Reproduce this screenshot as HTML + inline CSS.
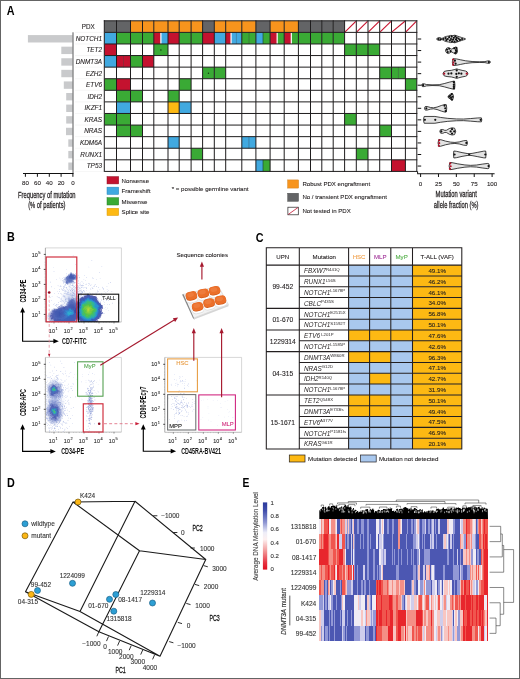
<!DOCTYPE html>
<html lang="en">
<head>
<meta charset="utf-8">
<title>Figure: PDX engraftment, mutation hierarchy and DNA methylation in T-ALL</title>
<style>
html,body{margin:0;padding:0;background:#fff}
body{width:520px;height:679px;overflow:hidden;font-family:"Liberation Sans",sans-serif}
#fig{position:relative;width:520px;height:679px;overflow:hidden;background:#fff}
#fig svg{position:absolute;left:0;top:0;display:block;will-change:transform}
#fig text{font-family:"Liberation Sans",sans-serif}
</style>
</head>
<body>
<div id="fig">
<svg width="520" height="679" viewBox="0 0 520 679">
<!-- frame -->
<rect x="0.5" y="0.5" width="519" height="678" fill="#fff" stroke="#646464" stroke-width="1"/>
<g id="panelA">
<text x="0.00" y="4.30" font-size="12" font-weight="bold" fill="#000" transform="translate(6.70 10.40) scale(0.9 1)">A</text>
<rect x="104.30" y="20.80" width="12.20" height="11.59" fill="#636466"/>
<rect x="116.50" y="20.80" width="14.00" height="11.59" fill="#636466"/>
<rect x="130.50" y="20.80" width="12.00" height="11.59" fill="#f7941d"/>
<rect x="142.50" y="20.80" width="11.30" height="11.59" fill="#f7941d"/>
<rect x="153.80" y="20.80" width="14.20" height="11.59" fill="#f7941d"/>
<rect x="168.00" y="20.80" width="11.20" height="11.59" fill="#f7941d"/>
<rect x="179.20" y="20.80" width="11.90" height="11.59" fill="#f7941d"/>
<rect x="191.10" y="20.80" width="11.50" height="11.59" fill="#f7941d"/>
<rect x="202.60" y="20.80" width="11.70" height="11.59" fill="#636466"/>
<rect x="214.30" y="20.80" width="11.40" height="11.59" fill="#f7941d"/>
<rect x="225.70" y="20.80" width="16.10" height="11.59" fill="#f7941d"/>
<rect x="241.80" y="20.80" width="14.10" height="11.59" fill="#f7941d"/>
<rect x="255.90" y="20.80" width="14.20" height="11.59" fill="#636466"/>
<rect x="270.10" y="20.80" width="14.10" height="11.59" fill="#f7941d"/>
<rect x="284.20" y="20.80" width="14.20" height="11.59" fill="#f7941d"/>
<rect x="298.40" y="20.80" width="12.10" height="11.59" fill="#636466"/>
<rect x="310.50" y="20.80" width="11.30" height="11.59" fill="#636466"/>
<rect x="321.80" y="20.80" width="11.40" height="11.59" fill="#636466"/>
<rect x="333.20" y="20.80" width="11.40" height="11.59" fill="#636466"/>
<line x1="345.10" y1="31.89" x2="355.80" y2="21.30" stroke="#c8142f" stroke-width="1.15"/>
<line x1="356.80" y1="31.89" x2="367.50" y2="21.30" stroke="#c8142f" stroke-width="1.15"/>
<line x1="368.50" y1="31.89" x2="379.20" y2="21.30" stroke="#c8142f" stroke-width="1.15"/>
<line x1="380.20" y1="31.89" x2="391.00" y2="21.30" stroke="#c8142f" stroke-width="1.15"/>
<line x1="392.00" y1="31.89" x2="404.90" y2="21.30" stroke="#c8142f" stroke-width="1.15"/>
<line x1="405.90" y1="31.89" x2="416.30" y2="21.30" stroke="#c8142f" stroke-width="1.15"/>
<rect x="104.30" y="32.39" width="12.20" height="11.58" fill="#41a9e0"/>
<rect x="116.50" y="32.39" width="14.00" height="11.58" fill="#3aaa35"/>
<rect x="130.50" y="32.39" width="12.00" height="11.58" fill="#3aaa35"/>
<rect x="142.50" y="32.39" width="11.30" height="11.58" fill="#3aaa35"/>
<rect x="153.80" y="32.39" width="7.10" height="11.58" fill="#c4122f"/>
<rect x="160.90" y="32.39" width="7.10" height="11.58" fill="#41a9e0"/>
<rect x="160.30" y="32.39" width="1.20" height="11.58" fill="#fff"/>
<rect x="168.00" y="32.39" width="11.20" height="11.58" fill="#c4122f"/>
<rect x="179.20" y="32.39" width="11.90" height="11.58" fill="#3aaa35"/>
<rect x="191.10" y="32.39" width="11.50" height="11.58" fill="#3aaa35"/>
<rect x="202.60" y="32.39" width="11.70" height="11.58" fill="#c4122f"/>
<rect x="214.30" y="32.39" width="11.40" height="11.58" fill="#41a9e0"/>
<rect x="225.70" y="32.39" width="5.37" height="11.58" fill="#c4122f"/>
<rect x="231.07" y="32.39" width="5.37" height="11.58" fill="#41a9e0"/>
<rect x="236.43" y="32.39" width="5.37" height="11.58" fill="#41a9e0"/>
<rect x="230.47" y="32.39" width="1.20" height="11.58" fill="#fff"/>
<line x1="236.43" y1="32.39" x2="236.43" y2="43.97" stroke="#1c5f86" stroke-width="0.6"/>
<rect x="241.80" y="32.39" width="7.05" height="11.58" fill="#3aaa35"/>
<rect x="248.85" y="32.39" width="7.05" height="11.58" fill="#3aaa35"/>
<line x1="248.85" y1="32.39" x2="248.85" y2="43.97" stroke="#1d5a1c" stroke-width="0.6"/>
<rect x="255.90" y="32.39" width="7.10" height="11.58" fill="#41a9e0"/>
<rect x="263.00" y="32.39" width="7.10" height="11.58" fill="#3aaa35"/>
<line x1="263.00" y1="32.39" x2="263.00" y2="43.97" stroke="#1d4a3a" stroke-width="0.7"/>
<rect x="270.10" y="32.39" width="7.05" height="11.58" fill="#c4122f"/>
<rect x="277.15" y="32.39" width="7.05" height="11.58" fill="#3aaa35"/>
<rect x="276.55" y="32.39" width="1.20" height="11.58" fill="#fff"/>
<rect x="284.20" y="32.39" width="7.10" height="11.58" fill="#c4122f"/>
<rect x="291.30" y="32.39" width="7.10" height="11.58" fill="#3aaa35"/>
<rect x="290.70" y="32.39" width="1.20" height="11.58" fill="#fff"/>
<rect x="298.40" y="32.39" width="12.10" height="11.58" fill="#3aaa35"/>
<rect x="310.50" y="32.39" width="11.30" height="11.58" fill="#3aaa35"/>
<rect x="321.80" y="32.39" width="11.40" height="11.58" fill="#3aaa35"/>
<rect x="333.20" y="32.39" width="11.40" height="11.58" fill="#3aaa35"/>
<rect x="104.30" y="43.97" width="12.20" height="11.59" fill="#c4122f"/>
<rect x="153.80" y="43.97" width="14.20" height="11.59" fill="#3aaa35"/>
<rect x="344.60" y="43.97" width="11.70" height="11.59" fill="#3aaa35"/>
<rect x="356.30" y="43.97" width="11.70" height="11.59" fill="#3aaa35"/>
<rect x="368.00" y="43.97" width="11.70" height="11.59" fill="#3aaa35"/>
<rect x="104.30" y="55.56" width="12.20" height="11.58" fill="#41a9e0"/>
<rect x="116.50" y="55.56" width="7.00" height="11.58" fill="#c4122f"/>
<rect x="123.50" y="55.56" width="7.00" height="11.58" fill="#c4122f"/>
<line x1="123.50" y1="55.56" x2="123.50" y2="67.14" stroke="#6a0a18" stroke-width="0.6"/>
<rect x="130.50" y="55.56" width="12.00" height="11.58" fill="#3aaa35"/>
<rect x="142.50" y="55.56" width="11.30" height="11.58" fill="#c4122f"/>
<rect x="202.60" y="67.14" width="11.70" height="11.59" fill="#3aaa35"/>
<rect x="214.30" y="67.14" width="11.40" height="11.59" fill="#3aaa35"/>
<rect x="379.70" y="67.14" width="11.80" height="11.59" fill="#3aaa35"/>
<rect x="391.50" y="67.14" width="6.95" height="11.59" fill="#3aaa35"/>
<rect x="398.45" y="67.14" width="6.95" height="11.59" fill="#3aaa35"/>
<line x1="398.45" y1="67.14" x2="398.45" y2="78.73" stroke="#1d5a1c" stroke-width="0.6"/>
<rect x="104.30" y="78.73" width="12.20" height="11.58" fill="#3aaa35"/>
<rect x="116.50" y="78.73" width="14.00" height="11.58" fill="#c4122f"/>
<rect x="179.20" y="78.73" width="11.90" height="11.58" fill="#3aaa35"/>
<rect x="405.40" y="78.73" width="11.40" height="11.58" fill="#3aaa35"/>
<rect x="116.50" y="90.31" width="14.00" height="11.58" fill="#3aaa35"/>
<rect x="130.50" y="90.31" width="12.00" height="11.58" fill="#3aaa35"/>
<rect x="168.00" y="90.31" width="11.20" height="11.58" fill="#3aaa35"/>
<rect x="116.50" y="101.89" width="14.00" height="11.59" fill="#41a9e0"/>
<rect x="168.00" y="101.89" width="11.20" height="11.59" fill="#fdb913"/>
<rect x="179.20" y="101.89" width="11.90" height="11.59" fill="#41a9e0"/>
<rect x="104.30" y="113.48" width="12.20" height="11.59" fill="#3aaa35"/>
<rect x="116.50" y="113.48" width="14.00" height="11.59" fill="#3aaa35"/>
<rect x="344.60" y="113.48" width="11.70" height="11.59" fill="#3aaa35"/>
<rect x="116.50" y="125.07" width="14.00" height="11.58" fill="#3aaa35"/>
<rect x="130.50" y="125.07" width="12.00" height="11.58" fill="#3aaa35"/>
<rect x="379.70" y="125.07" width="11.80" height="11.58" fill="#3aaa35"/>
<rect x="168.00" y="136.65" width="11.20" height="11.59" fill="#41a9e0"/>
<rect x="241.80" y="136.65" width="7.05" height="11.59" fill="#41a9e0"/>
<rect x="248.85" y="136.65" width="7.05" height="11.59" fill="#41a9e0"/>
<line x1="248.85" y1="136.65" x2="248.85" y2="148.24" stroke="#1c5f86" stroke-width="0.6"/>
<rect x="191.10" y="148.24" width="11.50" height="11.59" fill="#3aaa35"/>
<rect x="356.30" y="148.24" width="11.70" height="11.59" fill="#3aaa35"/>
<rect x="255.90" y="159.82" width="7.10" height="11.59" fill="#41a9e0"/>
<rect x="263.00" y="159.82" width="7.10" height="11.59" fill="#3aaa35"/>
<line x1="263.00" y1="159.82" x2="263.00" y2="171.41" stroke="#1d4a3a" stroke-width="0.7"/>
<rect x="391.50" y="159.82" width="13.90" height="11.59" fill="#c4122f"/>
<circle cx="160.90" cy="50.06" r="0.70" fill="#12350f"/>
<circle cx="208.45" cy="73.23" r="0.70" fill="#12350f"/>
<path d="M104.30 20.80V171.41M116.50 20.80V171.41M130.50 20.80V171.41M142.50 20.80V171.41M153.80 20.80V171.41M168.00 20.80V171.41M179.20 20.80V171.41M191.10 20.80V171.41M202.60 20.80V171.41M214.30 20.80V171.41M225.70 20.80V171.41M241.80 20.80V171.41M255.90 20.80V171.41M270.10 20.80V171.41M284.20 20.80V171.41M298.40 20.80V171.41M310.50 20.80V171.41M321.80 20.80V171.41M333.20 20.80V171.41M344.60 20.80V171.41M356.30 20.80V171.41M368.00 20.80V171.41M379.70 20.80V171.41M391.50 20.80V171.41M405.40 20.80V171.41M416.80 20.80V171.41M104.30 20.80H416.80M104.30 32.39H416.80M104.30 43.97H416.80M104.30 55.56H416.80M104.30 67.14H416.80M104.30 78.73H416.80M104.30 90.31H416.80M104.30 101.89H416.80M104.30 113.48H416.80M104.30 125.07H416.80M104.30 136.65H416.80M104.30 148.24H416.80M104.30 159.82H416.80M104.30 171.41H416.80" fill="none" stroke="#1f1d1e" stroke-width="1" stroke-linecap="square"/>
<text x="88.30" y="29.05" font-size="6.3" text-anchor="middle" fill="#231f20" stroke="#231f20" stroke-width="0.1">PDX</text>
<text x="102.00" y="40.77" font-size="6.4" text-anchor="end" font-style="italic" fill="#231f20" stroke="#231f20" stroke-width="0.1">NOTCH1</text>
<text x="102.00" y="52.35" font-size="6.4" text-anchor="end" font-style="italic" fill="#231f20" stroke="#231f20" stroke-width="0.1">TET2</text>
<text x="102.00" y="63.94" font-size="6.4" text-anchor="end" font-style="italic" fill="#231f20" stroke="#231f20" stroke-width="0.1">DNMT3A</text>
<text x="102.00" y="75.52" font-size="6.4" text-anchor="end" font-style="italic" fill="#231f20" stroke="#231f20" stroke-width="0.1">EZH2</text>
<text x="102.00" y="87.11" font-size="6.4" text-anchor="end" font-style="italic" fill="#231f20" stroke="#231f20" stroke-width="0.1">ETV6</text>
<text x="102.00" y="98.69" font-size="6.4" text-anchor="end" font-style="italic" fill="#231f20" stroke="#231f20" stroke-width="0.1">IDH2</text>
<text x="102.00" y="110.28" font-size="6.4" text-anchor="end" font-style="italic" fill="#231f20" stroke="#231f20" stroke-width="0.1">IKZF1</text>
<text x="102.00" y="121.86" font-size="6.4" text-anchor="end" font-style="italic" fill="#231f20" stroke="#231f20" stroke-width="0.1">KRAS</text>
<text x="102.00" y="133.45" font-size="6.4" text-anchor="end" font-style="italic" fill="#231f20" stroke="#231f20" stroke-width="0.1">NRAS</text>
<text x="102.00" y="145.03" font-size="6.4" text-anchor="end" font-style="italic" fill="#231f20" stroke="#231f20" stroke-width="0.1">KDM6A</text>
<text x="102.00" y="156.62" font-size="6.4" text-anchor="end" font-style="italic" fill="#231f20" stroke="#231f20" stroke-width="0.1">RUNX1</text>
<text x="102.00" y="168.20" font-size="6.4" text-anchor="end" font-style="italic" fill="#231f20" stroke="#231f20" stroke-width="0.1">TP53</text>
<line x1="75.00" y1="32.39" x2="104.30" y2="32.39" stroke="#ececec" stroke-width="0.5"/>
<line x1="75.00" y1="43.97" x2="104.30" y2="43.97" stroke="#ececec" stroke-width="0.5"/>
<line x1="75.00" y1="55.56" x2="104.30" y2="55.56" stroke="#ececec" stroke-width="0.5"/>
<line x1="75.00" y1="67.14" x2="104.30" y2="67.14" stroke="#ececec" stroke-width="0.5"/>
<line x1="75.00" y1="78.73" x2="104.30" y2="78.73" stroke="#ececec" stroke-width="0.5"/>
<line x1="75.00" y1="90.31" x2="104.30" y2="90.31" stroke="#ececec" stroke-width="0.5"/>
<line x1="75.00" y1="101.89" x2="104.30" y2="101.89" stroke="#ececec" stroke-width="0.5"/>
<line x1="75.00" y1="113.48" x2="104.30" y2="113.48" stroke="#ececec" stroke-width="0.5"/>
<line x1="75.00" y1="125.07" x2="104.30" y2="125.07" stroke="#ececec" stroke-width="0.5"/>
<line x1="75.00" y1="136.65" x2="104.30" y2="136.65" stroke="#ececec" stroke-width="0.5"/>
<line x1="75.00" y1="148.24" x2="104.30" y2="148.24" stroke="#ececec" stroke-width="0.5"/>
<line x1="75.00" y1="159.82" x2="104.30" y2="159.82" stroke="#ececec" stroke-width="0.5"/>
<line x1="75.00" y1="171.41" x2="104.30" y2="171.41" stroke="#ececec" stroke-width="0.5"/>
<rect x="27.90" y="35.08" width="44.70" height="7.40" fill="#c9cacc"/>
<rect x="61.30" y="46.66" width="11.30" height="7.40" fill="#c9cacc"/>
<rect x="61.30" y="58.25" width="11.30" height="7.40" fill="#c9cacc"/>
<rect x="61.30" y="69.83" width="11.30" height="7.40" fill="#c9cacc"/>
<rect x="63.80" y="81.42" width="8.80" height="7.40" fill="#c9cacc"/>
<rect x="66.20" y="93.00" width="6.40" height="7.40" fill="#c9cacc"/>
<rect x="66.20" y="104.59" width="6.40" height="7.40" fill="#c9cacc"/>
<rect x="66.20" y="116.17" width="6.40" height="7.40" fill="#c9cacc"/>
<rect x="66.00" y="127.76" width="6.60" height="7.40" fill="#c9cacc"/>
<rect x="68.30" y="139.34" width="4.30" height="7.40" fill="#c9cacc"/>
<rect x="68.30" y="150.93" width="4.30" height="7.40" fill="#c9cacc"/>
<rect x="68.30" y="162.51" width="4.30" height="7.40" fill="#c9cacc"/>
<line x1="73.00" y1="32.30" x2="73.00" y2="173.50" stroke="#58595b" stroke-width="1"/>
<line x1="23.00" y1="173.50" x2="73.50" y2="173.50" stroke="#111" stroke-width="1.1"/>
<line x1="25.40" y1="173.50" x2="25.40" y2="176.80" stroke="#111" stroke-width="1"/>
<text x="25.40" y="185.42" font-size="6.2" text-anchor="middle" fill="#231f20" stroke="#231f20" stroke-width="0.1">80</text>
<line x1="37.40" y1="173.50" x2="37.40" y2="176.80" stroke="#111" stroke-width="1"/>
<text x="37.40" y="185.42" font-size="6.2" text-anchor="middle" fill="#231f20" stroke="#231f20" stroke-width="0.1">60</text>
<line x1="49.30" y1="173.50" x2="49.30" y2="176.80" stroke="#111" stroke-width="1"/>
<text x="49.30" y="185.42" font-size="6.2" text-anchor="middle" fill="#231f20" stroke="#231f20" stroke-width="0.1">40</text>
<line x1="61.10" y1="173.50" x2="61.10" y2="176.80" stroke="#111" stroke-width="1"/>
<text x="61.10" y="185.42" font-size="6.2" text-anchor="middle" fill="#231f20" stroke="#231f20" stroke-width="0.1">20</text>
<line x1="72.90" y1="173.50" x2="72.90" y2="176.80" stroke="#111" stroke-width="1"/>
<text x="72.90" y="185.42" font-size="6.2" text-anchor="middle" fill="#231f20" stroke="#231f20" stroke-width="0.1">0</text>
<text x="0.00" y="3.01" font-size="8.4" text-anchor="middle" fill="#231f20" transform="translate(46.80 194.60) scale(0.69 1)" stroke="#231f20" stroke-width="0.25">Frequency of mutation</text>
<text x="0.00" y="3.01" font-size="8.4" text-anchor="middle" fill="#231f20" transform="translate(46.80 204.80) scale(0.69 1)" stroke="#231f20" stroke-width="0.25">(% of patients)</text>
<rect x="107.00" y="176.60" width="11.70" height="7.30" fill="#c4122f" stroke="#8e0d22" stroke-width="0.5"/>
<text x="121.60" y="182.58" font-size="6.1" fill="#231f20" stroke="#231f20" stroke-width="0.1">Nonsense</text>
<rect x="107.00" y="187.15" width="11.70" height="7.30" fill="#41a9e0" stroke="#2b86b8" stroke-width="0.5"/>
<text x="121.60" y="193.13" font-size="6.1" fill="#231f20" stroke="#231f20" stroke-width="0.1">Frameshift</text>
<rect x="107.00" y="197.70" width="11.70" height="7.30" fill="#3aaa35" stroke="#2b7f28" stroke-width="0.5"/>
<text x="121.60" y="203.68" font-size="6.1" fill="#231f20" stroke="#231f20" stroke-width="0.1">Missense</text>
<rect x="107.00" y="208.25" width="11.70" height="7.30" fill="#fdb913" stroke="#d99a0c" stroke-width="0.5"/>
<text x="121.60" y="214.23" font-size="6.1" fill="#231f20" stroke="#231f20" stroke-width="0.1">Splice site</text>
<text x="171.80" y="191.38" font-size="6.1" fill="#231f20" stroke="#231f20" stroke-width="0.1">* = possible germline variant</text>
<rect x="287.60" y="179.90" width="11.00" height="8.20" fill="#f7941d" stroke="#c9760f" stroke-width="0.4"/>
<text x="302.40" y="186.18" font-size="6.1" fill="#231f20" stroke="#231f20" stroke-width="0.1">Robust PDX engraftment</text>
<rect x="287.60" y="193.20" width="11.00" height="8.20" fill="#636466" stroke="#4a4a4a" stroke-width="0.4"/>
<text x="302.40" y="199.48" font-size="6.1" fill="#231f20" stroke="#231f20" stroke-width="0.1">No / transient PDX engraftment</text>
<rect x="287.90" y="207.20" width="10.40" height="7.60" fill="#fff" stroke="#231f20" stroke-width="0.7"/>
<line x1="288.30" y1="214.40" x2="297.90" y2="207.60" stroke="#c4122f" stroke-width="0.8"/>
<text x="302.40" y="213.18" font-size="6.1" fill="#231f20" stroke="#231f20" stroke-width="0.1">Not tested in PDX</text>
<line x1="417.60" y1="171.41" x2="417.60" y2="173.70" stroke="#111" stroke-width="1"/>
<line x1="417.20" y1="173.70" x2="494.60" y2="173.70" stroke="#111" stroke-width="1.1"/>
<line x1="417.60" y1="39.00" x2="421.20" y2="39.00" stroke="#111" stroke-width="1"/>
<line x1="417.60" y1="50.55" x2="421.20" y2="50.55" stroke="#111" stroke-width="1"/>
<line x1="417.60" y1="62.10" x2="421.20" y2="62.10" stroke="#111" stroke-width="1"/>
<line x1="417.60" y1="73.65" x2="421.20" y2="73.65" stroke="#111" stroke-width="1"/>
<line x1="417.60" y1="85.20" x2="421.20" y2="85.20" stroke="#111" stroke-width="1"/>
<line x1="417.60" y1="96.75" x2="421.20" y2="96.75" stroke="#111" stroke-width="1"/>
<line x1="417.60" y1="108.30" x2="421.20" y2="108.30" stroke="#111" stroke-width="1"/>
<line x1="417.60" y1="119.85" x2="421.20" y2="119.85" stroke="#111" stroke-width="1"/>
<line x1="417.60" y1="131.40" x2="421.20" y2="131.40" stroke="#111" stroke-width="1"/>
<line x1="417.60" y1="142.95" x2="421.20" y2="142.95" stroke="#111" stroke-width="1"/>
<line x1="417.60" y1="154.50" x2="421.20" y2="154.50" stroke="#111" stroke-width="1"/>
<line x1="417.60" y1="166.05" x2="421.20" y2="166.05" stroke="#111" stroke-width="1"/>
<line x1="420.60" y1="173.70" x2="420.60" y2="177.00" stroke="#111" stroke-width="1"/>
<text x="420.60" y="185.52" font-size="6.2" text-anchor="middle" fill="#231f20" stroke="#231f20" stroke-width="0.1">0</text>
<line x1="438.48" y1="173.70" x2="438.48" y2="177.00" stroke="#111" stroke-width="1"/>
<text x="438.48" y="185.52" font-size="6.2" text-anchor="middle" fill="#231f20" stroke="#231f20" stroke-width="0.1">25</text>
<line x1="456.35" y1="173.70" x2="456.35" y2="177.00" stroke="#111" stroke-width="1"/>
<text x="456.35" y="185.52" font-size="6.2" text-anchor="middle" fill="#231f20" stroke="#231f20" stroke-width="0.1">50</text>
<line x1="474.23" y1="173.70" x2="474.23" y2="177.00" stroke="#111" stroke-width="1"/>
<text x="474.23" y="185.52" font-size="6.2" text-anchor="middle" fill="#231f20" stroke="#231f20" stroke-width="0.1">75</text>
<line x1="492.10" y1="173.70" x2="492.10" y2="177.00" stroke="#111" stroke-width="1"/>
<text x="492.10" y="185.52" font-size="6.2" text-anchor="middle" fill="#231f20" stroke="#231f20" stroke-width="0.1">100</text>
<text x="0.00" y="3.01" font-size="8.4" text-anchor="middle" fill="#231f20" transform="translate(456.20 194.40) scale(0.69 1)" stroke="#231f20" stroke-width="0.25">Mutation variant</text>
<text x="0.00" y="3.01" font-size="8.4" text-anchor="middle" fill="#231f20" transform="translate(456.20 204.90) scale(0.69 1)" stroke="#231f20" stroke-width="0.25">allele fraction (%)</text>
<path d="M436.69 38.70L438.12 37.70L439.91 37.60L441.69 38.40L443.12 38.00L444.55 37.00L446.34 36.40L448.49 36.00L450.63 35.40L452.78 35.60L454.92 35.20L457.07 36.00L459.21 36.70L461.36 37.40L463.50 38.10L465.29 38.60L465.29 39.40L463.50 39.90L461.36 40.60L459.21 41.30L457.07 42.00L454.92 42.80L452.78 42.40L450.63 42.60L448.49 42.00L446.34 41.60L444.55 41.00L443.12 40.00L441.69 39.60L439.91 40.40L438.12 40.30L436.69 39.30Z" fill="#e3e3e3" stroke="#141414" stroke-width="0.8" stroke-linejoin="round"/>
<circle cx="438.48" cy="39.00" r="1.10" fill="#111"/>
<circle cx="440.62" cy="39.30" r="1.10" fill="#111"/>
<circle cx="443.48" cy="39.00" r="1.10" fill="#111"/>
<circle cx="445.62" cy="38.10" r="1.10" fill="#111"/>
<circle cx="446.34" cy="40.20" r="1.10" fill="#111"/>
<circle cx="447.77" cy="39.00" r="1.10" fill="#111"/>
<circle cx="449.20" cy="37.20" r="1.10" fill="#111"/>
<circle cx="449.92" cy="40.60" r="1.10" fill="#111"/>
<circle cx="450.99" cy="39.00" r="1.10" fill="#111"/>
<circle cx="451.70" cy="36.60" r="1.10" fill="#111"/>
<circle cx="452.06" cy="41.30" r="1.10" fill="#111"/>
<circle cx="453.13" cy="39.60" r="1.10" fill="#111"/>
<circle cx="453.85" cy="37.80" r="1.10" fill="#111"/>
<circle cx="454.56" cy="41.60" r="1.10" fill="#111"/>
<circle cx="455.28" cy="36.40" r="1.10" fill="#111"/>
<circle cx="455.99" cy="39.40" r="1.10" fill="#111"/>
<circle cx="456.71" cy="37.80" r="1.10" fill="#111"/>
<circle cx="457.07" cy="40.80" r="1.10" fill="#111"/>
<circle cx="458.50" cy="38.60" r="1.10" fill="#111"/>
<circle cx="459.93" cy="39.90" r="1.10" fill="#111"/>
<circle cx="462.07" cy="39.00" r="1.10" fill="#111"/>
<path d="M445.62 49.95L446.70 48.15L448.49 47.55L450.27 48.55L451.70 49.15L453.49 48.15L455.28 47.05L456.71 47.55L457.42 49.95L457.42 51.15L456.71 53.55L455.28 54.05L453.49 52.95L451.70 51.95L450.27 52.55L448.49 53.55L446.70 52.95L445.62 51.15Z" fill="#e3e3e3" stroke="#141414" stroke-width="0.8" stroke-linejoin="round"/>
<circle cx="447.06" cy="49.75" r="1.10" fill="#111"/>
<circle cx="447.77" cy="52.05" r="1.10" fill="#111"/>
<circle cx="449.20" cy="48.75" r="1.10" fill="#111"/>
<circle cx="450.63" cy="51.15" r="1.10" fill="#111"/>
<circle cx="454.21" cy="48.35" r="1.10" fill="#111"/>
<circle cx="455.28" cy="52.95" r="1.10" fill="#111"/>
<circle cx="455.99" cy="50.15" r="1.10" fill="#111"/>
<circle cx="456.35" cy="51.75" r="1.10" fill="#111"/>
<circle cx="456.35" cy="47.95" r="1.10" fill="#111"/>
<path d="M452.42 61.60L453.13 58.70L456.35 58.90L460.64 59.80L465.65 60.80L472.08 61.50L479.23 61.75L484.95 61.60L487.81 60.90L489.60 60.90L490.31 61.80L490.31 62.40L489.60 63.30L487.81 63.30L484.95 62.60L479.23 62.45L472.08 62.70L465.65 63.40L460.64 64.40L456.35 65.30L453.13 65.50L452.42 62.60Z" fill="#e3e3e3" stroke="#141414" stroke-width="0.8" stroke-linejoin="round"/>
<circle cx="453.13" cy="59.50" r="1.10" fill="#b3122a"/>
<circle cx="453.13" cy="64.70" r="1.10" fill="#b3122a"/>
<circle cx="453.49" cy="62.30" r="1.10" fill="#b3122a"/>
<circle cx="454.92" cy="60.70" r="1.10" fill="#111"/>
<circle cx="455.63" cy="63.70" r="1.10" fill="#111"/>
<circle cx="488.88" cy="62.10" r="1.10" fill="#111"/>
<path d="M443.12 73.15L444.20 71.45L447.06 70.75L451.35 70.35L454.92 69.45L456.71 68.85L458.50 69.45L462.07 70.35L465.65 71.05L467.08 71.85L467.79 73.15L467.79 74.15L467.08 75.45L465.65 76.25L462.07 76.95L458.50 77.85L456.71 78.45L454.92 77.85L451.35 76.95L447.06 76.55L444.20 75.85L443.12 74.15Z" fill="#e3e3e3" stroke="#141414" stroke-width="0.8" stroke-linejoin="round"/>
<circle cx="444.20" cy="73.65" r="1.10" fill="#b3122a"/>
<circle cx="466.72" cy="73.65" r="1.10" fill="#b3122a"/>
<circle cx="448.49" cy="73.65" r="1.10" fill="#111"/>
<circle cx="451.35" cy="73.45" r="1.10" fill="#111"/>
<circle cx="456.35" cy="73.95" r="1.10" fill="#111"/>
<circle cx="458.85" cy="73.35" r="1.10" fill="#111"/>
<circle cx="461.36" cy="73.65" r="1.10" fill="#111"/>
<circle cx="456.71" cy="70.45" r="1.10" fill="#111"/>
<circle cx="456.71" cy="76.85" r="1.10" fill="#111"/>
<path d="M421.67 84.70L422.39 83.80L424.18 83.80L426.32 84.50L432.04 84.85L439.19 84.70L444.20 83.60L449.20 82.20L453.49 81.20L454.56 81.20L454.92 84.80L454.92 85.60L454.56 89.20L453.49 89.20L449.20 88.20L444.20 86.80L439.19 85.70L432.04 85.55L426.32 85.90L424.18 86.60L422.39 86.60L421.67 85.70Z" fill="#e3e3e3" stroke="#141414" stroke-width="0.8" stroke-linejoin="round"/>
<circle cx="423.10" cy="85.20" r="1.10" fill="#111"/>
<circle cx="453.85" cy="82.20" r="1.10" fill="#111"/>
<circle cx="453.85" cy="84.60" r="1.10" fill="#111"/>
<circle cx="453.85" cy="86.40" r="1.10" fill="#111"/>
<circle cx="453.85" cy="88.20" r="1.10" fill="#111"/>
<path d="M448.13 96.35L448.84 95.25L449.92 94.85L450.99 93.55L452.42 93.45L453.13 94.95L453.49 96.35L453.49 97.15L453.13 98.55L452.42 100.05L450.99 99.95L449.92 98.65L448.84 98.25L448.13 97.15Z" fill="#e3e3e3" stroke="#141414" stroke-width="0.8" stroke-linejoin="round"/>
<circle cx="449.20" cy="96.75" r="1.10" fill="#111"/>
<circle cx="450.27" cy="95.75" r="1.10" fill="#111"/>
<circle cx="450.99" cy="97.95" r="1.10" fill="#111"/>
<circle cx="451.70" cy="94.15" r="1.10" fill="#111"/>
<circle cx="452.06" cy="99.55" r="1.10" fill="#111"/>
<circle cx="452.42" cy="96.75" r="1.10" fill="#111"/>
<path d="M424.53 107.90L425.25 106.50L427.04 106.50L430.61 107.50L433.47 107.80L437.05 107.10L441.34 105.50L444.91 104.50L446.34 104.70L446.70 107.90L446.70 108.70L446.34 111.90L444.91 112.10L441.34 111.10L437.05 109.50L433.47 108.80L430.61 109.10L427.04 110.10L425.25 110.10L424.53 108.70Z" fill="#e3e3e3" stroke="#141414" stroke-width="0.8" stroke-linejoin="round"/>
<circle cx="426.32" cy="108.30" r="1.10" fill="#111"/>
<circle cx="444.55" cy="105.70" r="1.10" fill="#111"/>
<circle cx="445.27" cy="108.30" r="1.10" fill="#111"/>
<circle cx="445.62" cy="111.10" r="1.10" fill="#111"/>
<path d="M423.46 119.45L424.18 116.45L434.90 116.45L440.62 117.45L447.77 118.35L456.35 118.95L463.50 119.05L470.65 118.55L477.80 117.95L481.38 117.85L481.73 119.45L481.73 120.25L481.38 121.85L477.80 121.75L470.65 121.15L463.50 120.65L456.35 120.75L447.77 121.35L440.62 122.25L434.90 123.25L424.18 123.25L423.46 120.25Z" fill="#e3e3e3" stroke="#141414" stroke-width="0.8" stroke-linejoin="round"/>
<circle cx="424.89" cy="119.85" r="1.10" fill="#111"/>
<circle cx="435.26" cy="119.85" r="1.10" fill="#111"/>
<circle cx="480.66" cy="119.85" r="1.10" fill="#111"/>
<path d="M439.91 131.00L440.62 129.60L442.77 129.50L444.91 130.40L446.70 130.20L449.20 128.60L452.06 127.80L454.56 128.20L455.63 131.00L455.63 131.80L454.56 134.60L452.06 135.00L449.20 134.20L446.70 132.60L444.91 132.40L442.77 133.30L440.62 133.20L439.91 131.80Z" fill="#e3e3e3" stroke="#141414" stroke-width="0.8" stroke-linejoin="round"/>
<circle cx="441.34" cy="131.40" r="1.10" fill="#111"/>
<circle cx="450.63" cy="131.40" r="1.10" fill="#111"/>
<circle cx="452.06" cy="129.20" r="1.10" fill="#111"/>
<circle cx="452.06" cy="133.60" r="1.10" fill="#111"/>
<circle cx="454.21" cy="131.40" r="1.10" fill="#111"/>
<path d="M438.12 142.55L438.83 139.45L440.62 139.65L445.62 141.15L450.63 142.15L454.92 142.45L459.21 141.95L463.50 140.75L466.72 140.45L467.43 142.55L467.43 143.35L466.72 145.45L463.50 145.15L459.21 143.95L454.92 143.45L450.63 143.75L445.62 144.75L440.62 146.25L438.83 146.45L438.12 143.35Z" fill="#e3e3e3" stroke="#141414" stroke-width="0.8" stroke-linejoin="round"/>
<circle cx="439.19" cy="140.35" r="1.10" fill="#b3122a"/>
<circle cx="438.83" cy="145.75" r="1.10" fill="#b3122a"/>
<circle cx="439.19" cy="143.15" r="1.10" fill="#b3122a"/>
<circle cx="466.36" cy="142.95" r="1.10" fill="#111"/>
<path d="M453.49 154.10L453.85 151.00L456.35 151.30L462.07 152.60L467.08 153.50L469.22 153.70L472.08 153.40L477.80 152.30L483.52 151.20L485.67 151.00L486.02 154.10L486.02 154.90L485.67 158.00L483.52 157.80L477.80 156.70L472.08 155.60L469.22 155.30L467.08 155.50L462.07 156.40L456.35 157.70L453.85 158.00L453.49 154.90Z" fill="#e3e3e3" stroke="#141414" stroke-width="0.8" stroke-linejoin="round"/>
<circle cx="454.56" cy="154.50" r="1.10" fill="#111"/>
<circle cx="469.22" cy="154.50" r="1.10" fill="#111"/>
<circle cx="485.31" cy="154.50" r="1.10" fill="#111"/>
<path d="M449.20 165.65L449.92 162.45L452.06 162.65L457.78 163.85L464.93 164.95L470.65 165.35L476.37 165.05L482.81 164.05L487.81 163.45L488.88 163.85L489.24 165.65L489.24 166.45L488.88 168.25L487.81 168.65L482.81 168.05L476.37 167.05L470.65 166.75L464.93 167.15L457.78 168.25L452.06 169.45L449.92 169.65L449.20 166.45Z" fill="#e3e3e3" stroke="#141414" stroke-width="0.8" stroke-linejoin="round"/>
<circle cx="450.27" cy="163.45" r="1.10" fill="#b3122a"/>
<circle cx="449.92" cy="168.85" r="1.10" fill="#b3122a"/>
<circle cx="450.63" cy="166.25" r="1.10" fill="#b3122a"/>
<circle cx="488.53" cy="166.05" r="1.10" fill="#111"/>
</g>
<g id="panelB">
<text x="0.00" y="4.30" font-size="12" font-weight="bold" fill="#000" transform="translate(7.00 237.00) scale(0.9 1)">B</text>
<defs>
<radialGradient id="gMain" cx="0.5" cy="0.5" r="0.5">
<stop offset="0" stop-color="#bcd832"/><stop offset="0.14" stop-color="#93d03a"/>
<stop offset="0.34" stop-color="#52c24a"/><stop offset="0.5" stop-color="#2fb59a"/>
<stop offset="0.62" stop-color="#2a93d2"/><stop offset="0.76" stop-color="#3560bd"/>
<stop offset="0.9" stop-color="#39429f" stop-opacity="0.85"/><stop offset="1" stop-color="#39429f" stop-opacity="0"/>
</radialGradient>
<radialGradient id="gBlue" cx="0.5" cy="0.5" r="0.5">
<stop offset="0" stop-color="#2c8fd0"/><stop offset="0.3" stop-color="#3366bf"/>
<stop offset="0.7" stop-color="#3a49a5" stop-opacity="0.9"/><stop offset="1" stop-color="#4a58b0" stop-opacity="0"/>
</radialGradient>
<radialGradient id="gBlue2" cx="0.5" cy="0.5" r="0.5">
<stop offset="0" stop-color="#3d55ad" stop-opacity="0.95"/><stop offset="0.6" stop-color="#4a60b4" stop-opacity="0.8"/>
<stop offset="1" stop-color="#6f83c8" stop-opacity="0"/>
</radialGradient>
<radialGradient id="gCyanCore" cx="0.5" cy="0.5" r="0.5">
<stop offset="0" stop-color="#30b8c8"/><stop offset="0.5" stop-color="#2c96d4" stop-opacity="0.9"/>
<stop offset="1" stop-color="#3366bf" stop-opacity="0"/>
</radialGradient>
<radialGradient id="gGreenCore" cx="0.5" cy="0.5" r="0.5">
<stop offset="0" stop-color="#58c060"/><stop offset="0.45" stop-color="#30aab4" stop-opacity="0.95"/>
<stop offset="1" stop-color="#3a6cc4" stop-opacity="0"/>
</radialGradient>
<radialGradient id="gHaze" cx="0.5" cy="0.5" r="0.5">
<stop offset="0" stop-color="#7f93d2" stop-opacity="0.55"/><stop offset="1" stop-color="#9fb0e0" stop-opacity="0"/>
</radialGradient>
<filter id="rough" x="-10%" y="-10%" width="120%" height="120%"><feTurbulence type="fractalNoise" baseFrequency="0.22" numOctaves="2" seed="4" result="n"/><feDisplacementMap in="SourceGraphic" in2="n" scale="4.5" xChannelSelector="R" yChannelSelector="G"/></filter>
<clipPath id="cp1"><rect x="45.6" y="248" width="75.8" height="73.9"/></clipPath>
<clipPath id="cp2"><rect x="45.6" y="357.6" width="75.8" height="74.4"/></clipPath>
<clipPath id="cp3"><rect x="165" y="357.6" width="76.4" height="74.6"/></clipPath>
</defs>
<g clip-path="url(#cp1)">
<circle cx="74.67" cy="306.65" r="0.32" fill="#7587cf"/>
<circle cx="101.02" cy="307.21" r="0.32" fill="#8ea0dc"/>
<circle cx="75.01" cy="303.36" r="0.32" fill="#7587cf"/>
<circle cx="79.21" cy="305.38" r="0.32" fill="#a9b6e6"/>
<circle cx="83.13" cy="302.41" r="0.32" fill="#a9b6e6"/>
<circle cx="93.64" cy="306.09" r="0.32" fill="#8ea0dc"/>
<circle cx="66.28" cy="287.42" r="0.32" fill="#8ea0dc"/>
<circle cx="66.44" cy="293.91" r="0.32" fill="#8ea0dc"/>
<circle cx="102.61" cy="307.42" r="0.32" fill="#a9b6e6"/>
<circle cx="63.83" cy="307.89" r="0.32" fill="#7587cf"/>
<circle cx="85.24" cy="315.56" r="0.32" fill="#7587cf"/>
<circle cx="80.24" cy="305.44" r="0.32" fill="#7587cf"/>
<circle cx="82.21" cy="301.75" r="0.32" fill="#8ea0dc"/>
<circle cx="61.99" cy="300.36" r="0.32" fill="#a9b6e6"/>
<circle cx="49.21" cy="306.32" r="0.32" fill="#a9b6e6"/>
<circle cx="74.94" cy="290.77" r="0.32" fill="#7587cf"/>
<circle cx="73.28" cy="314.45" r="0.32" fill="#a9b6e6"/>
<circle cx="76.62" cy="289.38" r="0.32" fill="#8ea0dc"/>
<circle cx="87.97" cy="309.14" r="0.32" fill="#a9b6e6"/>
<circle cx="86.70" cy="312.30" r="0.32" fill="#8ea0dc"/>
<circle cx="83.08" cy="298.76" r="0.32" fill="#7587cf"/>
<circle cx="54.21" cy="288.25" r="0.32" fill="#a9b6e6"/>
<circle cx="71.52" cy="310.19" r="0.32" fill="#a9b6e6"/>
<circle cx="65.42" cy="293.10" r="0.32" fill="#8ea0dc"/>
<circle cx="91.86" cy="294.98" r="0.32" fill="#7587cf"/>
<circle cx="97.34" cy="308.37" r="0.32" fill="#a9b6e6"/>
<circle cx="53.30" cy="267.26" r="0.32" fill="#a9b6e6"/>
<circle cx="75.23" cy="312.53" r="0.32" fill="#7587cf"/>
<circle cx="67.01" cy="314.08" r="0.32" fill="#a9b6e6"/>
<circle cx="98.72" cy="308.05" r="0.32" fill="#8ea0dc"/>
<circle cx="77.04" cy="286.94" r="0.32" fill="#a9b6e6"/>
<circle cx="90.42" cy="306.89" r="0.32" fill="#7587cf"/>
<circle cx="76.77" cy="306.95" r="0.32" fill="#a9b6e6"/>
<circle cx="84.89" cy="292.08" r="0.32" fill="#a9b6e6"/>
<circle cx="97.63" cy="298.33" r="0.32" fill="#a9b6e6"/>
<circle cx="85.18" cy="298.05" r="0.32" fill="#8ea0dc"/>
<circle cx="89.08" cy="315.51" r="0.32" fill="#8ea0dc"/>
<circle cx="60.74" cy="301.64" r="0.32" fill="#a9b6e6"/>
<circle cx="76.55" cy="307.15" r="0.32" fill="#7587cf"/>
<circle cx="66.55" cy="312.30" r="0.32" fill="#8ea0dc"/>
<circle cx="72.28" cy="285.43" r="0.32" fill="#7587cf"/>
<circle cx="66.01" cy="282.36" r="0.32" fill="#a9b6e6"/>
<circle cx="96.26" cy="286.65" r="0.32" fill="#7587cf"/>
<circle cx="81.84" cy="287.61" r="0.32" fill="#a9b6e6"/>
<circle cx="66.28" cy="309.20" r="0.32" fill="#a9b6e6"/>
<circle cx="82.49" cy="301.85" r="0.32" fill="#8ea0dc"/>
<circle cx="72.16" cy="302.29" r="0.32" fill="#7587cf"/>
<circle cx="78.27" cy="300.09" r="0.32" fill="#8ea0dc"/>
<circle cx="47.13" cy="292.77" r="0.32" fill="#7587cf"/>
<circle cx="104.14" cy="304.22" r="0.32" fill="#7587cf"/>
<circle cx="64.86" cy="312.94" r="0.32" fill="#a9b6e6"/>
<circle cx="66.20" cy="291.17" r="0.32" fill="#8ea0dc"/>
<circle cx="101.88" cy="266.66" r="0.32" fill="#a9b6e6"/>
<circle cx="66.85" cy="301.38" r="0.32" fill="#8ea0dc"/>
<circle cx="87.54" cy="307.13" r="0.32" fill="#a9b6e6"/>
<circle cx="58.23" cy="302.67" r="0.32" fill="#7587cf"/>
<circle cx="109.59" cy="304.62" r="0.32" fill="#7587cf"/>
<circle cx="65.15" cy="315.19" r="0.32" fill="#8ea0dc"/>
<circle cx="78.56" cy="289.08" r="0.32" fill="#7587cf"/>
<circle cx="91.11" cy="284.81" r="0.32" fill="#a9b6e6"/>
<circle cx="49.77" cy="296.72" r="0.32" fill="#a9b6e6"/>
<circle cx="80.20" cy="284.12" r="0.32" fill="#7587cf"/>
<circle cx="73.57" cy="308.10" r="0.32" fill="#8ea0dc"/>
<circle cx="86.29" cy="277.46" r="0.32" fill="#7587cf"/>
<circle cx="80.86" cy="291.80" r="0.32" fill="#a9b6e6"/>
<circle cx="76.06" cy="302.48" r="0.32" fill="#8ea0dc"/>
<circle cx="81.67" cy="285.77" r="0.32" fill="#8ea0dc"/>
<circle cx="66.50" cy="269.55" r="0.32" fill="#a9b6e6"/>
<circle cx="85.49" cy="280.56" r="0.32" fill="#a9b6e6"/>
<circle cx="89.89" cy="296.55" r="0.32" fill="#8ea0dc"/>
<circle cx="89.73" cy="308.77" r="0.32" fill="#a9b6e6"/>
<circle cx="83.14" cy="317.44" r="0.32" fill="#7587cf"/>
<circle cx="85.99" cy="287.48" r="0.32" fill="#7587cf"/>
<circle cx="67.61" cy="315.50" r="0.32" fill="#7587cf"/>
<circle cx="87.40" cy="308.82" r="0.32" fill="#7587cf"/>
<circle cx="78.01" cy="285.18" r="0.32" fill="#8ea0dc"/>
<circle cx="61.09" cy="307.45" r="0.32" fill="#8ea0dc"/>
<circle cx="88.90" cy="267.05" r="0.32" fill="#a9b6e6"/>
<circle cx="57.13" cy="304.92" r="0.32" fill="#8ea0dc"/>
<circle cx="76.75" cy="292.16" r="0.32" fill="#8ea0dc"/>
<circle cx="95.12" cy="302.99" r="0.32" fill="#a9b6e6"/>
<circle cx="80.54" cy="293.15" r="0.32" fill="#7587cf"/>
<circle cx="96.88" cy="297.65" r="0.32" fill="#a9b6e6"/>
<circle cx="87.13" cy="313.61" r="0.32" fill="#8ea0dc"/>
<circle cx="112.44" cy="303.09" r="0.32" fill="#7587cf"/>
<circle cx="95.28" cy="313.02" r="0.32" fill="#8ea0dc"/>
<circle cx="53.90" cy="310.64" r="0.32" fill="#8ea0dc"/>
<circle cx="86.85" cy="301.57" r="0.32" fill="#7587cf"/>
<circle cx="79.03" cy="317.24" r="0.32" fill="#a9b6e6"/>
<circle cx="54.31" cy="293.22" r="0.32" fill="#8ea0dc"/>
<circle cx="88.26" cy="293.49" r="0.32" fill="#a9b6e6"/>
<circle cx="65.52" cy="279.64" r="0.32" fill="#7587cf"/>
<circle cx="52.48" cy="313.90" r="0.32" fill="#7587cf"/>
<circle cx="83.08" cy="305.46" r="0.32" fill="#7587cf"/>
<circle cx="91.91" cy="301.64" r="0.32" fill="#8ea0dc"/>
<circle cx="60.54" cy="285.82" r="0.32" fill="#8ea0dc"/>
<circle cx="84.90" cy="313.01" r="0.32" fill="#7587cf"/>
<circle cx="81.38" cy="303.18" r="0.32" fill="#7587cf"/>
<circle cx="61.56" cy="298.10" r="0.32" fill="#8ea0dc"/>
<circle cx="81.30" cy="297.02" r="0.32" fill="#8ea0dc"/>
<circle cx="61.32" cy="299.19" r="0.32" fill="#8ea0dc"/>
<circle cx="61.22" cy="306.25" r="0.32" fill="#7587cf"/>
<circle cx="71.19" cy="294.64" r="0.32" fill="#a9b6e6"/>
<circle cx="62.67" cy="304.73" r="0.32" fill="#a9b6e6"/>
<circle cx="68.20" cy="299.52" r="0.32" fill="#7587cf"/>
<circle cx="100.16" cy="278.26" r="0.32" fill="#a9b6e6"/>
<circle cx="102.30" cy="287.19" r="0.32" fill="#8ea0dc"/>
<circle cx="81.78" cy="294.04" r="0.32" fill="#8ea0dc"/>
<circle cx="69.16" cy="307.09" r="0.32" fill="#7587cf"/>
<circle cx="78.30" cy="305.06" r="0.32" fill="#7587cf"/>
<circle cx="75.84" cy="306.28" r="0.32" fill="#8ea0dc"/>
<circle cx="95.34" cy="293.07" r="0.32" fill="#a9b6e6"/>
<circle cx="94.77" cy="321.06" r="0.32" fill="#a9b6e6"/>
<circle cx="65.94" cy="308.96" r="0.32" fill="#7587cf"/>
<circle cx="81.82" cy="293.30" r="0.32" fill="#a9b6e6"/>
<circle cx="91.21" cy="299.51" r="0.32" fill="#a9b6e6"/>
<circle cx="81.81" cy="310.73" r="0.32" fill="#7587cf"/>
<circle cx="70.14" cy="308.81" r="0.32" fill="#a9b6e6"/>
<circle cx="75.69" cy="300.91" r="0.32" fill="#a9b6e6"/>
<circle cx="67.19" cy="298.81" r="0.32" fill="#8ea0dc"/>
<circle cx="100.10" cy="318.96" r="0.32" fill="#8ea0dc"/>
<circle cx="84.02" cy="298.92" r="0.32" fill="#a9b6e6"/>
<circle cx="87.10" cy="319.84" r="0.32" fill="#a9b6e6"/>
<circle cx="89.43" cy="284.18" r="0.32" fill="#a9b6e6"/>
<circle cx="64.61" cy="308.98" r="0.32" fill="#7587cf"/>
<circle cx="59.77" cy="291.34" r="0.32" fill="#8ea0dc"/>
<circle cx="77.72" cy="302.38" r="0.32" fill="#8ea0dc"/>
<circle cx="79.73" cy="294.85" r="0.32" fill="#8ea0dc"/>
<circle cx="101.67" cy="310.53" r="0.32" fill="#a9b6e6"/>
<circle cx="119.69" cy="303.03" r="0.32" fill="#a9b6e6"/>
<circle cx="87.20" cy="295.44" r="0.32" fill="#8ea0dc"/>
<circle cx="97.69" cy="305.48" r="0.32" fill="#8ea0dc"/>
<circle cx="87.94" cy="298.05" r="0.32" fill="#8ea0dc"/>
<circle cx="81.36" cy="310.73" r="0.32" fill="#a9b6e6"/>
<circle cx="69.34" cy="298.29" r="0.32" fill="#a9b6e6"/>
<circle cx="69.86" cy="300.00" r="0.32" fill="#a9b6e6"/>
<circle cx="91.88" cy="260.43" r="0.32" fill="#8ea0dc"/>
<circle cx="99.03" cy="302.03" r="0.32" fill="#7587cf"/>
<circle cx="93.47" cy="297.85" r="0.32" fill="#8ea0dc"/>
<circle cx="83.65" cy="297.54" r="0.32" fill="#7587cf"/>
<circle cx="64.16" cy="306.28" r="0.32" fill="#a9b6e6"/>
<circle cx="88.96" cy="297.93" r="0.32" fill="#8ea0dc"/>
<circle cx="89.84" cy="298.69" r="0.32" fill="#7587cf"/>
<circle cx="77.05" cy="292.93" r="0.32" fill="#a9b6e6"/>
<circle cx="102.60" cy="297.19" r="0.32" fill="#8ea0dc"/>
<circle cx="97.29" cy="309.18" r="0.32" fill="#a9b6e6"/>
<circle cx="74.02" cy="301.85" r="0.32" fill="#7587cf"/>
<circle cx="92.26" cy="277.92" r="0.32" fill="#7587cf"/>
<circle cx="95.28" cy="296.81" r="0.32" fill="#7587cf"/>
<circle cx="74.15" cy="313.90" r="0.32" fill="#8ea0dc"/>
<circle cx="77.87" cy="301.10" r="0.32" fill="#a9b6e6"/>
<circle cx="111.87" cy="291.71" r="0.32" fill="#7587cf"/>
<circle cx="76.47" cy="303.08" r="0.32" fill="#a9b6e6"/>
<circle cx="79.66" cy="308.10" r="0.32" fill="#a9b6e6"/>
<circle cx="67.15" cy="309.99" r="0.32" fill="#7587cf"/>
<circle cx="72.53" cy="291.84" r="0.32" fill="#8ea0dc"/>
<circle cx="98.16" cy="312.95" r="0.32" fill="#8ea0dc"/>
<circle cx="74.94" cy="302.24" r="0.32" fill="#8ea0dc"/>
<circle cx="72.38" cy="317.44" r="0.32" fill="#8ea0dc"/>
<circle cx="64.30" cy="291.83" r="0.32" fill="#8ea0dc"/>
<circle cx="66.68" cy="282.76" r="0.32" fill="#7587cf"/>
<circle cx="69.12" cy="307.39" r="0.32" fill="#a9b6e6"/>
<circle cx="90.32" cy="316.84" r="0.32" fill="#7587cf"/>
<circle cx="92.90" cy="319.15" r="0.32" fill="#7587cf"/>
<circle cx="92.21" cy="288.53" r="0.32" fill="#7587cf"/>
<circle cx="73.33" cy="285.30" r="0.32" fill="#7587cf"/>
<circle cx="78.30" cy="283.15" r="0.32" fill="#8ea0dc"/>
<circle cx="85.95" cy="284.73" r="0.32" fill="#7587cf"/>
<circle cx="69.82" cy="281.76" r="0.32" fill="#8ea0dc"/>
<circle cx="81.27" cy="301.94" r="0.32" fill="#7587cf"/>
<circle cx="74.08" cy="304.70" r="0.32" fill="#a9b6e6"/>
<circle cx="60.95" cy="293.43" r="0.32" fill="#7587cf"/>
<circle cx="68.45" cy="298.09" r="0.32" fill="#a9b6e6"/>
<circle cx="101.24" cy="300.48" r="0.32" fill="#7587cf"/>
<circle cx="103.31" cy="288.57" r="0.32" fill="#8ea0dc"/>
<circle cx="75.41" cy="295.95" r="0.32" fill="#7587cf"/>
<circle cx="54.66" cy="303.87" r="0.32" fill="#a9b6e6"/>
<circle cx="80.09" cy="321.75" r="0.32" fill="#8ea0dc"/>
<circle cx="75.74" cy="264.62" r="0.32" fill="#a9b6e6"/>
<circle cx="80.93" cy="295.71" r="0.32" fill="#7587cf"/>
<circle cx="77.07" cy="303.91" r="0.32" fill="#7587cf"/>
<circle cx="74.74" cy="295.92" r="0.32" fill="#8ea0dc"/>
<circle cx="68.72" cy="316.44" r="0.32" fill="#7587cf"/>
<circle cx="72.35" cy="315.86" r="0.32" fill="#8ea0dc"/>
<circle cx="63.10" cy="301.65" r="0.32" fill="#7587cf"/>
<circle cx="85.39" cy="305.33" r="0.32" fill="#a9b6e6"/>
<circle cx="74.02" cy="315.16" r="0.32" fill="#a9b6e6"/>
<circle cx="56.31" cy="304.72" r="0.32" fill="#7587cf"/>
<circle cx="80.25" cy="299.05" r="0.32" fill="#a9b6e6"/>
<circle cx="91.70" cy="307.14" r="0.32" fill="#a9b6e6"/>
<circle cx="90.85" cy="299.51" r="0.32" fill="#8ea0dc"/>
<circle cx="83.05" cy="302.56" r="0.32" fill="#7587cf"/>
<circle cx="46.25" cy="295.16" r="0.32" fill="#8ea0dc"/>
<circle cx="63.37" cy="288.89" r="0.32" fill="#a9b6e6"/>
<circle cx="93.36" cy="286.78" r="0.32" fill="#8ea0dc"/>
<circle cx="51.43" cy="300.35" r="0.32" fill="#a9b6e6"/>
<circle cx="79.09" cy="300.17" r="0.32" fill="#a9b6e6"/>
<circle cx="72.48" cy="287.95" r="0.32" fill="#7587cf"/>
<circle cx="85.57" cy="309.23" r="0.32" fill="#a9b6e6"/>
<circle cx="86.46" cy="308.03" r="0.32" fill="#a9b6e6"/>
<circle cx="78.11" cy="275.15" r="0.32" fill="#8ea0dc"/>
<circle cx="85.98" cy="296.84" r="0.32" fill="#8ea0dc"/>
<circle cx="86.76" cy="293.76" r="0.32" fill="#a9b6e6"/>
<circle cx="89.87" cy="305.13" r="0.32" fill="#7587cf"/>
<circle cx="104.27" cy="313.68" r="0.32" fill="#a9b6e6"/>
<circle cx="84.43" cy="291.63" r="0.32" fill="#8ea0dc"/>
<circle cx="83.41" cy="290.81" r="0.32" fill="#8ea0dc"/>
<circle cx="78.04" cy="310.22" r="0.32" fill="#7587cf"/>
<circle cx="69.03" cy="320.52" r="0.32" fill="#a9b6e6"/>
<circle cx="95.75" cy="284.20" r="0.32" fill="#7587cf"/>
<circle cx="56.52" cy="315.60" r="0.32" fill="#7587cf"/>
<circle cx="58.25" cy="293.69" r="0.32" fill="#8ea0dc"/>
<circle cx="90.22" cy="294.57" r="0.32" fill="#7587cf"/>
<circle cx="78.31" cy="281.31" r="0.32" fill="#a9b6e6"/>
<circle cx="49.46" cy="302.59" r="0.32" fill="#7587cf"/>
<circle cx="88.24" cy="310.54" r="0.32" fill="#a9b6e6"/>
<circle cx="76.02" cy="309.79" r="0.32" fill="#7587cf"/>
<circle cx="87.98" cy="298.50" r="0.32" fill="#7587cf"/>
<circle cx="79.06" cy="314.90" r="0.32" fill="#7587cf"/>
<circle cx="71.80" cy="304.85" r="0.32" fill="#8ea0dc"/>
<circle cx="91.64" cy="306.97" r="0.32" fill="#a9b6e6"/>
<circle cx="64.43" cy="295.55" r="0.32" fill="#a9b6e6"/>
<circle cx="92.21" cy="299.69" r="0.32" fill="#8ea0dc"/>
<circle cx="68.71" cy="297.12" r="0.32" fill="#8ea0dc"/>
<circle cx="74.90" cy="304.76" r="0.32" fill="#8ea0dc"/>
<circle cx="61.98" cy="317.42" r="0.32" fill="#8ea0dc"/>
<circle cx="94.43" cy="285.92" r="0.32" fill="#a9b6e6"/>
<circle cx="62.05" cy="314.45" r="0.32" fill="#8ea0dc"/>
<circle cx="69.55" cy="308.25" r="0.32" fill="#8ea0dc"/>
<circle cx="61.01" cy="300.20" r="0.32" fill="#a9b6e6"/>
<circle cx="88.82" cy="310.94" r="0.32" fill="#7587cf"/>
<circle cx="84.33" cy="275.54" r="0.32" fill="#8ea0dc"/>
<circle cx="76.71" cy="309.74" r="0.32" fill="#a9b6e6"/>
<circle cx="69.58" cy="289.04" r="0.32" fill="#a9b6e6"/>
<circle cx="93.34" cy="278.51" r="0.32" fill="#8ea0dc"/>
<circle cx="87.54" cy="309.81" r="0.32" fill="#a9b6e6"/>
<circle cx="92.78" cy="297.01" r="0.32" fill="#8ea0dc"/>
<circle cx="54.91" cy="318.73" r="0.32" fill="#7587cf"/>
<circle cx="99.41" cy="272.56" r="0.32" fill="#8ea0dc"/>
<circle cx="79.91" cy="290.95" r="0.32" fill="#8ea0dc"/>
<circle cx="58.51" cy="297.24" r="0.32" fill="#7587cf"/>
<circle cx="70.37" cy="276.01" r="0.32" fill="#a9b6e6"/>
<circle cx="97.38" cy="311.46" r="0.32" fill="#8ea0dc"/>
<circle cx="79.91" cy="290.74" r="0.32" fill="#8ea0dc"/>
<circle cx="71.25" cy="291.24" r="0.32" fill="#8ea0dc"/>
<circle cx="66.84" cy="288.63" r="0.32" fill="#a9b6e6"/>
<circle cx="75.99" cy="293.99" r="0.32" fill="#8ea0dc"/>
<circle cx="81.62" cy="309.44" r="0.32" fill="#7587cf"/>
<circle cx="94.14" cy="300.12" r="0.32" fill="#a9b6e6"/>
<circle cx="75.97" cy="311.16" r="0.32" fill="#8ea0dc"/>
<circle cx="68.60" cy="301.47" r="0.32" fill="#8ea0dc"/>
<circle cx="91.17" cy="302.45" r="0.32" fill="#7587cf"/>
<circle cx="77.04" cy="302.55" r="0.32" fill="#a9b6e6"/>
<circle cx="92.06" cy="287.58" r="0.32" fill="#8ea0dc"/>
<circle cx="77.12" cy="319.27" r="0.32" fill="#a9b6e6"/>
<circle cx="78.50" cy="303.39" r="0.32" fill="#a9b6e6"/>
<circle cx="75.56" cy="287.91" r="0.32" fill="#a9b6e6"/>
<circle cx="85.44" cy="321.99" r="0.32" fill="#7587cf"/>
<circle cx="80.73" cy="295.98" r="0.32" fill="#a9b6e6"/>
<circle cx="89.04" cy="297.88" r="0.32" fill="#8ea0dc"/>
<circle cx="79.11" cy="309.13" r="0.32" fill="#a9b6e6"/>
<circle cx="92.07" cy="311.50" r="0.32" fill="#7587cf"/>
<circle cx="81.55" cy="308.53" r="0.32" fill="#a9b6e6"/>
<circle cx="81.75" cy="297.64" r="0.32" fill="#7587cf"/>
<circle cx="85.88" cy="310.34" r="0.32" fill="#8ea0dc"/>
<circle cx="95.31" cy="302.59" r="0.32" fill="#a9b6e6"/>
<circle cx="82.34" cy="301.47" r="0.32" fill="#a9b6e6"/>
<circle cx="58.51" cy="306.38" r="0.32" fill="#a9b6e6"/>
<circle cx="73.12" cy="255.22" r="0.32" fill="#8ea0dc"/>
<circle cx="74.02" cy="307.32" r="0.32" fill="#7587cf"/>
<circle cx="77.92" cy="296.69" r="0.32" fill="#7587cf"/>
<circle cx="74.17" cy="275.45" r="0.32" fill="#a9b6e6"/>
<circle cx="72.16" cy="302.21" r="0.32" fill="#8ea0dc"/>
<circle cx="75.75" cy="311.89" r="0.32" fill="#8ea0dc"/>
<circle cx="57.67" cy="291.78" r="0.32" fill="#a9b6e6"/>
<circle cx="63.01" cy="318.92" r="0.32" fill="#a9b6e6"/>
<circle cx="95.31" cy="310.65" r="0.32" fill="#8ea0dc"/>
<circle cx="57.66" cy="320.93" r="0.32" fill="#8ea0dc"/>
<circle cx="68.55" cy="319.04" r="0.32" fill="#a9b6e6"/>
<circle cx="91.13" cy="302.53" r="0.32" fill="#7587cf"/>
<circle cx="78.39" cy="296.28" r="0.32" fill="#8ea0dc"/>
<circle cx="55.15" cy="305.25" r="0.32" fill="#8ea0dc"/>
<circle cx="77.05" cy="321.54" r="0.32" fill="#7587cf"/>
<circle cx="72.50" cy="308.78" r="0.32" fill="#7587cf"/>
<circle cx="98.73" cy="305.82" r="0.32" fill="#7587cf"/>
<circle cx="73.76" cy="309.54" r="0.32" fill="#8ea0dc"/>
<circle cx="74.89" cy="282.79" r="0.32" fill="#7587cf"/>
<circle cx="82.51" cy="298.42" r="0.32" fill="#8ea0dc"/>
<circle cx="94.11" cy="312.86" r="0.32" fill="#a9b6e6"/>
<circle cx="90.32" cy="296.33" r="0.32" fill="#a9b6e6"/>
<circle cx="98.44" cy="287.66" r="0.32" fill="#8ea0dc"/>
<circle cx="85.43" cy="296.39" r="0.32" fill="#7587cf"/>
<circle cx="71.44" cy="318.84" r="0.32" fill="#8ea0dc"/>
<circle cx="68.95" cy="292.77" r="0.32" fill="#a9b6e6"/>
<circle cx="55.93" cy="305.55" r="0.32" fill="#7587cf"/>
<circle cx="85.58" cy="304.11" r="0.32" fill="#8ea0dc"/>
<circle cx="78.08" cy="304.76" r="0.32" fill="#8ea0dc"/>
<circle cx="61.80" cy="301.87" r="0.32" fill="#8ea0dc"/>
<circle cx="104.75" cy="296.66" r="0.32" fill="#8ea0dc"/>
<circle cx="77.49" cy="305.42" r="0.32" fill="#8ea0dc"/>
<circle cx="85.89" cy="298.60" r="0.32" fill="#8ea0dc"/>
<circle cx="62.32" cy="309.03" r="0.32" fill="#7587cf"/>
<circle cx="79.53" cy="316.10" r="0.32" fill="#7587cf"/>
<circle cx="79.36" cy="277.43" r="0.32" fill="#a9b6e6"/>
<circle cx="73.43" cy="316.18" r="0.32" fill="#a9b6e6"/>
<circle cx="77.74" cy="310.09" r="0.32" fill="#a9b6e6"/>
<circle cx="78.16" cy="309.75" r="0.32" fill="#8ea0dc"/>
<circle cx="79.80" cy="304.41" r="0.32" fill="#a9b6e6"/>
<circle cx="93.45" cy="299.27" r="0.32" fill="#8ea0dc"/>
<circle cx="74.47" cy="295.17" r="0.32" fill="#a9b6e6"/>
<circle cx="84.03" cy="299.66" r="0.32" fill="#a9b6e6"/>
<circle cx="84.98" cy="293.67" r="0.32" fill="#a9b6e6"/>
<circle cx="81.20" cy="298.09" r="0.32" fill="#a9b6e6"/>
<circle cx="78.45" cy="304.16" r="0.32" fill="#7587cf"/>
<circle cx="94.95" cy="297.09" r="0.32" fill="#8ea0dc"/>
<circle cx="59.89" cy="318.75" r="0.32" fill="#a9b6e6"/>
<circle cx="60.09" cy="286.46" r="0.32" fill="#7587cf"/>
<circle cx="83.79" cy="297.94" r="0.32" fill="#7587cf"/>
<circle cx="74.98" cy="288.32" r="0.32" fill="#8ea0dc"/>
<circle cx="73.13" cy="305.27" r="0.32" fill="#8ea0dc"/>
<circle cx="81.63" cy="300.00" r="0.32" fill="#7587cf"/>
<circle cx="72.92" cy="292.85" r="0.32" fill="#8ea0dc"/>
<circle cx="83.59" cy="287.89" r="0.32" fill="#a9b6e6"/>
<circle cx="82.46" cy="310.33" r="0.32" fill="#8ea0dc"/>
<circle cx="92.91" cy="302.99" r="0.32" fill="#a9b6e6"/>
<circle cx="83.54" cy="302.33" r="0.32" fill="#a9b6e6"/>
<circle cx="74.13" cy="293.54" r="0.32" fill="#7587cf"/>
<circle cx="84.53" cy="304.21" r="0.32" fill="#7587cf"/>
<circle cx="71.32" cy="288.24" r="0.32" fill="#8ea0dc"/>
<circle cx="71.58" cy="315.53" r="0.32" fill="#a9b6e6"/>
<circle cx="75.86" cy="301.28" r="0.32" fill="#a9b6e6"/>
<circle cx="70.03" cy="289.80" r="0.32" fill="#a9b6e6"/>
<circle cx="78.41" cy="301.35" r="0.32" fill="#8ea0dc"/>
<circle cx="56.62" cy="311.10" r="0.32" fill="#a9b6e6"/>
<circle cx="67.07" cy="294.19" r="0.32" fill="#8ea0dc"/>
<circle cx="80.90" cy="303.09" r="0.32" fill="#8ea0dc"/>
<circle cx="59.92" cy="277.95" r="0.32" fill="#8ea0dc"/>
<circle cx="51.30" cy="286.85" r="0.32" fill="#7587cf"/>
<circle cx="70.70" cy="299.80" r="0.32" fill="#a9b6e6"/>
<circle cx="82.20" cy="306.79" r="0.32" fill="#8ea0dc"/>
<circle cx="89.71" cy="309.53" r="0.32" fill="#8ea0dc"/>
<circle cx="105.65" cy="307.75" r="0.32" fill="#a9b6e6"/>
<circle cx="106.03" cy="309.77" r="0.32" fill="#a9b6e6"/>
<circle cx="95.58" cy="310.59" r="0.32" fill="#7587cf"/>
<circle cx="81.47" cy="293.14" r="0.32" fill="#8ea0dc"/>
<circle cx="64.99" cy="287.62" r="0.32" fill="#8ea0dc"/>
<circle cx="81.94" cy="292.74" r="0.32" fill="#8ea0dc"/>
<circle cx="107.66" cy="307.96" r="0.32" fill="#8ea0dc"/>
<circle cx="73.04" cy="304.45" r="0.32" fill="#8ea0dc"/>
<circle cx="101.50" cy="295.62" r="0.32" fill="#8ea0dc"/>
<circle cx="94.16" cy="304.27" r="0.32" fill="#7587cf"/>
<circle cx="102.10" cy="305.89" r="0.32" fill="#8ea0dc"/>
<circle cx="66.96" cy="309.15" r="0.32" fill="#7587cf"/>
<circle cx="81.30" cy="281.48" r="0.32" fill="#a9b6e6"/>
<circle cx="66.11" cy="293.21" r="0.32" fill="#7587cf"/>
<circle cx="67.65" cy="311.38" r="0.32" fill="#8ea0dc"/>
<circle cx="95.86" cy="302.64" r="0.32" fill="#a9b6e6"/>
<circle cx="64.19" cy="303.06" r="0.32" fill="#7587cf"/>
<circle cx="80.70" cy="285.86" r="0.32" fill="#8ea0dc"/>
<circle cx="82.88" cy="287.79" r="0.32" fill="#8ea0dc"/>
<circle cx="87.54" cy="309.97" r="0.32" fill="#8ea0dc"/>
<circle cx="82.97" cy="285.42" r="0.32" fill="#7587cf"/>
<circle cx="95.89" cy="304.69" r="0.32" fill="#8ea0dc"/>
<circle cx="87.96" cy="294.70" r="0.32" fill="#7587cf"/>
<circle cx="73.67" cy="299.69" r="0.32" fill="#7587cf"/>
<circle cx="92.93" cy="288.40" r="0.32" fill="#8ea0dc"/>
<circle cx="82.75" cy="300.78" r="0.32" fill="#7587cf"/>
<circle cx="75.32" cy="276.27" r="0.32" fill="#8ea0dc"/>
<circle cx="96.33" cy="319.92" r="0.32" fill="#a9b6e6"/>
<circle cx="105.87" cy="292.21" r="0.32" fill="#8ea0dc"/>
<circle cx="69.89" cy="280.88" r="0.32" fill="#8ea0dc"/>
<circle cx="89.08" cy="304.84" r="0.32" fill="#a9b6e6"/>
<circle cx="87.52" cy="312.05" r="0.32" fill="#a9b6e6"/>
<circle cx="80.63" cy="309.81" r="0.32" fill="#7587cf"/>
<circle cx="78.99" cy="312.51" r="0.32" fill="#8ea0dc"/>
<circle cx="81.19" cy="307.02" r="0.32" fill="#a9b6e6"/>
<circle cx="66.19" cy="275.03" r="0.32" fill="#8ea0dc"/>
<circle cx="80.66" cy="290.17" r="0.32" fill="#7587cf"/>
<circle cx="102.51" cy="307.72" r="0.32" fill="#a9b6e6"/>
<circle cx="61.89" cy="294.18" r="0.32" fill="#8ea0dc"/>
<circle cx="77.79" cy="316.10" r="0.32" fill="#a9b6e6"/>
<circle cx="77.05" cy="287.51" r="0.32" fill="#a9b6e6"/>
<circle cx="95.03" cy="298.98" r="0.32" fill="#a9b6e6"/>
<circle cx="75.40" cy="304.68" r="0.32" fill="#8ea0dc"/>
<circle cx="87.53" cy="319.22" r="0.32" fill="#8ea0dc"/>
<circle cx="73.50" cy="315.00" r="0.32" fill="#a9b6e6"/>
<circle cx="54.02" cy="271.30" r="0.32" fill="#7587cf"/>
<circle cx="102.90" cy="287.99" r="0.32" fill="#7587cf"/>
<circle cx="81.41" cy="300.04" r="0.32" fill="#8ea0dc"/>
<circle cx="73.36" cy="317.62" r="0.32" fill="#a9b6e6"/>
<circle cx="50.46" cy="297.80" r="0.32" fill="#8ea0dc"/>
<circle cx="60.15" cy="301.30" r="0.32" fill="#8ea0dc"/>
<circle cx="78.93" cy="300.13" r="0.32" fill="#a9b6e6"/>
<circle cx="72.76" cy="314.93" r="0.32" fill="#7587cf"/>
<circle cx="80.77" cy="316.98" r="0.32" fill="#7587cf"/>
<circle cx="86.29" cy="309.25" r="0.32" fill="#a9b6e6"/>
<circle cx="79.19" cy="301.84" r="0.32" fill="#8ea0dc"/>
<circle cx="74.24" cy="286.27" r="0.32" fill="#8ea0dc"/>
<circle cx="60.99" cy="279.91" r="0.32" fill="#a9b6e6"/>
<circle cx="69.69" cy="305.88" r="0.32" fill="#8ea0dc"/>
<circle cx="100.63" cy="308.33" r="0.32" fill="#a9b6e6"/>
<circle cx="63.85" cy="290.42" r="0.32" fill="#7587cf"/>
<circle cx="97.52" cy="291.87" r="0.32" fill="#8ea0dc"/>
<circle cx="78.19" cy="300.32" r="0.32" fill="#8ea0dc"/>
<circle cx="64.99" cy="297.39" r="0.32" fill="#8ea0dc"/>
<circle cx="92.15" cy="310.97" r="0.32" fill="#7587cf"/>
<circle cx="84.71" cy="297.39" r="0.32" fill="#8ea0dc"/>
<circle cx="59.47" cy="297.87" r="0.32" fill="#7587cf"/>
<circle cx="63.00" cy="281.50" r="0.32" fill="#8ea0dc"/>
<circle cx="73.29" cy="299.75" r="0.32" fill="#7587cf"/>
<circle cx="104.02" cy="308.18" r="0.32" fill="#a9b6e6"/>
<circle cx="77.68" cy="298.57" r="0.32" fill="#a9b6e6"/>
<circle cx="77.56" cy="285.46" r="0.32" fill="#7587cf"/>
<circle cx="73.48" cy="293.31" r="0.32" fill="#8ea0dc"/>
<circle cx="76.66" cy="318.64" r="0.32" fill="#8ea0dc"/>
<circle cx="66.93" cy="318.59" r="0.32" fill="#7587cf"/>
<circle cx="87.51" cy="296.43" r="0.32" fill="#8ea0dc"/>
<circle cx="76.34" cy="316.43" r="0.32" fill="#a9b6e6"/>
<circle cx="66.60" cy="273.31" r="0.32" fill="#a9b6e6"/>
<circle cx="82.32" cy="296.61" r="0.32" fill="#7587cf"/>
<circle cx="88.05" cy="300.96" r="0.32" fill="#8ea0dc"/>
<circle cx="82.77" cy="292.66" r="0.32" fill="#8ea0dc"/>
<circle cx="77.72" cy="288.44" r="0.32" fill="#a9b6e6"/>
<circle cx="73.45" cy="308.46" r="0.32" fill="#7587cf"/>
<circle cx="110.40" cy="282.63" r="0.32" fill="#7587cf"/>
<circle cx="53.58" cy="304.74" r="0.32" fill="#7587cf"/>
<circle cx="81.01" cy="300.12" r="0.32" fill="#7587cf"/>
<circle cx="81.16" cy="287.43" r="0.32" fill="#7587cf"/>
<circle cx="103.23" cy="313.42" r="0.32" fill="#8ea0dc"/>
<circle cx="84.20" cy="301.30" r="0.32" fill="#7587cf"/>
<circle cx="88.78" cy="294.84" r="0.32" fill="#8ea0dc"/>
<circle cx="77.01" cy="296.90" r="0.32" fill="#8ea0dc"/>
<circle cx="71.50" cy="282.76" r="0.32" fill="#7587cf"/>
<circle cx="81.66" cy="301.66" r="0.32" fill="#7587cf"/>
<circle cx="78.64" cy="291.36" r="0.32" fill="#7587cf"/>
<circle cx="81.72" cy="296.97" r="0.32" fill="#7587cf"/>
<circle cx="83.81" cy="297.88" r="0.32" fill="#8ea0dc"/>
<circle cx="78.99" cy="303.27" r="0.32" fill="#7587cf"/>
<circle cx="96.50" cy="311.33" r="0.32" fill="#7587cf"/>
<circle cx="76.61" cy="305.80" r="0.32" fill="#8ea0dc"/>
<circle cx="82.89" cy="281.90" r="0.32" fill="#a9b6e6"/>
<circle cx="72.26" cy="312.38" r="0.32" fill="#8ea0dc"/>
<circle cx="98.95" cy="306.58" r="0.32" fill="#a9b6e6"/>
<circle cx="80.13" cy="282.48" r="0.32" fill="#a9b6e6"/>
<circle cx="88.73" cy="285.50" r="0.32" fill="#8ea0dc"/>
<circle cx="78.80" cy="296.82" r="0.32" fill="#7587cf"/>
<circle cx="79.73" cy="288.13" r="0.32" fill="#7587cf"/>
<circle cx="94.04" cy="305.00" r="0.32" fill="#7587cf"/>
<circle cx="81.68" cy="295.68" r="0.32" fill="#a9b6e6"/>
<circle cx="78.32" cy="300.58" r="0.32" fill="#8ea0dc"/>
<circle cx="72.83" cy="321.04" r="0.32" fill="#8ea0dc"/>
<circle cx="93.10" cy="300.41" r="0.32" fill="#a9b6e6"/>
<circle cx="69.80" cy="277.14" r="0.32" fill="#a9b6e6"/>
<circle cx="50.73" cy="282.07" r="0.32" fill="#7587cf"/>
<circle cx="76.10" cy="308.84" r="0.32" fill="#7587cf"/>
<circle cx="78.91" cy="307.77" r="0.32" fill="#7587cf"/>
<circle cx="79.59" cy="284.99" r="0.32" fill="#7587cf"/>
<circle cx="72.34" cy="297.71" r="0.32" fill="#a9b6e6"/>
<circle cx="69.89" cy="310.37" r="0.32" fill="#a9b6e6"/>
<circle cx="94.72" cy="286.49" r="0.32" fill="#a9b6e6"/>
<circle cx="80.24" cy="298.11" r="0.32" fill="#8ea0dc"/>
<circle cx="73.50" cy="312.98" r="0.32" fill="#7587cf"/>
<circle cx="65.30" cy="299.91" r="0.32" fill="#7587cf"/>
<circle cx="79.49" cy="314.37" r="0.32" fill="#7587cf"/>
<circle cx="61.50" cy="288.92" r="0.32" fill="#7587cf"/>
<circle cx="70.70" cy="290.43" r="0.32" fill="#a9b6e6"/>
<circle cx="52.08" cy="296.44" r="0.32" fill="#a9b6e6"/>
<circle cx="66.77" cy="281.78" r="0.32" fill="#8ea0dc"/>
<circle cx="58.66" cy="304.56" r="0.32" fill="#a9b6e6"/>
<circle cx="72.07" cy="296.78" r="0.32" fill="#a9b6e6"/>
<circle cx="65.47" cy="284.32" r="0.32" fill="#7587cf"/>
<circle cx="81.95" cy="310.28" r="0.32" fill="#7587cf"/>
<circle cx="86.33" cy="284.02" r="0.32" fill="#7587cf"/>
<circle cx="83.46" cy="308.14" r="0.32" fill="#a9b6e6"/>
<circle cx="68.39" cy="292.75" r="0.32" fill="#8ea0dc"/>
<circle cx="74.03" cy="307.43" r="0.32" fill="#7587cf"/>
<circle cx="85.79" cy="299.75" r="0.32" fill="#7587cf"/>
<circle cx="88.28" cy="307.63" r="0.32" fill="#8ea0dc"/>
<circle cx="83.88" cy="279.70" r="0.32" fill="#a9b6e6"/>
<circle cx="77.07" cy="306.18" r="0.32" fill="#8ea0dc"/>
<circle cx="75.98" cy="300.47" r="0.32" fill="#a9b6e6"/>
<circle cx="72.67" cy="285.64" r="0.32" fill="#7587cf"/>
<circle cx="77.21" cy="302.63" r="0.32" fill="#a9b6e6"/>
<circle cx="67.47" cy="291.97" r="0.32" fill="#7587cf"/>
<circle cx="72.77" cy="283.51" r="0.32" fill="#7587cf"/>
<circle cx="69.76" cy="304.45" r="0.32" fill="#7587cf"/>
<circle cx="62.68" cy="278.20" r="0.32" fill="#7587cf"/>
<circle cx="70.15" cy="275.81" r="0.32" fill="#7587cf"/>
<circle cx="80.79" cy="306.09" r="0.32" fill="#a9b6e6"/>
<circle cx="70.95" cy="316.87" r="0.32" fill="#8ea0dc"/>
<circle cx="85.64" cy="294.05" r="0.32" fill="#a9b6e6"/>
<circle cx="73.80" cy="282.17" r="0.32" fill="#a9b6e6"/>
<circle cx="86.73" cy="287.89" r="0.32" fill="#8ea0dc"/>
<circle cx="68.37" cy="290.77" r="0.32" fill="#7587cf"/>
<circle cx="64.00" cy="277.60" r="0.32" fill="#7587cf"/>
<circle cx="77.10" cy="301.68" r="0.32" fill="#a9b6e6"/>
<circle cx="83.17" cy="296.64" r="0.32" fill="#a9b6e6"/>
<circle cx="68.01" cy="293.57" r="0.32" fill="#8093d6"/>
<circle cx="75.30" cy="274.04" r="0.32" fill="#8093d6"/>
<circle cx="68.79" cy="294.50" r="0.32" fill="#8093d6"/>
<circle cx="64.21" cy="289.93" r="0.32" fill="#8093d6"/>
<circle cx="70.29" cy="284.44" r="0.32" fill="#8093d6"/>
<circle cx="63.57" cy="282.02" r="0.32" fill="#8093d6"/>
<circle cx="64.87" cy="293.74" r="0.32" fill="#8093d6"/>
<circle cx="76.55" cy="293.02" r="0.32" fill="#8093d6"/>
<circle cx="69.20" cy="286.77" r="0.32" fill="#8093d6"/>
<circle cx="72.29" cy="290.42" r="0.32" fill="#8093d6"/>
<circle cx="78.53" cy="294.18" r="0.32" fill="#8093d6"/>
<circle cx="77.26" cy="297.51" r="0.32" fill="#8093d6"/>
<circle cx="71.07" cy="295.87" r="0.32" fill="#8093d6"/>
<circle cx="65.62" cy="299.60" r="0.32" fill="#8093d6"/>
<circle cx="69.92" cy="287.05" r="0.32" fill="#8093d6"/>
<circle cx="71.53" cy="301.39" r="0.32" fill="#8093d6"/>
<circle cx="71.11" cy="273.69" r="0.32" fill="#8093d6"/>
<circle cx="67.15" cy="293.93" r="0.32" fill="#8093d6"/>
<circle cx="74.22" cy="286.49" r="0.32" fill="#8093d6"/>
<circle cx="72.87" cy="299.60" r="0.32" fill="#8093d6"/>
<circle cx="74.12" cy="278.84" r="0.32" fill="#8093d6"/>
<circle cx="66.76" cy="287.43" r="0.32" fill="#8093d6"/>
<circle cx="67.37" cy="292.55" r="0.32" fill="#8093d6"/>
<circle cx="78.37" cy="293.11" r="0.32" fill="#8093d6"/>
<circle cx="63.68" cy="282.26" r="0.32" fill="#8093d6"/>
<circle cx="75.18" cy="285.75" r="0.32" fill="#8093d6"/>
<circle cx="69.57" cy="305.91" r="0.32" fill="#8093d6"/>
<circle cx="81.37" cy="307.07" r="0.32" fill="#8093d6"/>
<circle cx="63.65" cy="308.89" r="0.32" fill="#8093d6"/>
<circle cx="71.26" cy="303.69" r="0.32" fill="#8093d6"/>
<circle cx="71.84" cy="304.48" r="0.32" fill="#8093d6"/>
<circle cx="72.20" cy="295.61" r="0.32" fill="#8093d6"/>
<circle cx="71.00" cy="287.80" r="0.32" fill="#8093d6"/>
<circle cx="72.19" cy="302.63" r="0.32" fill="#8093d6"/>
<circle cx="64.66" cy="296.22" r="0.32" fill="#8093d6"/>
<circle cx="65.32" cy="284.97" r="0.32" fill="#8093d6"/>
<circle cx="61.56" cy="310.73" r="0.32" fill="#8093d6"/>
<circle cx="73.46" cy="292.56" r="0.32" fill="#8093d6"/>
<circle cx="79.15" cy="277.73" r="0.32" fill="#8093d6"/>
<circle cx="72.82" cy="290.16" r="0.32" fill="#8093d6"/>
<circle cx="76.85" cy="283.88" r="0.32" fill="#8093d6"/>
<circle cx="73.06" cy="295.13" r="0.32" fill="#8093d6"/>
<circle cx="81.76" cy="291.08" r="0.32" fill="#8093d6"/>
<circle cx="72.00" cy="299.16" r="0.32" fill="#8093d6"/>
<circle cx="75.19" cy="300.13" r="0.32" fill="#8093d6"/>
<circle cx="73.06" cy="286.81" r="0.32" fill="#8093d6"/>
<circle cx="80.70" cy="310.96" r="0.32" fill="#8093d6"/>
<circle cx="73.10" cy="289.73" r="0.32" fill="#8093d6"/>
<circle cx="79.43" cy="287.21" r="0.32" fill="#8093d6"/>
<circle cx="74.03" cy="281.88" r="0.32" fill="#8093d6"/>
<circle cx="81.69" cy="285.20" r="0.32" fill="#8093d6"/>
<circle cx="74.46" cy="289.94" r="0.32" fill="#8093d6"/>
<circle cx="68.97" cy="284.64" r="0.32" fill="#8093d6"/>
<circle cx="71.62" cy="285.34" r="0.32" fill="#8093d6"/>
<circle cx="78.60" cy="287.30" r="0.32" fill="#8093d6"/>
<circle cx="71.53" cy="301.55" r="0.32" fill="#8093d6"/>
<circle cx="77.23" cy="303.06" r="0.32" fill="#8093d6"/>
<circle cx="79.33" cy="298.63" r="0.32" fill="#8093d6"/>
<circle cx="77.01" cy="303.25" r="0.32" fill="#8093d6"/>
<circle cx="63.28" cy="295.13" r="0.32" fill="#8093d6"/>
<circle cx="72.52" cy="294.21" r="0.32" fill="#8093d6"/>
<circle cx="76.25" cy="286.49" r="0.32" fill="#8093d6"/>
<circle cx="62.43" cy="289.90" r="0.32" fill="#8093d6"/>
<circle cx="75.66" cy="287.65" r="0.32" fill="#8093d6"/>
<circle cx="56.46" cy="306.18" r="0.32" fill="#8093d6"/>
<circle cx="80.87" cy="300.85" r="0.32" fill="#8093d6"/>
<circle cx="70.90" cy="293.37" r="0.32" fill="#8093d6"/>
<circle cx="63.82" cy="286.33" r="0.32" fill="#8093d6"/>
<circle cx="77.70" cy="291.64" r="0.32" fill="#8093d6"/>
<circle cx="80.31" cy="293.77" r="0.32" fill="#8093d6"/>
<circle cx="57.13" cy="296.85" r="0.32" fill="#8093d6"/>
<circle cx="82.89" cy="298.03" r="0.32" fill="#8093d6"/>
<circle cx="67.51" cy="289.20" r="0.32" fill="#8093d6"/>
<circle cx="76.32" cy="288.44" r="0.32" fill="#8093d6"/>
<circle cx="63.56" cy="296.75" r="0.32" fill="#8093d6"/>
<circle cx="72.62" cy="288.86" r="0.32" fill="#8093d6"/>
<circle cx="65.27" cy="298.73" r="0.32" fill="#8093d6"/>
<circle cx="59.64" cy="289.39" r="0.32" fill="#8093d6"/>
<circle cx="68.51" cy="311.27" r="0.32" fill="#8093d6"/>
<circle cx="65.18" cy="301.06" r="0.32" fill="#8093d6"/>
<circle cx="70.87" cy="305.60" r="0.32" fill="#8093d6"/>
<circle cx="82.08" cy="292.95" r="0.32" fill="#8093d6"/>
<circle cx="73.63" cy="287.21" r="0.32" fill="#8093d6"/>
<circle cx="69.58" cy="301.93" r="0.32" fill="#8093d6"/>
<circle cx="63.49" cy="288.40" r="0.32" fill="#8093d6"/>
<circle cx="72.43" cy="292.49" r="0.32" fill="#8093d6"/>
<circle cx="69.51" cy="276.53" r="0.32" fill="#8093d6"/>
<circle cx="69.86" cy="294.19" r="0.32" fill="#8093d6"/>
<circle cx="71.76" cy="295.95" r="0.32" fill="#8093d6"/>
<circle cx="77.82" cy="313.87" r="0.32" fill="#8093d6"/>
<circle cx="64.05" cy="286.68" r="0.32" fill="#8093d6"/>
<circle cx="75.73" cy="275.85" r="0.32" fill="#8093d6"/>
<circle cx="64.60" cy="286.95" r="0.32" fill="#8093d6"/>
<circle cx="64.44" cy="285.06" r="0.32" fill="#8093d6"/>
<circle cx="63.30" cy="287.26" r="0.32" fill="#8093d6"/>
<circle cx="74.42" cy="307.98" r="0.32" fill="#8093d6"/>
<circle cx="60.54" cy="298.99" r="0.32" fill="#8093d6"/>
<circle cx="75.56" cy="298.39" r="0.32" fill="#8093d6"/>
<circle cx="83.76" cy="298.58" r="0.32" fill="#8093d6"/>
<circle cx="80.77" cy="288.24" r="0.32" fill="#8093d6"/>
<circle cx="63.16" cy="307.28" r="0.32" fill="#8093d6"/>
<circle cx="74.05" cy="283.74" r="0.32" fill="#8093d6"/>
<circle cx="71.70" cy="302.62" r="0.32" fill="#8093d6"/>
<circle cx="66.60" cy="298.72" r="0.32" fill="#8093d6"/>
<circle cx="62.91" cy="300.44" r="0.32" fill="#8093d6"/>
<circle cx="74.15" cy="293.78" r="0.32" fill="#8093d6"/>
<circle cx="70.19" cy="293.95" r="0.32" fill="#8093d6"/>
<circle cx="81.37" cy="306.15" r="0.32" fill="#8093d6"/>
<circle cx="58.04" cy="285.81" r="0.32" fill="#8093d6"/>
<circle cx="70.89" cy="295.50" r="0.32" fill="#8093d6"/>
<circle cx="64.89" cy="302.85" r="0.32" fill="#8093d6"/>
<circle cx="90.19" cy="285.35" r="0.32" fill="#8093d6"/>
<circle cx="64.87" cy="296.43" r="0.32" fill="#8093d6"/>
<circle cx="80.07" cy="302.74" r="0.32" fill="#8093d6"/>
<circle cx="72.94" cy="300.02" r="0.32" fill="#8093d6"/>
<circle cx="72.68" cy="295.09" r="0.32" fill="#8093d6"/>
<circle cx="70.56" cy="290.81" r="0.32" fill="#8093d6"/>
<circle cx="74.94" cy="294.19" r="0.32" fill="#8093d6"/>
<circle cx="74.51" cy="291.54" r="0.32" fill="#8093d6"/>
<circle cx="83.09" cy="296.60" r="0.32" fill="#8093d6"/>
<circle cx="72.55" cy="309.62" r="0.32" fill="#8093d6"/>
<circle cx="72.86" cy="297.67" r="0.32" fill="#8093d6"/>
<circle cx="73.66" cy="280.93" r="0.32" fill="#8093d6"/>
<circle cx="78.97" cy="283.52" r="0.32" fill="#8093d6"/>
<circle cx="80.50" cy="301.40" r="0.32" fill="#8093d6"/>
<circle cx="70.03" cy="285.33" r="0.32" fill="#8093d6"/>
<circle cx="76.88" cy="292.16" r="0.32" fill="#8093d6"/>
<circle cx="82.85" cy="291.82" r="0.32" fill="#8093d6"/>
<circle cx="73.20" cy="295.11" r="0.32" fill="#8093d6"/>
<circle cx="64.46" cy="281.53" r="0.32" fill="#8093d6"/>
<circle cx="77.30" cy="298.73" r="0.32" fill="#8093d6"/>
<circle cx="71.46" cy="289.62" r="0.32" fill="#8093d6"/>
<circle cx="77.19" cy="287.04" r="0.32" fill="#8093d6"/>
<circle cx="78.23" cy="298.16" r="0.32" fill="#8093d6"/>
<circle cx="65.30" cy="290.61" r="0.32" fill="#8093d6"/>
<circle cx="70.26" cy="290.49" r="0.32" fill="#8093d6"/>
<circle cx="73.95" cy="286.82" r="0.32" fill="#8093d6"/>
<circle cx="65.95" cy="284.98" r="0.32" fill="#8093d6"/>
<circle cx="65.99" cy="299.38" r="0.32" fill="#8093d6"/>
<circle cx="75.81" cy="273.89" r="0.32" fill="#8093d6"/>
<circle cx="73.95" cy="283.63" r="0.32" fill="#8093d6"/>
<circle cx="71.35" cy="298.07" r="0.32" fill="#8093d6"/>
<circle cx="82.77" cy="292.71" r="0.32" fill="#8093d6"/>
<circle cx="74.94" cy="287.85" r="0.32" fill="#8093d6"/>
<circle cx="56.83" cy="279.71" r="0.32" fill="#8093d6"/>
<circle cx="76.64" cy="284.35" r="0.32" fill="#8093d6"/>
<circle cx="69.33" cy="303.88" r="0.32" fill="#8093d6"/>
<circle cx="77.19" cy="289.34" r="0.32" fill="#8093d6"/>
<circle cx="68.22" cy="283.80" r="0.32" fill="#8093d6"/>
<circle cx="82.09" cy="285.08" r="0.32" fill="#8093d6"/>
<circle cx="71.92" cy="295.51" r="0.32" fill="#8093d6"/>
<circle cx="71.40" cy="304.40" r="0.32" fill="#8093d6"/>
<circle cx="60.98" cy="286.42" r="0.32" fill="#8093d6"/>
<circle cx="73.56" cy="293.28" r="0.32" fill="#8093d6"/>
<circle cx="78.39" cy="280.75" r="0.32" fill="#8093d6"/>
<circle cx="78.12" cy="286.31" r="0.32" fill="#8093d6"/>
<circle cx="69.96" cy="312.37" r="0.32" fill="#8093d6"/>
<circle cx="75.73" cy="282.20" r="0.32" fill="#8093d6"/>
<circle cx="77.54" cy="290.72" r="0.32" fill="#8093d6"/>
<circle cx="79.65" cy="300.82" r="0.32" fill="#8093d6"/>
<circle cx="73.37" cy="289.25" r="0.32" fill="#8093d6"/>
<circle cx="72.02" cy="274.15" r="0.32" fill="#8093d6"/>
<circle cx="72.96" cy="307.24" r="0.32" fill="#8093d6"/>
<circle cx="68.56" cy="285.95" r="0.32" fill="#8093d6"/>
<circle cx="73.45" cy="301.65" r="0.32" fill="#8093d6"/>
<circle cx="72.09" cy="279.06" r="0.32" fill="#8093d6"/>
<circle cx="69.10" cy="295.97" r="0.32" fill="#8093d6"/>
<circle cx="76.19" cy="280.49" r="0.32" fill="#8093d6"/>
<circle cx="72.99" cy="306.78" r="0.32" fill="#8093d6"/>
<circle cx="83.61" cy="283.71" r="0.32" fill="#8093d6"/>
<circle cx="64.11" cy="293.60" r="0.32" fill="#8093d6"/>
<circle cx="68.16" cy="291.90" r="0.32" fill="#8093d6"/>
<circle cx="73.57" cy="300.31" r="0.32" fill="#8093d6"/>
<circle cx="69.99" cy="286.86" r="0.32" fill="#8093d6"/>
<circle cx="65.47" cy="291.40" r="0.32" fill="#8093d6"/>
<circle cx="68.05" cy="294.45" r="0.32" fill="#8093d6"/>
<circle cx="95.02" cy="303.52" r="0.32" fill="#8093d6"/>
<circle cx="69.67" cy="298.03" r="0.32" fill="#8093d6"/>
<circle cx="63.72" cy="283.27" r="0.32" fill="#8093d6"/>
<circle cx="77.25" cy="305.09" r="0.32" fill="#8093d6"/>
<circle cx="67.24" cy="304.01" r="0.32" fill="#8093d6"/>
<circle cx="73.81" cy="295.30" r="0.32" fill="#8093d6"/>
<circle cx="86.01" cy="293.91" r="0.32" fill="#8093d6"/>
<circle cx="62.97" cy="296.00" r="0.32" fill="#8093d6"/>
<circle cx="71.11" cy="310.60" r="0.32" fill="#8093d6"/>
<circle cx="56.86" cy="304.77" r="0.32" fill="#8093d6"/>
<circle cx="73.40" cy="278.46" r="0.32" fill="#8093d6"/>
<circle cx="77.22" cy="293.43" r="0.32" fill="#8093d6"/>
<circle cx="76.56" cy="296.42" r="0.32" fill="#8093d6"/>
<circle cx="73.23" cy="298.41" r="0.32" fill="#8093d6"/>
<circle cx="80.48" cy="298.62" r="0.32" fill="#8093d6"/>
<circle cx="77.33" cy="287.76" r="0.32" fill="#8093d6"/>
<circle cx="86.52" cy="288.57" r="0.32" fill="#8093d6"/>
<circle cx="80.69" cy="299.77" r="0.32" fill="#8093d6"/>
<circle cx="69.17" cy="297.73" r="0.32" fill="#8093d6"/>
<circle cx="77.22" cy="293.24" r="0.32" fill="#8093d6"/>
<circle cx="62.80" cy="289.93" r="0.32" fill="#8093d6"/>
<circle cx="82.03" cy="291.38" r="0.32" fill="#8093d6"/>
<circle cx="66.02" cy="301.11" r="0.32" fill="#8093d6"/>
<circle cx="81.77" cy="314.72" r="0.32" fill="#8093d6"/>
<circle cx="76.95" cy="294.67" r="0.32" fill="#8093d6"/>
<circle cx="77.22" cy="296.66" r="0.32" fill="#8093d6"/>
<circle cx="62.96" cy="310.57" r="0.32" fill="#8093d6"/>
<circle cx="83.01" cy="285.32" r="0.32" fill="#8093d6"/>
<circle cx="83.77" cy="299.61" r="0.32" fill="#8093d6"/>
<circle cx="69.46" cy="282.43" r="0.32" fill="#8093d6"/>
<circle cx="74.36" cy="294.72" r="0.32" fill="#8093d6"/>
<circle cx="79.21" cy="306.91" r="0.32" fill="#8093d6"/>
<circle cx="81.77" cy="289.97" r="0.32" fill="#8093d6"/>
<circle cx="69.17" cy="306.48" r="0.32" fill="#8093d6"/>
<circle cx="72.16" cy="290.76" r="0.32" fill="#8093d6"/>
<circle cx="69.58" cy="301.20" r="0.32" fill="#8093d6"/>
<circle cx="77.70" cy="302.25" r="0.32" fill="#8093d6"/>
<circle cx="74.53" cy="300.79" r="0.32" fill="#8093d6"/>
<circle cx="78.55" cy="305.60" r="0.32" fill="#8093d6"/>
<circle cx="83.09" cy="296.13" r="0.32" fill="#8093d6"/>
<circle cx="72.64" cy="297.29" r="0.32" fill="#8093d6"/>
<circle cx="76.44" cy="292.21" r="0.32" fill="#8093d6"/>
<circle cx="84.86" cy="287.72" r="0.32" fill="#8093d6"/>
<circle cx="74.94" cy="291.82" r="0.32" fill="#8093d6"/>
<circle cx="89.16" cy="297.03" r="0.30" fill="#93a4de"/>
<circle cx="108.59" cy="290.18" r="0.30" fill="#93a4de"/>
<circle cx="86.17" cy="290.45" r="0.30" fill="#93a4de"/>
<circle cx="84.04" cy="307.01" r="0.30" fill="#93a4de"/>
<circle cx="80.47" cy="297.39" r="0.30" fill="#93a4de"/>
<circle cx="96.98" cy="299.87" r="0.30" fill="#93a4de"/>
<circle cx="106.34" cy="299.86" r="0.30" fill="#93a4de"/>
<circle cx="88.25" cy="294.71" r="0.30" fill="#93a4de"/>
<circle cx="97.87" cy="292.00" r="0.30" fill="#93a4de"/>
<circle cx="88.55" cy="298.14" r="0.30" fill="#93a4de"/>
<circle cx="90.72" cy="309.27" r="0.30" fill="#93a4de"/>
<circle cx="90.24" cy="299.66" r="0.30" fill="#93a4de"/>
<circle cx="85.14" cy="296.35" r="0.30" fill="#93a4de"/>
<circle cx="96.64" cy="294.03" r="0.30" fill="#93a4de"/>
<circle cx="96.05" cy="295.68" r="0.30" fill="#93a4de"/>
<circle cx="103.57" cy="289.63" r="0.30" fill="#93a4de"/>
<circle cx="95.48" cy="303.74" r="0.30" fill="#93a4de"/>
<circle cx="91.43" cy="301.27" r="0.30" fill="#93a4de"/>
<circle cx="95.56" cy="302.36" r="0.30" fill="#93a4de"/>
<circle cx="96.63" cy="294.56" r="0.30" fill="#93a4de"/>
<circle cx="88.30" cy="310.44" r="0.30" fill="#93a4de"/>
<circle cx="106.56" cy="299.98" r="0.30" fill="#93a4de"/>
<circle cx="86.26" cy="314.69" r="0.30" fill="#93a4de"/>
<circle cx="109.24" cy="297.28" r="0.30" fill="#93a4de"/>
<circle cx="90.33" cy="299.24" r="0.30" fill="#93a4de"/>
<circle cx="110.00" cy="296.16" r="0.30" fill="#93a4de"/>
<circle cx="87.31" cy="295.25" r="0.30" fill="#93a4de"/>
<circle cx="95.32" cy="304.93" r="0.30" fill="#93a4de"/>
<circle cx="96.67" cy="299.37" r="0.30" fill="#93a4de"/>
<circle cx="94.82" cy="285.05" r="0.30" fill="#93a4de"/>
<circle cx="94.20" cy="298.69" r="0.30" fill="#93a4de"/>
<circle cx="103.51" cy="301.01" r="0.30" fill="#93a4de"/>
<circle cx="85.80" cy="296.16" r="0.30" fill="#93a4de"/>
<circle cx="96.38" cy="305.27" r="0.30" fill="#93a4de"/>
<circle cx="88.69" cy="283.66" r="0.30" fill="#93a4de"/>
<circle cx="87.75" cy="293.66" r="0.30" fill="#93a4de"/>
<circle cx="106.39" cy="300.56" r="0.30" fill="#93a4de"/>
<circle cx="80.94" cy="302.11" r="0.30" fill="#93a4de"/>
<circle cx="108.44" cy="300.35" r="0.30" fill="#93a4de"/>
<circle cx="84.18" cy="307.56" r="0.30" fill="#93a4de"/>
<circle cx="99.91" cy="289.86" r="0.30" fill="#93a4de"/>
<circle cx="112.67" cy="297.49" r="0.30" fill="#93a4de"/>
<circle cx="92.41" cy="300.47" r="0.30" fill="#93a4de"/>
<circle cx="97.22" cy="290.17" r="0.30" fill="#93a4de"/>
<circle cx="97.48" cy="301.77" r="0.30" fill="#93a4de"/>
<circle cx="92.28" cy="295.62" r="0.30" fill="#93a4de"/>
<circle cx="83.30" cy="295.06" r="0.30" fill="#93a4de"/>
<circle cx="88.46" cy="295.65" r="0.30" fill="#93a4de"/>
<circle cx="89.34" cy="283.43" r="0.30" fill="#93a4de"/>
<circle cx="98.25" cy="291.39" r="0.30" fill="#93a4de"/>
<circle cx="90.87" cy="289.34" r="0.30" fill="#93a4de"/>
<circle cx="93.03" cy="293.51" r="0.30" fill="#93a4de"/>
<circle cx="108.58" cy="283.55" r="0.30" fill="#93a4de"/>
<circle cx="82.20" cy="296.27" r="0.30" fill="#93a4de"/>
<circle cx="82.03" cy="294.34" r="0.30" fill="#93a4de"/>
<circle cx="116.35" cy="298.37" r="0.30" fill="#93a4de"/>
<circle cx="93.94" cy="300.38" r="0.30" fill="#93a4de"/>
<circle cx="98.46" cy="299.20" r="0.30" fill="#93a4de"/>
<circle cx="93.91" cy="294.42" r="0.30" fill="#93a4de"/>
<circle cx="104.46" cy="302.18" r="0.30" fill="#93a4de"/>
<circle cx="93.58" cy="297.24" r="0.30" fill="#93a4de"/>
<circle cx="83.43" cy="290.63" r="0.30" fill="#93a4de"/>
<circle cx="79.13" cy="294.44" r="0.30" fill="#93a4de"/>
<circle cx="107.50" cy="304.51" r="0.30" fill="#93a4de"/>
<circle cx="92.44" cy="293.92" r="0.30" fill="#93a4de"/>
<circle cx="100.51" cy="301.70" r="0.30" fill="#93a4de"/>
<circle cx="85.71" cy="295.97" r="0.30" fill="#93a4de"/>
<circle cx="99.61" cy="300.95" r="0.30" fill="#93a4de"/>
<circle cx="100.86" cy="303.10" r="0.30" fill="#93a4de"/>
<circle cx="96.26" cy="292.97" r="0.30" fill="#93a4de"/>
<circle cx="79.62" cy="290.88" r="0.30" fill="#93a4de"/>
<circle cx="101.63" cy="307.24" r="0.30" fill="#93a4de"/>
<circle cx="101.25" cy="293.35" r="0.30" fill="#93a4de"/>
<circle cx="84.08" cy="294.87" r="0.30" fill="#93a4de"/>
<circle cx="107.54" cy="291.63" r="0.30" fill="#93a4de"/>
<circle cx="89.48" cy="300.41" r="0.30" fill="#93a4de"/>
<circle cx="88.10" cy="302.44" r="0.30" fill="#93a4de"/>
<circle cx="109.14" cy="294.51" r="0.30" fill="#93a4de"/>
<circle cx="107.11" cy="289.30" r="0.30" fill="#93a4de"/>
<circle cx="94.72" cy="294.10" r="0.30" fill="#93a4de"/>
<circle cx="99.24" cy="293.87" r="0.30" fill="#93a4de"/>
<circle cx="81.76" cy="300.66" r="0.30" fill="#93a4de"/>
<circle cx="85.71" cy="302.48" r="0.30" fill="#93a4de"/>
<circle cx="101.69" cy="299.14" r="0.30" fill="#93a4de"/>
<circle cx="91.15" cy="295.96" r="0.30" fill="#93a4de"/>
<circle cx="108.24" cy="310.22" r="0.30" fill="#93a4de"/>
<circle cx="96.52" cy="279.77" r="0.30" fill="#93a4de"/>
<circle cx="82.03" cy="286.54" r="0.30" fill="#93a4de"/>
<circle cx="106.98" cy="286.34" r="0.30" fill="#93a4de"/>
<circle cx="105.59" cy="298.15" r="0.30" fill="#93a4de"/>
<circle cx="91.66" cy="306.49" r="0.30" fill="#93a4de"/>
<circle cx="91.35" cy="304.66" r="0.30" fill="#93a4de"/>
<circle cx="104.15" cy="291.54" r="0.30" fill="#93a4de"/>
<circle cx="92.96" cy="304.48" r="0.30" fill="#93a4de"/>
<circle cx="91.21" cy="301.81" r="0.30" fill="#93a4de"/>
<circle cx="90.26" cy="293.16" r="0.30" fill="#93a4de"/>
<circle cx="85.91" cy="295.52" r="0.30" fill="#93a4de"/>
<circle cx="82.13" cy="297.81" r="0.30" fill="#93a4de"/>
<circle cx="95.76" cy="298.89" r="0.30" fill="#93a4de"/>
<circle cx="98.09" cy="300.29" r="0.30" fill="#93a4de"/>
<circle cx="86.82" cy="299.20" r="0.30" fill="#93a4de"/>
<circle cx="93.16" cy="299.00" r="0.30" fill="#93a4de"/>
<circle cx="83.99" cy="290.20" r="0.30" fill="#93a4de"/>
<circle cx="89.47" cy="292.20" r="0.30" fill="#93a4de"/>
<circle cx="90.53" cy="288.46" r="0.30" fill="#93a4de"/>
<circle cx="81.16" cy="293.13" r="0.30" fill="#93a4de"/>
<circle cx="85.39" cy="297.17" r="0.30" fill="#93a4de"/>
<circle cx="93.31" cy="300.95" r="0.30" fill="#93a4de"/>
<circle cx="84.18" cy="295.46" r="0.30" fill="#93a4de"/>
<circle cx="91.81" cy="295.45" r="0.30" fill="#93a4de"/>
<circle cx="82.23" cy="307.13" r="0.30" fill="#93a4de"/>
<circle cx="93.83" cy="304.91" r="0.30" fill="#93a4de"/>
<g filter="url(#rough)">
<ellipse cx="73.00" cy="301.00" rx="13.00" ry="15.00" fill="url(#gHaze)"/>
<ellipse cx="70.40" cy="278.60" rx="8.20" ry="5.60" fill="url(#gBlue2)" transform="rotate(-24 70.40 278.60)"/>
<ellipse cx="72.00" cy="277.60" rx="5.00" ry="3.40" fill="url(#gBlue2)" transform="rotate(-24 72.00 277.60)"/>
<ellipse cx="66.00" cy="314.80" rx="19.50" ry="11.00" fill="url(#gBlue)" transform="rotate(-9 66.00 314.80)"/>
<ellipse cx="72.50" cy="306.00" rx="7.00" ry="10.00" fill="url(#gBlue2)"/>
<ellipse cx="60.00" cy="314.00" rx="9.00" ry="6.50" fill="url(#gBlue2)"/>
<ellipse cx="69.80" cy="312.60" rx="7.50" ry="4.40" fill="url(#gCyanCore)" transform="rotate(-8 69.80 312.60)"/>
<ellipse cx="88.60" cy="309.80" rx="14.00" ry="15.60" fill="url(#gMain)"/>
</g>
</g>
<path d="M45.40 247.90H121.40V322.00" fill="none" stroke="#c6c6c6" stroke-width="0.7"/>
<line x1="45.40" y1="322.00" x2="121.40" y2="322.00" stroke="#a4a4a4" stroke-width="0.7"/>
<line x1="45.40" y1="247.90" x2="45.40" y2="322.00" stroke="#8a8a8a" stroke-width="0.7"/>
<line x1="43.80" y1="254.40" x2="45.70" y2="254.40" stroke="#222" stroke-width="0.8"/>
<text x="0.00" y="2.11" font-size="5.9" text-anchor="end" fill="#2a2a2a" transform="translate(37.80 254.40) scale(0.92 1)" stroke="#2a2a2a" stroke-width="0.1">10</text>
<text x="38.30" y="253.60" font-size="3.9" fill="#2a2a2a" stroke="#2a2a2a" stroke-width="0.1">5</text>
<line x1="54.00" y1="321.80" x2="54.00" y2="323.50" stroke="#555" stroke-width="0.6"/>
<text x="0.00" y="2.11" font-size="5.9" text-anchor="end" fill="#2a2a2a" transform="translate(54.90 330.50) scale(0.92 1)" stroke="#2a2a2a" stroke-width="0.1">10</text>
<text x="55.40" y="329.70" font-size="3.9" fill="#2a2a2a" stroke="#2a2a2a" stroke-width="0.1">1</text>
<line x1="43.80" y1="269.40" x2="45.70" y2="269.40" stroke="#222" stroke-width="0.8"/>
<text x="0.00" y="2.11" font-size="5.9" text-anchor="end" fill="#2a2a2a" transform="translate(37.80 269.40) scale(0.92 1)" stroke="#2a2a2a" stroke-width="0.1">10</text>
<text x="38.30" y="268.60" font-size="3.9" fill="#2a2a2a" stroke="#2a2a2a" stroke-width="0.1">4</text>
<line x1="69.00" y1="321.80" x2="69.00" y2="323.50" stroke="#555" stroke-width="0.6"/>
<text x="0.00" y="2.11" font-size="5.9" text-anchor="end" fill="#2a2a2a" transform="translate(69.90 330.50) scale(0.92 1)" stroke="#2a2a2a" stroke-width="0.1">10</text>
<text x="70.40" y="329.70" font-size="3.9" fill="#2a2a2a" stroke="#2a2a2a" stroke-width="0.1">2</text>
<line x1="43.80" y1="284.40" x2="45.70" y2="284.40" stroke="#222" stroke-width="0.8"/>
<text x="0.00" y="2.11" font-size="5.9" text-anchor="end" fill="#2a2a2a" transform="translate(37.80 284.40) scale(0.92 1)" stroke="#2a2a2a" stroke-width="0.1">10</text>
<text x="38.30" y="283.60" font-size="3.9" fill="#2a2a2a" stroke="#2a2a2a" stroke-width="0.1">3</text>
<line x1="84.00" y1="321.80" x2="84.00" y2="323.50" stroke="#555" stroke-width="0.6"/>
<text x="0.00" y="2.11" font-size="5.9" text-anchor="end" fill="#2a2a2a" transform="translate(84.90 330.50) scale(0.92 1)" stroke="#2a2a2a" stroke-width="0.1">10</text>
<text x="85.40" y="329.70" font-size="3.9" fill="#2a2a2a" stroke="#2a2a2a" stroke-width="0.1">3</text>
<line x1="43.80" y1="299.40" x2="45.70" y2="299.40" stroke="#222" stroke-width="0.8"/>
<text x="0.00" y="2.11" font-size="5.9" text-anchor="end" fill="#2a2a2a" transform="translate(37.80 299.40) scale(0.92 1)" stroke="#2a2a2a" stroke-width="0.1">10</text>
<text x="38.30" y="298.60" font-size="3.9" fill="#2a2a2a" stroke="#2a2a2a" stroke-width="0.1">2</text>
<line x1="99.00" y1="321.80" x2="99.00" y2="323.50" stroke="#555" stroke-width="0.6"/>
<text x="0.00" y="2.11" font-size="5.9" text-anchor="end" fill="#2a2a2a" transform="translate(99.90 330.50) scale(0.92 1)" stroke="#2a2a2a" stroke-width="0.1">10</text>
<text x="100.40" y="329.70" font-size="3.9" fill="#2a2a2a" stroke="#2a2a2a" stroke-width="0.1">4</text>
<line x1="43.80" y1="314.40" x2="45.70" y2="314.40" stroke="#222" stroke-width="0.8"/>
<text x="0.00" y="2.11" font-size="5.9" text-anchor="end" fill="#2a2a2a" transform="translate(37.80 314.40) scale(0.92 1)" stroke="#2a2a2a" stroke-width="0.1">10</text>
<text x="38.30" y="313.60" font-size="3.9" fill="#2a2a2a" stroke="#2a2a2a" stroke-width="0.1">1</text>
<line x1="114.00" y1="321.80" x2="114.00" y2="323.50" stroke="#555" stroke-width="0.6"/>
<text x="0.00" y="2.11" font-size="5.9" text-anchor="end" fill="#2a2a2a" transform="translate(114.90 330.50) scale(0.92 1)" stroke="#2a2a2a" stroke-width="0.1">10</text>
<text x="115.40" y="329.70" font-size="3.9" fill="#2a2a2a" stroke="#2a2a2a" stroke-width="0.1">5</text>
<line x1="44.70" y1="264.88" x2="45.40" y2="264.88" stroke="#777" stroke-width="0.35"/>
<line x1="44.70" y1="262.24" x2="45.40" y2="262.24" stroke="#777" stroke-width="0.35"/>
<line x1="44.70" y1="258.92" x2="45.40" y2="258.92" stroke="#777" stroke-width="0.35"/>
<line x1="49.48" y1="322.00" x2="49.48" y2="322.80" stroke="#888" stroke-width="0.35"/>
<line x1="44.70" y1="256.72" x2="45.40" y2="256.72" stroke="#777" stroke-width="0.35"/>
<line x1="51.68" y1="322.00" x2="51.68" y2="322.80" stroke="#888" stroke-width="0.35"/>
<line x1="44.70" y1="279.88" x2="45.40" y2="279.88" stroke="#777" stroke-width="0.35"/>
<line x1="58.52" y1="322.00" x2="58.52" y2="322.80" stroke="#888" stroke-width="0.35"/>
<line x1="44.70" y1="277.24" x2="45.40" y2="277.24" stroke="#777" stroke-width="0.35"/>
<line x1="61.16" y1="322.00" x2="61.16" y2="322.80" stroke="#888" stroke-width="0.35"/>
<line x1="44.70" y1="273.92" x2="45.40" y2="273.92" stroke="#777" stroke-width="0.35"/>
<line x1="64.48" y1="322.00" x2="64.48" y2="322.80" stroke="#888" stroke-width="0.35"/>
<line x1="44.70" y1="271.72" x2="45.40" y2="271.72" stroke="#777" stroke-width="0.35"/>
<line x1="66.68" y1="322.00" x2="66.68" y2="322.80" stroke="#888" stroke-width="0.35"/>
<line x1="44.70" y1="294.88" x2="45.40" y2="294.88" stroke="#777" stroke-width="0.35"/>
<line x1="73.52" y1="322.00" x2="73.52" y2="322.80" stroke="#888" stroke-width="0.35"/>
<line x1="44.70" y1="292.24" x2="45.40" y2="292.24" stroke="#777" stroke-width="0.35"/>
<line x1="76.16" y1="322.00" x2="76.16" y2="322.80" stroke="#888" stroke-width="0.35"/>
<line x1="44.70" y1="288.92" x2="45.40" y2="288.92" stroke="#777" stroke-width="0.35"/>
<line x1="79.48" y1="322.00" x2="79.48" y2="322.80" stroke="#888" stroke-width="0.35"/>
<line x1="44.70" y1="286.72" x2="45.40" y2="286.72" stroke="#777" stroke-width="0.35"/>
<line x1="81.68" y1="322.00" x2="81.68" y2="322.80" stroke="#888" stroke-width="0.35"/>
<line x1="44.70" y1="309.88" x2="45.40" y2="309.88" stroke="#777" stroke-width="0.35"/>
<line x1="88.52" y1="322.00" x2="88.52" y2="322.80" stroke="#888" stroke-width="0.35"/>
<line x1="44.70" y1="307.24" x2="45.40" y2="307.24" stroke="#777" stroke-width="0.35"/>
<line x1="91.16" y1="322.00" x2="91.16" y2="322.80" stroke="#888" stroke-width="0.35"/>
<line x1="44.70" y1="303.92" x2="45.40" y2="303.92" stroke="#777" stroke-width="0.35"/>
<line x1="94.48" y1="322.00" x2="94.48" y2="322.80" stroke="#888" stroke-width="0.35"/>
<line x1="44.70" y1="301.72" x2="45.40" y2="301.72" stroke="#777" stroke-width="0.35"/>
<line x1="96.68" y1="322.00" x2="96.68" y2="322.80" stroke="#888" stroke-width="0.35"/>
<line x1="103.52" y1="322.00" x2="103.52" y2="322.80" stroke="#888" stroke-width="0.35"/>
<line x1="106.16" y1="322.00" x2="106.16" y2="322.80" stroke="#888" stroke-width="0.35"/>
<line x1="44.70" y1="318.92" x2="45.40" y2="318.92" stroke="#777" stroke-width="0.35"/>
<line x1="109.48" y1="322.00" x2="109.48" y2="322.80" stroke="#888" stroke-width="0.35"/>
<line x1="44.70" y1="316.72" x2="45.40" y2="316.72" stroke="#777" stroke-width="0.35"/>
<line x1="111.68" y1="322.00" x2="111.68" y2="322.80" stroke="#888" stroke-width="0.35"/>
<rect x="46.20" y="257.00" width="30.60" height="64.80" fill="none" stroke="#cf2a3a" stroke-width="1.15"/>
<rect x="78.50" y="294.20" width="40.20" height="27.60" fill="none" stroke="#111" stroke-width="1.1"/>
<text x="108.80" y="300.19" font-size="5" text-anchor="middle" fill="#222" stroke="#222" stroke-width="0.1">T-ALL</text>
<path d="M22.60 310.50V341.20H55.50" fill="none" stroke="#000" stroke-width="1.15"/>
<path d="M22.60 307.20l-2.4 5.4h4.8Z" fill="#000"/>
<path d="M58.80 341.20l-5.4 -2.4v4.8Z" fill="#000"/>
<text x="0.00" y="3.54" font-size="9.9" text-anchor="middle" font-weight="bold" fill="#111" transform="translate(22.00 291.00) rotate(-90) scale(0.545 1)">CD34-PE</text>
<text x="0.00" y="3.54" font-size="9.9" font-weight="bold" fill="#111" transform="translate(62.00 340.70) scale(0.545 1)">CD7-FITC</text>
<circle cx="49.20" cy="292.50" r="1.30" fill="#8e0b20"/>
<line x1="49.20" y1="295.50" x2="49.20" y2="321.00" stroke="#f2a6a9" stroke-width="0.8" stroke-dasharray="2.2 2.2"/>
<line x1="49.20" y1="324.00" x2="49.20" y2="353.80" stroke="#e58593" stroke-width="0.75" stroke-dasharray="2.9 2.3"/>
<path d="M49.2 357.2l-1.2 -3.4h2.4Z" fill="#b8142e"/>
<g clip-path="url(#cp2)">
<circle cx="64.18" cy="396.53" r="0.30" fill="#7f92d4"/>
<circle cx="58.35" cy="401.53" r="0.30" fill="#7f92d4"/>
<circle cx="51.61" cy="407.58" r="0.30" fill="#7f92d4"/>
<circle cx="54.00" cy="416.32" r="0.30" fill="#7f92d4"/>
<circle cx="48.75" cy="401.44" r="0.30" fill="#7f92d4"/>
<circle cx="64.95" cy="408.64" r="0.30" fill="#7f92d4"/>
<circle cx="49.26" cy="400.13" r="0.30" fill="#7f92d4"/>
<circle cx="56.74" cy="413.09" r="0.30" fill="#7f92d4"/>
<circle cx="55.60" cy="420.72" r="0.30" fill="#7f92d4"/>
<circle cx="50.95" cy="380.10" r="0.30" fill="#7f92d4"/>
<circle cx="47.62" cy="419.35" r="0.30" fill="#7f92d4"/>
<circle cx="53.40" cy="381.18" r="0.30" fill="#7f92d4"/>
<circle cx="53.29" cy="389.79" r="0.30" fill="#7f92d4"/>
<circle cx="55.72" cy="401.44" r="0.30" fill="#7f92d4"/>
<circle cx="59.80" cy="412.02" r="0.30" fill="#7f92d4"/>
<circle cx="47.08" cy="418.55" r="0.30" fill="#7f92d4"/>
<circle cx="55.99" cy="381.81" r="0.30" fill="#7f92d4"/>
<circle cx="54.54" cy="391.70" r="0.30" fill="#7f92d4"/>
<circle cx="55.18" cy="406.75" r="0.30" fill="#7f92d4"/>
<circle cx="54.72" cy="388.50" r="0.30" fill="#7f92d4"/>
<circle cx="56.27" cy="405.72" r="0.30" fill="#7f92d4"/>
<circle cx="58.15" cy="423.59" r="0.30" fill="#7f92d4"/>
<circle cx="55.89" cy="401.14" r="0.30" fill="#7f92d4"/>
<circle cx="60.44" cy="419.33" r="0.30" fill="#7f92d4"/>
<circle cx="68.99" cy="390.06" r="0.30" fill="#7f92d4"/>
<circle cx="63.90" cy="422.10" r="0.30" fill="#7f92d4"/>
<circle cx="52.98" cy="408.24" r="0.30" fill="#7f92d4"/>
<circle cx="56.24" cy="397.90" r="0.30" fill="#7f92d4"/>
<circle cx="52.21" cy="419.74" r="0.30" fill="#7f92d4"/>
<circle cx="59.28" cy="393.23" r="0.30" fill="#7f92d4"/>
<circle cx="55.42" cy="426.23" r="0.30" fill="#7f92d4"/>
<circle cx="52.37" cy="408.20" r="0.30" fill="#7f92d4"/>
<circle cx="56.66" cy="417.54" r="0.30" fill="#7f92d4"/>
<circle cx="57.19" cy="382.76" r="0.30" fill="#7f92d4"/>
<circle cx="60.36" cy="402.41" r="0.30" fill="#7f92d4"/>
<circle cx="49.17" cy="405.35" r="0.30" fill="#7f92d4"/>
<circle cx="61.50" cy="397.96" r="0.30" fill="#7f92d4"/>
<circle cx="55.80" cy="428.35" r="0.30" fill="#7f92d4"/>
<circle cx="53.83" cy="418.28" r="0.30" fill="#7f92d4"/>
<circle cx="58.60" cy="411.22" r="0.30" fill="#7f92d4"/>
<circle cx="59.32" cy="415.26" r="0.30" fill="#7f92d4"/>
<circle cx="54.98" cy="386.02" r="0.30" fill="#7f92d4"/>
<circle cx="52.67" cy="413.24" r="0.30" fill="#7f92d4"/>
<circle cx="53.28" cy="402.66" r="0.30" fill="#7f92d4"/>
<circle cx="58.20" cy="393.14" r="0.30" fill="#7f92d4"/>
<circle cx="65.16" cy="410.12" r="0.30" fill="#7f92d4"/>
<circle cx="56.30" cy="412.44" r="0.30" fill="#7f92d4"/>
<circle cx="49.55" cy="386.33" r="0.30" fill="#7f92d4"/>
<circle cx="52.75" cy="387.60" r="0.30" fill="#7f92d4"/>
<circle cx="54.25" cy="380.87" r="0.30" fill="#7f92d4"/>
<circle cx="62.83" cy="396.01" r="0.30" fill="#7f92d4"/>
<circle cx="70.79" cy="418.79" r="0.30" fill="#7f92d4"/>
<circle cx="51.43" cy="394.14" r="0.30" fill="#7f92d4"/>
<circle cx="48.65" cy="424.81" r="0.30" fill="#7f92d4"/>
<circle cx="60.02" cy="382.10" r="0.30" fill="#7f92d4"/>
<circle cx="60.97" cy="379.64" r="0.30" fill="#7f92d4"/>
<circle cx="51.42" cy="403.27" r="0.30" fill="#7f92d4"/>
<circle cx="52.78" cy="387.29" r="0.30" fill="#7f92d4"/>
<circle cx="59.04" cy="417.38" r="0.30" fill="#7f92d4"/>
<circle cx="54.05" cy="401.68" r="0.30" fill="#7f92d4"/>
<circle cx="52.34" cy="401.09" r="0.30" fill="#7f92d4"/>
<circle cx="56.54" cy="408.27" r="0.30" fill="#7f92d4"/>
<circle cx="64.33" cy="414.65" r="0.30" fill="#7f92d4"/>
<circle cx="72.41" cy="415.68" r="0.30" fill="#7f92d4"/>
<circle cx="54.96" cy="413.58" r="0.30" fill="#7f92d4"/>
<circle cx="60.99" cy="423.31" r="0.30" fill="#7f92d4"/>
<circle cx="62.36" cy="431.97" r="0.30" fill="#7f92d4"/>
<circle cx="62.45" cy="406.77" r="0.30" fill="#7f92d4"/>
<circle cx="50.18" cy="403.77" r="0.30" fill="#7f92d4"/>
<circle cx="46.60" cy="375.85" r="0.30" fill="#7f92d4"/>
<circle cx="60.03" cy="382.93" r="0.30" fill="#7f92d4"/>
<circle cx="59.22" cy="408.56" r="0.30" fill="#7f92d4"/>
<circle cx="50.87" cy="365.06" r="0.30" fill="#7f92d4"/>
<circle cx="56.49" cy="407.38" r="0.30" fill="#7f92d4"/>
<circle cx="54.24" cy="419.20" r="0.30" fill="#7f92d4"/>
<circle cx="48.73" cy="420.56" r="0.30" fill="#7f92d4"/>
<circle cx="49.66" cy="430.40" r="0.30" fill="#7f92d4"/>
<circle cx="52.36" cy="413.22" r="0.30" fill="#7f92d4"/>
<circle cx="53.32" cy="404.14" r="0.30" fill="#7f92d4"/>
<circle cx="52.66" cy="398.81" r="0.30" fill="#7f92d4"/>
<circle cx="49.67" cy="401.09" r="0.30" fill="#7f92d4"/>
<circle cx="60.07" cy="420.72" r="0.30" fill="#7f92d4"/>
<circle cx="55.66" cy="381.79" r="0.30" fill="#7f92d4"/>
<circle cx="60.84" cy="361.10" r="0.30" fill="#7f92d4"/>
<circle cx="50.72" cy="404.24" r="0.30" fill="#7f92d4"/>
<circle cx="53.13" cy="383.58" r="0.30" fill="#7f92d4"/>
<circle cx="54.58" cy="428.61" r="0.30" fill="#7f92d4"/>
<circle cx="53.15" cy="411.38" r="0.30" fill="#7f92d4"/>
<circle cx="54.10" cy="399.58" r="0.30" fill="#7f92d4"/>
<circle cx="62.79" cy="407.94" r="0.30" fill="#7f92d4"/>
<circle cx="68.88" cy="402.70" r="0.30" fill="#7f92d4"/>
<circle cx="49.16" cy="419.44" r="0.30" fill="#7f92d4"/>
<circle cx="59.87" cy="387.85" r="0.30" fill="#7f92d4"/>
<circle cx="52.73" cy="370.91" r="0.30" fill="#7f92d4"/>
<circle cx="58.19" cy="409.53" r="0.30" fill="#7f92d4"/>
<circle cx="70.89" cy="372.68" r="0.30" fill="#7f92d4"/>
<circle cx="54.17" cy="428.67" r="0.30" fill="#7f92d4"/>
<circle cx="53.31" cy="393.56" r="0.30" fill="#7f92d4"/>
<circle cx="51.00" cy="421.20" r="0.30" fill="#7f92d4"/>
<circle cx="53.32" cy="412.20" r="0.30" fill="#7f92d4"/>
<circle cx="53.31" cy="391.21" r="0.30" fill="#7f92d4"/>
<circle cx="48.72" cy="427.92" r="0.30" fill="#7f92d4"/>
<circle cx="62.68" cy="407.91" r="0.30" fill="#7f92d4"/>
<circle cx="59.25" cy="415.82" r="0.30" fill="#7f92d4"/>
<circle cx="49.53" cy="402.22" r="0.30" fill="#7f92d4"/>
<circle cx="54.57" cy="427.65" r="0.30" fill="#7f92d4"/>
<circle cx="58.54" cy="431.78" r="0.30" fill="#7f92d4"/>
<circle cx="52.08" cy="392.74" r="0.30" fill="#7f92d4"/>
<circle cx="53.69" cy="388.47" r="0.30" fill="#7f92d4"/>
<circle cx="47.95" cy="388.93" r="0.30" fill="#7f92d4"/>
<circle cx="57.23" cy="415.22" r="0.30" fill="#7f92d4"/>
<circle cx="62.97" cy="395.26" r="0.30" fill="#7f92d4"/>
<circle cx="66.04" cy="403.00" r="0.30" fill="#7f92d4"/>
<circle cx="54.05" cy="423.80" r="0.30" fill="#7f92d4"/>
<circle cx="46.96" cy="409.09" r="0.30" fill="#7f92d4"/>
<circle cx="51.68" cy="411.21" r="0.30" fill="#7f92d4"/>
<circle cx="49.29" cy="362.41" r="0.30" fill="#7f92d4"/>
<circle cx="56.73" cy="397.08" r="0.30" fill="#7f92d4"/>
<circle cx="52.61" cy="428.45" r="0.30" fill="#7f92d4"/>
<circle cx="52.59" cy="386.62" r="0.30" fill="#7f92d4"/>
<circle cx="54.98" cy="418.97" r="0.30" fill="#7f92d4"/>
<circle cx="56.10" cy="410.43" r="0.30" fill="#7f92d4"/>
<circle cx="47.65" cy="418.67" r="0.30" fill="#7f92d4"/>
<circle cx="49.46" cy="402.14" r="0.30" fill="#7f92d4"/>
<circle cx="63.47" cy="382.47" r="0.30" fill="#7f92d4"/>
<circle cx="59.99" cy="406.75" r="0.30" fill="#7f92d4"/>
<circle cx="58.56" cy="407.62" r="0.30" fill="#7f92d4"/>
<circle cx="57.86" cy="386.34" r="0.30" fill="#7f92d4"/>
<circle cx="57.02" cy="393.34" r="0.30" fill="#7f92d4"/>
<circle cx="65.84" cy="423.36" r="0.30" fill="#7f92d4"/>
<circle cx="46.28" cy="399.16" r="0.30" fill="#7f92d4"/>
<circle cx="62.49" cy="397.74" r="0.30" fill="#7f92d4"/>
<circle cx="70.62" cy="397.41" r="0.30" fill="#7f92d4"/>
<circle cx="52.21" cy="375.70" r="0.30" fill="#7f92d4"/>
<circle cx="57.62" cy="378.61" r="0.30" fill="#7f92d4"/>
<circle cx="63.62" cy="393.10" r="0.30" fill="#7f92d4"/>
<circle cx="61.64" cy="405.24" r="0.30" fill="#7f92d4"/>
<circle cx="56.89" cy="396.50" r="0.30" fill="#7f92d4"/>
<circle cx="70.98" cy="388.54" r="0.30" fill="#7f92d4"/>
<circle cx="51.70" cy="387.29" r="0.30" fill="#7f92d4"/>
<circle cx="49.29" cy="419.01" r="0.30" fill="#7f92d4"/>
<circle cx="46.41" cy="418.05" r="0.30" fill="#7f92d4"/>
<circle cx="53.65" cy="387.74" r="0.30" fill="#7f92d4"/>
<circle cx="58.22" cy="400.49" r="0.30" fill="#7f92d4"/>
<circle cx="59.27" cy="422.84" r="0.30" fill="#7f92d4"/>
<circle cx="53.68" cy="393.96" r="0.30" fill="#7f92d4"/>
<circle cx="65.87" cy="395.82" r="0.30" fill="#7f92d4"/>
<circle cx="50.87" cy="409.10" r="0.30" fill="#7f92d4"/>
<circle cx="67.58" cy="409.94" r="0.30" fill="#7f92d4"/>
<circle cx="54.36" cy="417.13" r="0.30" fill="#7f92d4"/>
<circle cx="57.25" cy="393.02" r="0.30" fill="#7f92d4"/>
<circle cx="59.19" cy="418.98" r="0.30" fill="#7f92d4"/>
<circle cx="50.94" cy="395.14" r="0.30" fill="#7f92d4"/>
<circle cx="56.74" cy="381.49" r="0.30" fill="#7f92d4"/>
<circle cx="61.55" cy="390.65" r="0.30" fill="#7f92d4"/>
<circle cx="56.83" cy="410.08" r="0.30" fill="#7f92d4"/>
<circle cx="64.75" cy="406.70" r="0.30" fill="#7f92d4"/>
<circle cx="56.51" cy="422.48" r="0.30" fill="#7f92d4"/>
<circle cx="48.19" cy="387.85" r="0.30" fill="#7f92d4"/>
<circle cx="48.18" cy="399.28" r="0.30" fill="#7f92d4"/>
<circle cx="56.49" cy="411.72" r="0.30" fill="#7f92d4"/>
<circle cx="59.01" cy="416.85" r="0.30" fill="#7f92d4"/>
<circle cx="53.16" cy="413.96" r="0.30" fill="#7f92d4"/>
<circle cx="54.38" cy="388.76" r="0.30" fill="#7f92d4"/>
<circle cx="47.98" cy="409.26" r="0.30" fill="#7f92d4"/>
<circle cx="50.81" cy="413.13" r="0.30" fill="#7f92d4"/>
<circle cx="61.89" cy="408.30" r="0.30" fill="#7f92d4"/>
<circle cx="50.13" cy="417.41" r="0.30" fill="#7f92d4"/>
<circle cx="52.72" cy="426.94" r="0.30" fill="#7f92d4"/>
<circle cx="64.33" cy="405.35" r="0.30" fill="#7f92d4"/>
<circle cx="54.66" cy="413.69" r="0.30" fill="#7f92d4"/>
<circle cx="46.49" cy="382.37" r="0.30" fill="#7f92d4"/>
<circle cx="55.20" cy="401.57" r="0.30" fill="#7f92d4"/>
<circle cx="54.98" cy="408.63" r="0.30" fill="#7f92d4"/>
<circle cx="57.57" cy="410.60" r="0.30" fill="#7f92d4"/>
<circle cx="47.79" cy="395.13" r="0.30" fill="#7f92d4"/>
<circle cx="58.06" cy="391.35" r="0.30" fill="#7f92d4"/>
<circle cx="58.29" cy="408.84" r="0.30" fill="#7f92d4"/>
<circle cx="52.25" cy="386.85" r="0.30" fill="#7f92d4"/>
<circle cx="51.96" cy="414.62" r="0.30" fill="#7f92d4"/>
<circle cx="52.48" cy="394.77" r="0.30" fill="#7f92d4"/>
<circle cx="46.95" cy="403.10" r="0.30" fill="#7f92d4"/>
<circle cx="56.51" cy="406.77" r="0.30" fill="#7f92d4"/>
<circle cx="54.49" cy="404.29" r="0.30" fill="#7f92d4"/>
<circle cx="48.99" cy="389.83" r="0.30" fill="#7f92d4"/>
<circle cx="50.33" cy="405.00" r="0.30" fill="#7f92d4"/>
<circle cx="46.32" cy="401.26" r="0.30" fill="#7f92d4"/>
<circle cx="46.69" cy="403.90" r="0.30" fill="#7f92d4"/>
<circle cx="56.96" cy="397.38" r="0.30" fill="#7f92d4"/>
<circle cx="67.41" cy="401.10" r="0.30" fill="#7f92d4"/>
<circle cx="54.33" cy="388.95" r="0.30" fill="#7f92d4"/>
<circle cx="46.28" cy="418.65" r="0.30" fill="#7f92d4"/>
<circle cx="55.97" cy="398.35" r="0.30" fill="#7f92d4"/>
<circle cx="58.54" cy="386.76" r="0.30" fill="#7f92d4"/>
<circle cx="50.40" cy="382.55" r="0.30" fill="#7f92d4"/>
<circle cx="51.13" cy="419.57" r="0.30" fill="#7f92d4"/>
<circle cx="54.57" cy="391.96" r="0.30" fill="#7f92d4"/>
<circle cx="57.46" cy="379.18" r="0.30" fill="#7f92d4"/>
<circle cx="61.29" cy="396.70" r="0.30" fill="#7f92d4"/>
<circle cx="50.19" cy="415.71" r="0.30" fill="#7f92d4"/>
<circle cx="48.07" cy="401.22" r="0.30" fill="#7f92d4"/>
<circle cx="50.97" cy="423.79" r="0.30" fill="#7f92d4"/>
<circle cx="57.05" cy="406.06" r="0.30" fill="#7f92d4"/>
<circle cx="52.85" cy="415.47" r="0.30" fill="#7f92d4"/>
<circle cx="57.57" cy="414.07" r="0.30" fill="#7f92d4"/>
<circle cx="51.34" cy="429.30" r="0.30" fill="#7f92d4"/>
<circle cx="49.32" cy="411.45" r="0.30" fill="#7f92d4"/>
<circle cx="60.19" cy="416.39" r="0.30" fill="#7f92d4"/>
<circle cx="55.55" cy="402.68" r="0.30" fill="#7f92d4"/>
<circle cx="57.00" cy="405.07" r="0.30" fill="#7f92d4"/>
<circle cx="52.66" cy="415.91" r="0.30" fill="#7f92d4"/>
<circle cx="46.23" cy="417.11" r="0.30" fill="#7f92d4"/>
<circle cx="61.43" cy="406.16" r="0.30" fill="#7f92d4"/>
<circle cx="50.22" cy="413.92" r="0.30" fill="#7f92d4"/>
<circle cx="59.17" cy="407.13" r="0.30" fill="#7f92d4"/>
<circle cx="55.73" cy="409.96" r="0.30" fill="#7f92d4"/>
<circle cx="49.51" cy="418.34" r="0.30" fill="#7f92d4"/>
<circle cx="54.53" cy="379.96" r="0.30" fill="#7f92d4"/>
<circle cx="56.34" cy="416.09" r="0.30" fill="#7f92d4"/>
<circle cx="59.17" cy="406.19" r="0.30" fill="#7f92d4"/>
<circle cx="55.43" cy="393.56" r="0.30" fill="#7f92d4"/>
<circle cx="59.00" cy="402.77" r="0.30" fill="#7f92d4"/>
<circle cx="52.17" cy="397.24" r="0.30" fill="#7f92d4"/>
<circle cx="57.37" cy="387.38" r="0.30" fill="#7f92d4"/>
<circle cx="53.19" cy="408.09" r="0.30" fill="#7f92d4"/>
<circle cx="55.82" cy="399.31" r="0.30" fill="#7f92d4"/>
<circle cx="49.99" cy="417.87" r="0.30" fill="#7f92d4"/>
<circle cx="51.17" cy="401.18" r="0.30" fill="#7f92d4"/>
<circle cx="55.92" cy="408.17" r="0.30" fill="#7f92d4"/>
<circle cx="61.19" cy="406.50" r="0.30" fill="#7f92d4"/>
<circle cx="54.64" cy="412.75" r="0.30" fill="#7f92d4"/>
<circle cx="62.37" cy="392.98" r="0.30" fill="#7f92d4"/>
<circle cx="49.58" cy="402.13" r="0.30" fill="#7f92d4"/>
<circle cx="58.37" cy="412.32" r="0.30" fill="#7f92d4"/>
<circle cx="59.53" cy="408.01" r="0.30" fill="#7f92d4"/>
<circle cx="61.78" cy="389.42" r="0.30" fill="#7f92d4"/>
<circle cx="52.01" cy="399.41" r="0.30" fill="#7f92d4"/>
<circle cx="47.76" cy="397.44" r="0.30" fill="#7f92d4"/>
<circle cx="64.97" cy="380.79" r="0.30" fill="#7f92d4"/>
<circle cx="53.22" cy="396.44" r="0.30" fill="#7f92d4"/>
<circle cx="56.04" cy="419.53" r="0.30" fill="#7f92d4"/>
<circle cx="46.79" cy="414.20" r="0.30" fill="#7f92d4"/>
<circle cx="57.26" cy="419.83" r="0.30" fill="#7f92d4"/>
<circle cx="68.95" cy="376.85" r="0.30" fill="#7f92d4"/>
<circle cx="59.88" cy="402.37" r="0.30" fill="#7f92d4"/>
<circle cx="60.50" cy="407.07" r="0.30" fill="#7f92d4"/>
<circle cx="55.42" cy="407.42" r="0.30" fill="#7f92d4"/>
<circle cx="51.04" cy="394.34" r="0.30" fill="#7f92d4"/>
<circle cx="57.19" cy="380.18" r="0.30" fill="#7f92d4"/>
<circle cx="58.35" cy="394.60" r="0.30" fill="#7f92d4"/>
<circle cx="52.17" cy="383.53" r="0.30" fill="#7f92d4"/>
<circle cx="65.68" cy="373.79" r="0.30" fill="#7f92d4"/>
<circle cx="58.21" cy="396.11" r="0.30" fill="#7f92d4"/>
<circle cx="60.13" cy="404.29" r="0.30" fill="#7f92d4"/>
<circle cx="64.39" cy="430.11" r="0.30" fill="#7f92d4"/>
<circle cx="62.82" cy="424.68" r="0.30" fill="#7f92d4"/>
<circle cx="54.10" cy="424.92" r="0.30" fill="#7f92d4"/>
<circle cx="51.05" cy="387.13" r="0.30" fill="#7f92d4"/>
<circle cx="60.88" cy="371.69" r="0.30" fill="#7f92d4"/>
<circle cx="59.82" cy="394.12" r="0.30" fill="#7f92d4"/>
<circle cx="46.99" cy="408.64" r="0.30" fill="#7f92d4"/>
<circle cx="56.78" cy="379.42" r="0.30" fill="#7f92d4"/>
<circle cx="66.02" cy="422.63" r="0.30" fill="#7f92d4"/>
<circle cx="62.03" cy="392.51" r="0.30" fill="#7f92d4"/>
<circle cx="62.26" cy="428.58" r="0.30" fill="#7f92d4"/>
<circle cx="52.12" cy="421.80" r="0.30" fill="#7f92d4"/>
<circle cx="52.31" cy="423.07" r="0.30" fill="#7f92d4"/>
<circle cx="57.51" cy="413.69" r="0.30" fill="#7f92d4"/>
<circle cx="60.52" cy="396.48" r="0.30" fill="#7f92d4"/>
<circle cx="54.74" cy="393.61" r="0.30" fill="#7f92d4"/>
<circle cx="54.37" cy="388.64" r="0.30" fill="#7f92d4"/>
<circle cx="53.11" cy="400.42" r="0.30" fill="#7f92d4"/>
<circle cx="47.87" cy="407.44" r="0.30" fill="#7f92d4"/>
<circle cx="63.35" cy="374.08" r="0.30" fill="#7f92d4"/>
<circle cx="57.60" cy="426.00" r="0.30" fill="#7f92d4"/>
<circle cx="53.11" cy="421.09" r="0.30" fill="#7f92d4"/>
<circle cx="52.19" cy="410.47" r="0.30" fill="#7f92d4"/>
<circle cx="58.51" cy="406.19" r="0.30" fill="#7f92d4"/>
<circle cx="52.95" cy="419.81" r="0.30" fill="#7f92d4"/>
<circle cx="53.97" cy="402.70" r="0.30" fill="#7f92d4"/>
<circle cx="58.23" cy="415.17" r="0.30" fill="#7f92d4"/>
<circle cx="61.70" cy="400.89" r="0.30" fill="#7f92d4"/>
<circle cx="58.03" cy="399.63" r="0.30" fill="#7f92d4"/>
<circle cx="52.46" cy="409.49" r="0.30" fill="#7f92d4"/>
<circle cx="75.28" cy="396.27" r="0.30" fill="#7f92d4"/>
<circle cx="52.73" cy="414.25" r="0.30" fill="#7f92d4"/>
<circle cx="58.43" cy="409.45" r="0.30" fill="#7f92d4"/>
<circle cx="56.37" cy="370.63" r="0.30" fill="#7f92d4"/>
<circle cx="62.05" cy="413.03" r="0.30" fill="#7f92d4"/>
<circle cx="49.91" cy="428.87" r="0.30" fill="#7f92d4"/>
<circle cx="49.87" cy="377.85" r="0.30" fill="#7f92d4"/>
<circle cx="54.70" cy="396.78" r="0.30" fill="#7f92d4"/>
<circle cx="53.06" cy="407.96" r="0.30" fill="#7f92d4"/>
<circle cx="56.76" cy="421.07" r="0.30" fill="#7f92d4"/>
<circle cx="59.38" cy="399.14" r="0.30" fill="#7f92d4"/>
<circle cx="54.79" cy="403.06" r="0.30" fill="#7f92d4"/>
<circle cx="48.77" cy="409.08" r="0.30" fill="#7f92d4"/>
<circle cx="63.40" cy="388.95" r="0.30" fill="#7f92d4"/>
<circle cx="50.60" cy="388.29" r="0.30" fill="#7f92d4"/>
<circle cx="64.25" cy="406.99" r="0.30" fill="#7f92d4"/>
<circle cx="55.63" cy="384.40" r="0.30" fill="#7f92d4"/>
<circle cx="66.91" cy="423.62" r="0.30" fill="#7f92d4"/>
<circle cx="51.49" cy="413.24" r="0.30" fill="#7f92d4"/>
<circle cx="64.98" cy="429.11" r="0.30" fill="#7f92d4"/>
<circle cx="52.57" cy="410.91" r="0.30" fill="#7f92d4"/>
<circle cx="60.67" cy="427.15" r="0.30" fill="#7f92d4"/>
<circle cx="52.12" cy="408.80" r="0.30" fill="#7f92d4"/>
<circle cx="51.42" cy="411.73" r="0.30" fill="#7f92d4"/>
<circle cx="55.35" cy="380.04" r="0.30" fill="#7f92d4"/>
<circle cx="58.47" cy="402.16" r="0.30" fill="#7f92d4"/>
<circle cx="48.18" cy="393.02" r="0.30" fill="#7f92d4"/>
<circle cx="62.59" cy="425.47" r="0.30" fill="#7f92d4"/>
<circle cx="63.05" cy="403.95" r="0.30" fill="#7f92d4"/>
<circle cx="55.42" cy="410.20" r="0.30" fill="#7f92d4"/>
<circle cx="53.46" cy="391.43" r="0.30" fill="#7f92d4"/>
<circle cx="48.13" cy="420.93" r="0.30" fill="#7f92d4"/>
<circle cx="53.08" cy="394.78" r="0.30" fill="#7f92d4"/>
<circle cx="49.28" cy="386.09" r="0.30" fill="#7f92d4"/>
<circle cx="57.37" cy="395.59" r="0.30" fill="#7f92d4"/>
<circle cx="48.26" cy="397.04" r="0.30" fill="#7f92d4"/>
<circle cx="47.92" cy="392.03" r="0.30" fill="#7f92d4"/>
<circle cx="62.72" cy="404.96" r="0.30" fill="#7f92d4"/>
<circle cx="55.09" cy="399.89" r="0.30" fill="#7f92d4"/>
<circle cx="62.24" cy="394.45" r="0.30" fill="#7f92d4"/>
<circle cx="56.59" cy="407.33" r="0.30" fill="#7f92d4"/>
<circle cx="62.08" cy="382.81" r="0.30" fill="#7f92d4"/>
<circle cx="47.75" cy="410.58" r="0.30" fill="#7f92d4"/>
<circle cx="53.99" cy="393.18" r="0.30" fill="#7f92d4"/>
<circle cx="49.44" cy="404.54" r="0.30" fill="#7f92d4"/>
<circle cx="65.61" cy="397.54" r="0.30" fill="#7f92d4"/>
<circle cx="60.41" cy="398.05" r="0.30" fill="#7f92d4"/>
<circle cx="68.11" cy="391.85" r="0.30" fill="#7f92d4"/>
<circle cx="52.10" cy="399.93" r="0.30" fill="#7f92d4"/>
<circle cx="74.38" cy="362.62" r="0.30" fill="#7f92d4"/>
<circle cx="65.13" cy="408.75" r="0.30" fill="#7f92d4"/>
<circle cx="50.68" cy="381.13" r="0.30" fill="#7f92d4"/>
<circle cx="57.62" cy="387.27" r="0.30" fill="#7f92d4"/>
<circle cx="61.19" cy="399.15" r="0.30" fill="#7f92d4"/>
<circle cx="60.23" cy="412.03" r="0.30" fill="#7f92d4"/>
<circle cx="59.25" cy="412.97" r="0.30" fill="#7f92d4"/>
<circle cx="65.17" cy="400.18" r="0.30" fill="#7f92d4"/>
<circle cx="61.78" cy="424.50" r="0.30" fill="#7f92d4"/>
<circle cx="56.69" cy="390.75" r="0.30" fill="#7f92d4"/>
<circle cx="52.08" cy="423.53" r="0.30" fill="#7f92d4"/>
<circle cx="58.41" cy="407.12" r="0.30" fill="#7f92d4"/>
<circle cx="58.68" cy="407.82" r="0.30" fill="#7f92d4"/>
<circle cx="56.02" cy="410.88" r="0.30" fill="#7f92d4"/>
<circle cx="71.71" cy="388.37" r="0.30" fill="#7f92d4"/>
<circle cx="49.97" cy="388.41" r="0.30" fill="#7f92d4"/>
<circle cx="51.49" cy="382.73" r="0.30" fill="#7f92d4"/>
<circle cx="60.44" cy="409.98" r="0.30" fill="#7f92d4"/>
<circle cx="54.14" cy="406.50" r="0.30" fill="#7f92d4"/>
<circle cx="66.72" cy="407.13" r="0.30" fill="#7f92d4"/>
<circle cx="59.38" cy="415.55" r="0.30" fill="#7f92d4"/>
<circle cx="62.79" cy="423.07" r="0.30" fill="#7f92d4"/>
<circle cx="57.15" cy="418.98" r="0.30" fill="#7f92d4"/>
<circle cx="53.42" cy="420.05" r="0.30" fill="#7f92d4"/>
<circle cx="51.57" cy="411.20" r="0.30" fill="#7f92d4"/>
<circle cx="55.78" cy="420.81" r="0.30" fill="#7f92d4"/>
<circle cx="52.19" cy="382.67" r="0.30" fill="#7f92d4"/>
<circle cx="51.15" cy="401.82" r="0.30" fill="#7f92d4"/>
<circle cx="47.01" cy="394.71" r="0.30" fill="#7f92d4"/>
<circle cx="55.69" cy="411.32" r="0.30" fill="#7f92d4"/>
<circle cx="53.85" cy="419.79" r="0.30" fill="#7f92d4"/>
<circle cx="59.90" cy="416.48" r="0.30" fill="#7f92d4"/>
<circle cx="55.15" cy="398.49" r="0.30" fill="#7f92d4"/>
<circle cx="67.17" cy="415.34" r="0.30" fill="#7f92d4"/>
<circle cx="56.83" cy="389.79" r="0.30" fill="#7f92d4"/>
<circle cx="63.03" cy="405.02" r="0.30" fill="#7f92d4"/>
<circle cx="62.44" cy="384.69" r="0.30" fill="#7f92d4"/>
<circle cx="66.15" cy="397.12" r="0.30" fill="#7f92d4"/>
<circle cx="51.54" cy="422.89" r="0.30" fill="#7f92d4"/>
<circle cx="46.74" cy="388.69" r="0.30" fill="#7f92d4"/>
<circle cx="51.59" cy="400.34" r="0.30" fill="#7f92d4"/>
<circle cx="60.60" cy="428.22" r="0.30" fill="#7f92d4"/>
<circle cx="60.70" cy="397.27" r="0.30" fill="#7f92d4"/>
<circle cx="56.31" cy="404.55" r="0.30" fill="#7f92d4"/>
<circle cx="53.12" cy="412.02" r="0.30" fill="#7f92d4"/>
<circle cx="57.26" cy="411.37" r="0.30" fill="#7f92d4"/>
<circle cx="58.08" cy="407.26" r="0.30" fill="#7f92d4"/>
<circle cx="47.55" cy="380.95" r="0.30" fill="#7f92d4"/>
<circle cx="68.71" cy="400.08" r="0.30" fill="#7f92d4"/>
<circle cx="49.12" cy="401.36" r="0.30" fill="#7f92d4"/>
<circle cx="55.30" cy="417.89" r="0.30" fill="#7f92d4"/>
<circle cx="54.12" cy="393.76" r="0.30" fill="#7f92d4"/>
<circle cx="57.54" cy="419.10" r="0.30" fill="#7f92d4"/>
<circle cx="55.57" cy="408.37" r="0.30" fill="#7f92d4"/>
<circle cx="57.02" cy="411.43" r="0.30" fill="#7f92d4"/>
<circle cx="55.32" cy="397.78" r="0.30" fill="#7f92d4"/>
<circle cx="59.75" cy="399.13" r="0.30" fill="#7f92d4"/>
<circle cx="55.57" cy="411.92" r="0.30" fill="#7f92d4"/>
<circle cx="57.98" cy="408.30" r="0.30" fill="#7f92d4"/>
<circle cx="47.58" cy="407.90" r="0.30" fill="#7f92d4"/>
<circle cx="65.40" cy="387.19" r="0.30" fill="#7f92d4"/>
<circle cx="55.95" cy="394.97" r="0.30" fill="#7f92d4"/>
<circle cx="54.00" cy="395.07" r="0.30" fill="#7f92d4"/>
<circle cx="52.41" cy="392.19" r="0.30" fill="#7f92d4"/>
<circle cx="50.83" cy="397.18" r="0.30" fill="#7f92d4"/>
<circle cx="55.82" cy="418.09" r="0.30" fill="#7f92d4"/>
<circle cx="53.57" cy="409.05" r="0.30" fill="#7f92d4"/>
<circle cx="58.88" cy="408.98" r="0.30" fill="#7f92d4"/>
<circle cx="59.46" cy="409.13" r="0.30" fill="#7f92d4"/>
<circle cx="55.95" cy="404.83" r="0.30" fill="#7f92d4"/>
<circle cx="55.27" cy="430.64" r="0.30" fill="#7f92d4"/>
<circle cx="47.98" cy="391.32" r="0.30" fill="#7f92d4"/>
<circle cx="49.11" cy="413.82" r="0.30" fill="#7f92d4"/>
<circle cx="58.08" cy="384.60" r="0.30" fill="#7f92d4"/>
<circle cx="53.10" cy="413.59" r="0.30" fill="#7f92d4"/>
<circle cx="51.35" cy="418.39" r="0.30" fill="#7f92d4"/>
<circle cx="55.66" cy="416.80" r="0.30" fill="#7f92d4"/>
<circle cx="64.37" cy="410.27" r="0.30" fill="#7f92d4"/>
<circle cx="58.39" cy="417.91" r="0.30" fill="#7f92d4"/>
<circle cx="61.12" cy="391.18" r="0.30" fill="#7f92d4"/>
<circle cx="49.53" cy="428.04" r="0.30" fill="#7f92d4"/>
<circle cx="52.11" cy="404.21" r="0.30" fill="#7f92d4"/>
<circle cx="55.15" cy="415.02" r="0.30" fill="#7f92d4"/>
<circle cx="51.36" cy="389.52" r="0.30" fill="#7f92d4"/>
<circle cx="52.20" cy="400.20" r="0.30" fill="#7f92d4"/>
<circle cx="52.09" cy="400.11" r="0.30" fill="#7f92d4"/>
<circle cx="54.27" cy="428.85" r="0.30" fill="#7f92d4"/>
<circle cx="47.54" cy="409.50" r="0.30" fill="#7f92d4"/>
<circle cx="60.38" cy="396.07" r="0.30" fill="#7f92d4"/>
<circle cx="55.43" cy="414.96" r="0.30" fill="#7f92d4"/>
<circle cx="54.85" cy="377.94" r="0.30" fill="#7f92d4"/>
<circle cx="61.88" cy="363.31" r="0.30" fill="#7f92d4"/>
<circle cx="53.61" cy="408.70" r="0.30" fill="#7f92d4"/>
<circle cx="48.89" cy="386.50" r="0.30" fill="#7f92d4"/>
<circle cx="68.54" cy="384.12" r="0.30" fill="#7f92d4"/>
<circle cx="56.13" cy="382.04" r="0.30" fill="#7f92d4"/>
<circle cx="60.95" cy="420.37" r="0.30" fill="#7f92d4"/>
<circle cx="50.36" cy="418.27" r="0.30" fill="#7f92d4"/>
<circle cx="53.57" cy="404.88" r="0.30" fill="#7f92d4"/>
<circle cx="58.56" cy="429.14" r="0.30" fill="#7f92d4"/>
<circle cx="52.37" cy="405.30" r="0.30" fill="#7f92d4"/>
<circle cx="54.31" cy="367.11" r="0.30" fill="#7f92d4"/>
<circle cx="49.65" cy="391.10" r="0.30" fill="#7f92d4"/>
<circle cx="66.17" cy="427.80" r="0.30" fill="#7f92d4"/>
<circle cx="54.06" cy="422.12" r="0.30" fill="#7f92d4"/>
<circle cx="51.55" cy="427.92" r="0.30" fill="#7f92d4"/>
<circle cx="56.69" cy="413.24" r="0.30" fill="#7f92d4"/>
<circle cx="62.03" cy="403.47" r="0.30" fill="#7f92d4"/>
<circle cx="60.82" cy="391.88" r="0.30" fill="#7f92d4"/>
<circle cx="65.76" cy="415.19" r="0.30" fill="#7f92d4"/>
<circle cx="56.32" cy="375.38" r="0.30" fill="#7f92d4"/>
<circle cx="52.84" cy="409.49" r="0.30" fill="#7f92d4"/>
<circle cx="58.52" cy="374.98" r="0.30" fill="#7f92d4"/>
<circle cx="52.62" cy="421.26" r="0.30" fill="#7f92d4"/>
<circle cx="57.69" cy="395.55" r="0.30" fill="#7f92d4"/>
<circle cx="54.75" cy="397.39" r="0.30" fill="#7f92d4"/>
<circle cx="63.77" cy="412.08" r="0.30" fill="#7f92d4"/>
<circle cx="63.81" cy="412.29" r="0.30" fill="#7f92d4"/>
<circle cx="55.27" cy="407.76" r="0.30" fill="#7f92d4"/>
<circle cx="63.01" cy="401.29" r="0.30" fill="#7f92d4"/>
<circle cx="54.71" cy="416.90" r="0.30" fill="#7f92d4"/>
<circle cx="50.69" cy="405.36" r="0.30" fill="#7f92d4"/>
<circle cx="51.75" cy="415.72" r="0.30" fill="#7f92d4"/>
<circle cx="56.86" cy="384.47" r="0.30" fill="#7f92d4"/>
<circle cx="50.29" cy="394.38" r="0.30" fill="#7f92d4"/>
<circle cx="51.08" cy="418.30" r="0.30" fill="#7f92d4"/>
<circle cx="50.95" cy="401.27" r="0.30" fill="#7f92d4"/>
<circle cx="55.03" cy="421.31" r="0.30" fill="#7f92d4"/>
<circle cx="64.94" cy="381.49" r="0.30" fill="#7f92d4"/>
<circle cx="67.89" cy="388.68" r="0.30" fill="#7f92d4"/>
<circle cx="49.98" cy="430.97" r="0.30" fill="#7f92d4"/>
<circle cx="56.11" cy="400.10" r="0.30" fill="#7f92d4"/>
<circle cx="49.78" cy="382.51" r="0.30" fill="#7f92d4"/>
<circle cx="60.06" cy="414.65" r="0.30" fill="#7f92d4"/>
<circle cx="54.29" cy="395.88" r="0.30" fill="#7f92d4"/>
<circle cx="53.87" cy="404.18" r="0.30" fill="#7f92d4"/>
<circle cx="53.17" cy="405.90" r="0.30" fill="#7f92d4"/>
<circle cx="62.23" cy="373.53" r="0.30" fill="#7f92d4"/>
<circle cx="64.97" cy="410.43" r="0.30" fill="#7f92d4"/>
<circle cx="59.81" cy="397.23" r="0.30" fill="#7f92d4"/>
<circle cx="52.35" cy="426.73" r="0.30" fill="#7f92d4"/>
<circle cx="54.37" cy="398.30" r="0.30" fill="#7f92d4"/>
<circle cx="50.23" cy="404.24" r="0.30" fill="#7f92d4"/>
<circle cx="57.21" cy="411.77" r="0.30" fill="#7f92d4"/>
<circle cx="69.16" cy="411.65" r="0.30" fill="#7f92d4"/>
<circle cx="52.45" cy="406.59" r="0.30" fill="#7f92d4"/>
<circle cx="57.64" cy="406.93" r="0.30" fill="#7f92d4"/>
<circle cx="50.43" cy="407.56" r="0.30" fill="#7f92d4"/>
<circle cx="53.53" cy="422.23" r="0.30" fill="#7f92d4"/>
<circle cx="51.75" cy="415.17" r="0.30" fill="#7f92d4"/>
<circle cx="46.73" cy="422.35" r="0.30" fill="#7f92d4"/>
<circle cx="56.51" cy="416.45" r="0.30" fill="#7f92d4"/>
<circle cx="60.45" cy="404.37" r="0.30" fill="#7f92d4"/>
<circle cx="54.38" cy="391.85" r="0.30" fill="#7f92d4"/>
<circle cx="49.92" cy="408.48" r="0.30" fill="#7f92d4"/>
<circle cx="54.24" cy="419.46" r="0.30" fill="#7f92d4"/>
<circle cx="57.68" cy="424.67" r="0.30" fill="#7f92d4"/>
<circle cx="57.42" cy="413.21" r="0.30" fill="#7f92d4"/>
<circle cx="54.70" cy="411.17" r="0.30" fill="#7f92d4"/>
<circle cx="62.16" cy="389.44" r="0.30" fill="#7f92d4"/>
<circle cx="50.44" cy="409.42" r="0.30" fill="#7f92d4"/>
<circle cx="49.60" cy="399.77" r="0.30" fill="#7f92d4"/>
<circle cx="57.18" cy="420.07" r="0.30" fill="#7f92d4"/>
<circle cx="62.57" cy="389.59" r="0.30" fill="#7f92d4"/>
<circle cx="68.21" cy="418.03" r="0.30" fill="#7f92d4"/>
<circle cx="47.59" cy="425.62" r="0.30" fill="#7f92d4"/>
<circle cx="62.23" cy="416.53" r="0.30" fill="#7f92d4"/>
<circle cx="61.14" cy="393.90" r="0.30" fill="#7f92d4"/>
<circle cx="54.51" cy="419.84" r="0.30" fill="#7f92d4"/>
<circle cx="49.00" cy="412.28" r="0.30" fill="#7f92d4"/>
<circle cx="60.61" cy="396.15" r="0.30" fill="#7f92d4"/>
<circle cx="62.39" cy="385.30" r="0.30" fill="#7f92d4"/>
<circle cx="64.08" cy="414.03" r="0.30" fill="#7f92d4"/>
<circle cx="49.99" cy="405.08" r="0.30" fill="#7f92d4"/>
<circle cx="47.95" cy="396.02" r="0.30" fill="#7f92d4"/>
<circle cx="49.65" cy="403.79" r="0.30" fill="#7f92d4"/>
<circle cx="50.45" cy="407.41" r="0.30" fill="#7f92d4"/>
<circle cx="54.75" cy="382.77" r="0.30" fill="#7f92d4"/>
<circle cx="59.06" cy="418.55" r="0.30" fill="#7f92d4"/>
<circle cx="56.46" cy="394.46" r="0.30" fill="#7f92d4"/>
<circle cx="51.90" cy="394.78" r="0.30" fill="#7f92d4"/>
<circle cx="63.26" cy="390.74" r="0.30" fill="#7f92d4"/>
<circle cx="69.22" cy="426.44" r="0.30" fill="#7f92d4"/>
<circle cx="59.30" cy="390.85" r="0.30" fill="#7f92d4"/>
<circle cx="55.09" cy="384.97" r="0.30" fill="#7f92d4"/>
<circle cx="56.02" cy="386.31" r="0.30" fill="#7f92d4"/>
<circle cx="60.84" cy="409.01" r="0.30" fill="#7f92d4"/>
<circle cx="56.48" cy="377.38" r="0.30" fill="#7f92d4"/>
<circle cx="60.93" cy="401.95" r="0.30" fill="#7f92d4"/>
<circle cx="57.00" cy="410.12" r="0.30" fill="#7f92d4"/>
<circle cx="49.27" cy="403.00" r="0.30" fill="#7f92d4"/>
<circle cx="58.17" cy="409.57" r="0.30" fill="#7f92d4"/>
<circle cx="52.16" cy="401.28" r="0.30" fill="#7f92d4"/>
<circle cx="56.19" cy="426.12" r="0.30" fill="#7f92d4"/>
<circle cx="70.17" cy="418.23" r="0.30" fill="#7f92d4"/>
<circle cx="49.69" cy="403.80" r="0.30" fill="#7f92d4"/>
<circle cx="57.25" cy="413.01" r="0.30" fill="#7f92d4"/>
<circle cx="59.55" cy="421.64" r="0.30" fill="#7f92d4"/>
<circle cx="54.54" cy="402.93" r="0.30" fill="#7f92d4"/>
<circle cx="46.30" cy="414.58" r="0.30" fill="#7f92d4"/>
<circle cx="57.45" cy="385.96" r="0.30" fill="#7f92d4"/>
<circle cx="58.45" cy="416.34" r="0.30" fill="#7f92d4"/>
<circle cx="55.96" cy="406.36" r="0.30" fill="#7f92d4"/>
<circle cx="57.47" cy="377.99" r="0.30" fill="#7f92d4"/>
<circle cx="67.99" cy="420.40" r="0.30" fill="#7f92d4"/>
<circle cx="50.36" cy="422.60" r="0.30" fill="#7f92d4"/>
<circle cx="46.68" cy="415.71" r="0.30" fill="#7f92d4"/>
<circle cx="56.89" cy="420.02" r="0.30" fill="#7f92d4"/>
<circle cx="55.24" cy="416.99" r="0.30" fill="#7f92d4"/>
<circle cx="56.88" cy="400.13" r="0.30" fill="#7f92d4"/>
<circle cx="62.37" cy="395.39" r="0.30" fill="#7f92d4"/>
<circle cx="56.15" cy="376.86" r="0.30" fill="#7f92d4"/>
<circle cx="56.16" cy="384.23" r="0.30" fill="#7f92d4"/>
<circle cx="57.74" cy="420.52" r="0.30" fill="#7f92d4"/>
<circle cx="59.74" cy="409.95" r="0.30" fill="#7f92d4"/>
<circle cx="58.28" cy="416.47" r="0.30" fill="#7f92d4"/>
<circle cx="65.39" cy="415.09" r="0.30" fill="#7f92d4"/>
<circle cx="57.21" cy="409.65" r="0.30" fill="#7f92d4"/>
<circle cx="57.65" cy="426.25" r="0.30" fill="#7f92d4"/>
<circle cx="63.81" cy="409.49" r="0.30" fill="#7f92d4"/>
<circle cx="51.06" cy="425.57" r="0.30" fill="#7f92d4"/>
<circle cx="52.39" cy="405.98" r="0.30" fill="#7f92d4"/>
<circle cx="56.55" cy="394.98" r="0.30" fill="#7f92d4"/>
<circle cx="53.22" cy="410.52" r="0.30" fill="#7f92d4"/>
<circle cx="67.42" cy="428.64" r="0.30" fill="#7f92d4"/>
<circle cx="50.70" cy="405.72" r="0.30" fill="#7f92d4"/>
<circle cx="65.73" cy="389.48" r="0.30" fill="#7f92d4"/>
<circle cx="52.15" cy="391.21" r="0.30" fill="#7f92d4"/>
<circle cx="55.83" cy="415.85" r="0.30" fill="#7f92d4"/>
<circle cx="54.31" cy="417.53" r="0.30" fill="#7f92d4"/>
<circle cx="61.03" cy="386.53" r="0.30" fill="#7f92d4"/>
<circle cx="47.91" cy="418.04" r="0.30" fill="#7f92d4"/>
<circle cx="51.91" cy="410.81" r="0.30" fill="#7f92d4"/>
<circle cx="57.70" cy="410.74" r="0.30" fill="#7f92d4"/>
<circle cx="57.29" cy="422.30" r="0.30" fill="#7f92d4"/>
<circle cx="52.58" cy="391.22" r="0.30" fill="#7f92d4"/>
<circle cx="50.36" cy="424.05" r="0.30" fill="#7f92d4"/>
<circle cx="60.59" cy="409.53" r="0.30" fill="#7f92d4"/>
<circle cx="64.58" cy="413.15" r="0.30" fill="#7f92d4"/>
<circle cx="51.83" cy="392.95" r="0.30" fill="#7f92d4"/>
<circle cx="50.69" cy="417.48" r="0.30" fill="#7f92d4"/>
<circle cx="60.85" cy="371.51" r="0.30" fill="#7f92d4"/>
<circle cx="63.12" cy="421.37" r="0.30" fill="#7f92d4"/>
<circle cx="57.40" cy="409.27" r="0.30" fill="#7f92d4"/>
<circle cx="56.73" cy="412.26" r="0.30" fill="#7f92d4"/>
<circle cx="51.88" cy="403.58" r="0.30" fill="#7f92d4"/>
<circle cx="52.99" cy="384.68" r="0.30" fill="#7f92d4"/>
<circle cx="49.94" cy="398.96" r="0.30" fill="#7f92d4"/>
<circle cx="73.84" cy="384.68" r="0.30" fill="#7f92d4"/>
<circle cx="50.38" cy="415.09" r="0.30" fill="#7f92d4"/>
<circle cx="47.63" cy="377.20" r="0.30" fill="#7f92d4"/>
<circle cx="65.23" cy="389.98" r="0.30" fill="#7f92d4"/>
<circle cx="62.70" cy="406.75" r="0.30" fill="#7f92d4"/>
<circle cx="56.70" cy="421.77" r="0.30" fill="#7f92d4"/>
<circle cx="51.87" cy="389.54" r="0.30" fill="#7f92d4"/>
<circle cx="72.64" cy="390.60" r="0.30" fill="#7f92d4"/>
<circle cx="46.75" cy="399.93" r="0.30" fill="#7f92d4"/>
<circle cx="55.58" cy="406.77" r="0.30" fill="#7f92d4"/>
<circle cx="58.76" cy="420.39" r="0.30" fill="#7f92d4"/>
<circle cx="68.99" cy="404.37" r="0.30" fill="#7f92d4"/>
<circle cx="60.60" cy="396.85" r="0.30" fill="#7f92d4"/>
<circle cx="51.68" cy="410.93" r="0.30" fill="#7f92d4"/>
<circle cx="52.35" cy="401.84" r="0.30" fill="#7f92d4"/>
<circle cx="59.70" cy="393.20" r="0.30" fill="#7f92d4"/>
<circle cx="62.13" cy="418.63" r="0.30" fill="#7f92d4"/>
<circle cx="51.84" cy="418.30" r="0.30" fill="#7f92d4"/>
<circle cx="52.99" cy="413.81" r="0.30" fill="#7f92d4"/>
<circle cx="51.37" cy="386.60" r="0.30" fill="#7f92d4"/>
<circle cx="58.03" cy="378.43" r="0.30" fill="#7f92d4"/>
<circle cx="63.39" cy="387.62" r="0.30" fill="#7f92d4"/>
<circle cx="62.04" cy="409.55" r="0.30" fill="#7f92d4"/>
<circle cx="56.65" cy="408.59" r="0.30" fill="#7f92d4"/>
<circle cx="53.92" cy="373.50" r="0.30" fill="#7f92d4"/>
<circle cx="52.34" cy="404.02" r="0.30" fill="#7f92d4"/>
<circle cx="59.56" cy="417.67" r="0.30" fill="#7f92d4"/>
<circle cx="46.55" cy="396.06" r="0.30" fill="#7f92d4"/>
<circle cx="50.45" cy="395.66" r="0.30" fill="#7f92d4"/>
<circle cx="54.77" cy="395.10" r="0.30" fill="#7f92d4"/>
<circle cx="51.15" cy="422.71" r="0.30" fill="#7f92d4"/>
<circle cx="63.96" cy="411.43" r="0.30" fill="#7f92d4"/>
<circle cx="47.49" cy="384.88" r="0.30" fill="#7f92d4"/>
<circle cx="50.35" cy="395.45" r="0.30" fill="#7f92d4"/>
<circle cx="51.00" cy="407.66" r="0.30" fill="#7f92d4"/>
<circle cx="47.81" cy="395.14" r="0.30" fill="#7f92d4"/>
<circle cx="51.25" cy="404.39" r="0.30" fill="#7f92d4"/>
<circle cx="67.66" cy="396.11" r="0.30" fill="#7f92d4"/>
<circle cx="58.56" cy="398.81" r="0.30" fill="#7f92d4"/>
<circle cx="50.99" cy="416.39" r="0.30" fill="#7f92d4"/>
<circle cx="54.59" cy="387.38" r="0.30" fill="#7f92d4"/>
<circle cx="49.96" cy="412.76" r="0.30" fill="#7f92d4"/>
<circle cx="52.48" cy="380.88" r="0.30" fill="#7f92d4"/>
<circle cx="48.72" cy="400.60" r="0.30" fill="#7f92d4"/>
<circle cx="57.58" cy="405.92" r="0.30" fill="#7f92d4"/>
<circle cx="59.19" cy="414.31" r="0.30" fill="#7f92d4"/>
<circle cx="57.99" cy="384.27" r="0.30" fill="#7f92d4"/>
<circle cx="53.43" cy="430.56" r="0.30" fill="#7f92d4"/>
<circle cx="50.93" cy="403.89" r="0.30" fill="#7f92d4"/>
<circle cx="52.65" cy="405.45" r="0.30" fill="#7f92d4"/>
<circle cx="51.02" cy="394.54" r="0.30" fill="#7f92d4"/>
<circle cx="52.11" cy="420.09" r="0.30" fill="#7f92d4"/>
<circle cx="57.39" cy="375.38" r="0.30" fill="#7f92d4"/>
<circle cx="63.13" cy="389.98" r="0.30" fill="#7f92d4"/>
<circle cx="48.71" cy="402.61" r="0.30" fill="#7f92d4"/>
<circle cx="54.04" cy="410.29" r="0.30" fill="#7f92d4"/>
<circle cx="55.16" cy="398.17" r="0.30" fill="#7f92d4"/>
<circle cx="58.58" cy="379.27" r="0.30" fill="#7f92d4"/>
<circle cx="46.41" cy="384.77" r="0.30" fill="#7f92d4"/>
<circle cx="56.37" cy="393.87" r="0.30" fill="#7f92d4"/>
<circle cx="55.07" cy="401.77" r="0.30" fill="#7f92d4"/>
<circle cx="49.44" cy="395.07" r="0.30" fill="#7f92d4"/>
<circle cx="50.15" cy="427.48" r="0.30" fill="#7f92d4"/>
<circle cx="63.96" cy="367.40" r="0.30" fill="#7f92d4"/>
<circle cx="50.57" cy="400.56" r="0.30" fill="#7f92d4"/>
<circle cx="52.95" cy="379.89" r="0.30" fill="#7f92d4"/>
<circle cx="63.60" cy="408.15" r="0.30" fill="#7f92d4"/>
<circle cx="60.08" cy="395.32" r="0.30" fill="#7f92d4"/>
<circle cx="56.91" cy="385.44" r="0.30" fill="#7f92d4"/>
<circle cx="53.26" cy="412.46" r="0.30" fill="#7f92d4"/>
<circle cx="59.24" cy="409.03" r="0.30" fill="#7f92d4"/>
<circle cx="62.35" cy="406.66" r="0.30" fill="#7f92d4"/>
<circle cx="57.52" cy="400.01" r="0.30" fill="#7f92d4"/>
<circle cx="64.10" cy="422.62" r="0.30" fill="#7f92d4"/>
<circle cx="55.89" cy="380.80" r="0.30" fill="#7f92d4"/>
<circle cx="52.62" cy="395.17" r="0.30" fill="#7f92d4"/>
<circle cx="48.00" cy="420.84" r="0.30" fill="#7f92d4"/>
<circle cx="49.17" cy="422.81" r="0.30" fill="#7f92d4"/>
<circle cx="52.99" cy="401.89" r="0.30" fill="#7f92d4"/>
<circle cx="53.34" cy="382.76" r="0.30" fill="#7f92d4"/>
<circle cx="50.74" cy="420.70" r="0.30" fill="#7f92d4"/>
<circle cx="54.89" cy="393.82" r="0.30" fill="#7f92d4"/>
<circle cx="47.02" cy="423.60" r="0.30" fill="#7f92d4"/>
<circle cx="57.15" cy="409.89" r="0.30" fill="#7f92d4"/>
<circle cx="70.17" cy="386.50" r="0.30" fill="#7f92d4"/>
<circle cx="52.35" cy="415.43" r="0.30" fill="#7f92d4"/>
<circle cx="55.06" cy="385.12" r="0.30" fill="#7f92d4"/>
<circle cx="51.01" cy="411.98" r="0.30" fill="#7f92d4"/>
<circle cx="52.53" cy="416.96" r="0.30" fill="#7f92d4"/>
<circle cx="53.00" cy="417.22" r="0.30" fill="#7f92d4"/>
<circle cx="56.09" cy="407.53" r="0.30" fill="#7f92d4"/>
<circle cx="55.92" cy="396.86" r="0.30" fill="#7f92d4"/>
<circle cx="54.50" cy="402.38" r="0.30" fill="#7f92d4"/>
<circle cx="55.86" cy="376.18" r="0.30" fill="#7f92d4"/>
<circle cx="52.52" cy="402.73" r="0.30" fill="#7f92d4"/>
<circle cx="58.35" cy="398.53" r="0.30" fill="#7f92d4"/>
<circle cx="58.36" cy="411.43" r="0.30" fill="#7f92d4"/>
<circle cx="63.62" cy="413.66" r="0.30" fill="#7f92d4"/>
<circle cx="52.16" cy="404.50" r="0.30" fill="#7f92d4"/>
<circle cx="60.46" cy="420.90" r="0.30" fill="#7f92d4"/>
<circle cx="67.23" cy="415.38" r="0.30" fill="#7f92d4"/>
<circle cx="59.01" cy="420.52" r="0.30" fill="#7f92d4"/>
<circle cx="60.87" cy="400.61" r="0.30" fill="#7f92d4"/>
<circle cx="56.29" cy="406.05" r="0.30" fill="#7f92d4"/>
<circle cx="52.27" cy="398.61" r="0.30" fill="#7f92d4"/>
<circle cx="54.86" cy="415.50" r="0.30" fill="#7f92d4"/>
<circle cx="49.94" cy="401.29" r="0.30" fill="#7f92d4"/>
<circle cx="48.56" cy="414.95" r="0.30" fill="#7f92d4"/>
<circle cx="57.11" cy="426.67" r="0.30" fill="#7f92d4"/>
<circle cx="49.07" cy="408.08" r="0.30" fill="#7f92d4"/>
<circle cx="62.87" cy="396.05" r="0.30" fill="#7f92d4"/>
<circle cx="64.53" cy="406.39" r="0.30" fill="#7f92d4"/>
<circle cx="54.83" cy="390.73" r="0.30" fill="#7f92d4"/>
<circle cx="59.48" cy="410.33" r="0.30" fill="#7f92d4"/>
<circle cx="49.83" cy="431.83" r="0.30" fill="#7f92d4"/>
<circle cx="64.83" cy="385.13" r="0.30" fill="#7f92d4"/>
<circle cx="63.95" cy="392.53" r="0.30" fill="#7f92d4"/>
<circle cx="73.73" cy="407.41" r="0.30" fill="#7f92d4"/>
<circle cx="47.76" cy="409.04" r="0.30" fill="#7f92d4"/>
<circle cx="58.42" cy="423.77" r="0.30" fill="#7f92d4"/>
<circle cx="58.08" cy="415.43" r="0.30" fill="#7f92d4"/>
<circle cx="62.12" cy="395.76" r="0.30" fill="#7f92d4"/>
<circle cx="68.92" cy="403.72" r="0.30" fill="#7f92d4"/>
<circle cx="58.91" cy="396.65" r="0.30" fill="#7f92d4"/>
<circle cx="56.07" cy="420.22" r="0.30" fill="#7f92d4"/>
<circle cx="71.94" cy="386.14" r="0.30" fill="#7f92d4"/>
<circle cx="65.32" cy="370.95" r="0.30" fill="#7f92d4"/>
<circle cx="57.72" cy="410.18" r="0.30" fill="#7f92d4"/>
<circle cx="63.52" cy="431.37" r="0.30" fill="#7f92d4"/>
<circle cx="65.78" cy="403.67" r="0.30" fill="#7f92d4"/>
<circle cx="51.59" cy="393.06" r="0.30" fill="#7f92d4"/>
<circle cx="51.80" cy="378.22" r="0.30" fill="#7f92d4"/>
<circle cx="56.09" cy="396.43" r="0.30" fill="#7f92d4"/>
<circle cx="57.63" cy="390.02" r="0.30" fill="#7f92d4"/>
<circle cx="68.09" cy="386.94" r="0.30" fill="#7f92d4"/>
<circle cx="52.09" cy="417.96" r="0.30" fill="#7f92d4"/>
<circle cx="66.95" cy="413.69" r="0.30" fill="#7f92d4"/>
<circle cx="61.42" cy="414.99" r="0.30" fill="#7f92d4"/>
<circle cx="49.64" cy="425.53" r="0.30" fill="#7f92d4"/>
<circle cx="56.80" cy="417.35" r="0.30" fill="#7f92d4"/>
<circle cx="50.28" cy="414.23" r="0.30" fill="#7f92d4"/>
<circle cx="59.20" cy="426.50" r="0.30" fill="#7f92d4"/>
<circle cx="54.45" cy="424.75" r="0.30" fill="#7f92d4"/>
<circle cx="53.67" cy="411.01" r="0.30" fill="#7f92d4"/>
<circle cx="55.66" cy="420.84" r="0.30" fill="#7f92d4"/>
<circle cx="54.68" cy="404.92" r="0.30" fill="#7f92d4"/>
<circle cx="57.19" cy="377.33" r="0.30" fill="#7f92d4"/>
<circle cx="51.70" cy="378.60" r="0.30" fill="#7f92d4"/>
<circle cx="56.45" cy="422.64" r="0.30" fill="#7f92d4"/>
<circle cx="50.48" cy="397.16" r="0.30" fill="#7f92d4"/>
<circle cx="61.91" cy="389.38" r="0.30" fill="#7f92d4"/>
<circle cx="48.49" cy="405.79" r="0.30" fill="#7f92d4"/>
<circle cx="62.50" cy="404.53" r="0.30" fill="#7f92d4"/>
<circle cx="72.24" cy="423.81" r="0.30" fill="#7f92d4"/>
<circle cx="56.71" cy="390.87" r="0.30" fill="#7f92d4"/>
<circle cx="51.34" cy="392.81" r="0.30" fill="#7f92d4"/>
<circle cx="58.96" cy="410.71" r="0.30" fill="#7f92d4"/>
<circle cx="60.82" cy="385.99" r="0.30" fill="#7f92d4"/>
<circle cx="61.97" cy="402.93" r="0.30" fill="#7f92d4"/>
<circle cx="56.33" cy="395.31" r="0.30" fill="#7f92d4"/>
<circle cx="48.53" cy="414.90" r="0.30" fill="#7f92d4"/>
<circle cx="58.50" cy="387.28" r="0.30" fill="#7f92d4"/>
<circle cx="66.19" cy="388.25" r="0.30" fill="#7f92d4"/>
<circle cx="60.71" cy="414.74" r="0.30" fill="#7f92d4"/>
<circle cx="50.13" cy="385.84" r="0.30" fill="#7f92d4"/>
<circle cx="46.22" cy="408.59" r="0.30" fill="#7f92d4"/>
<circle cx="54.77" cy="416.60" r="0.30" fill="#7f92d4"/>
<circle cx="55.47" cy="416.13" r="0.30" fill="#7f92d4"/>
<circle cx="71.13" cy="408.25" r="0.30" fill="#7f92d4"/>
<circle cx="50.86" cy="411.85" r="0.30" fill="#7f92d4"/>
<circle cx="52.87" cy="408.23" r="0.30" fill="#7f92d4"/>
<circle cx="59.99" cy="384.85" r="0.30" fill="#7f92d4"/>
<circle cx="50.55" cy="413.49" r="0.30" fill="#7f92d4"/>
<circle cx="56.54" cy="411.68" r="0.30" fill="#7f92d4"/>
<circle cx="53.15" cy="414.01" r="0.30" fill="#7f92d4"/>
<circle cx="61.80" cy="393.00" r="0.30" fill="#7f92d4"/>
<circle cx="56.51" cy="389.44" r="0.30" fill="#7f92d4"/>
<circle cx="57.50" cy="400.24" r="0.30" fill="#7f92d4"/>
<circle cx="56.44" cy="412.91" r="0.30" fill="#7f92d4"/>
<circle cx="60.94" cy="412.85" r="0.30" fill="#7f92d4"/>
<circle cx="47.97" cy="407.44" r="0.30" fill="#7f92d4"/>
<circle cx="49.60" cy="420.69" r="0.30" fill="#7f92d4"/>
<circle cx="54.81" cy="405.67" r="0.30" fill="#7f92d4"/>
<circle cx="61.88" cy="380.77" r="0.30" fill="#7f92d4"/>
<circle cx="46.59" cy="417.97" r="0.30" fill="#7f92d4"/>
<circle cx="50.71" cy="376.84" r="0.30" fill="#7f92d4"/>
<circle cx="59.36" cy="422.68" r="0.30" fill="#7f92d4"/>
<circle cx="56.56" cy="387.64" r="0.30" fill="#7f92d4"/>
<circle cx="55.87" cy="425.84" r="0.30" fill="#7f92d4"/>
<circle cx="53.11" cy="380.86" r="0.30" fill="#7f92d4"/>
<circle cx="63.75" cy="421.16" r="0.30" fill="#7f92d4"/>
<circle cx="51.62" cy="412.66" r="0.30" fill="#7f92d4"/>
<circle cx="62.44" cy="406.10" r="0.30" fill="#7f92d4"/>
<circle cx="50.94" cy="397.77" r="0.30" fill="#7f92d4"/>
<circle cx="53.91" cy="425.62" r="0.30" fill="#7f92d4"/>
<circle cx="52.83" cy="410.50" r="0.30" fill="#7f92d4"/>
<circle cx="46.97" cy="412.19" r="0.30" fill="#7f92d4"/>
<circle cx="56.02" cy="413.93" r="0.30" fill="#7f92d4"/>
<circle cx="52.24" cy="413.55" r="0.30" fill="#7f92d4"/>
<circle cx="56.28" cy="409.64" r="0.30" fill="#7f92d4"/>
<circle cx="54.56" cy="412.66" r="0.30" fill="#7f92d4"/>
<circle cx="60.23" cy="417.88" r="0.30" fill="#7f92d4"/>
<circle cx="62.66" cy="385.94" r="0.30" fill="#7f92d4"/>
<circle cx="58.54" cy="419.45" r="0.30" fill="#7f92d4"/>
<circle cx="48.59" cy="411.82" r="0.30" fill="#7f92d4"/>
<circle cx="48.52" cy="377.21" r="0.30" fill="#7f92d4"/>
<circle cx="61.40" cy="384.50" r="0.30" fill="#7f92d4"/>
<circle cx="50.04" cy="372.77" r="0.30" fill="#7f92d4"/>
<circle cx="54.14" cy="420.73" r="0.30" fill="#7f92d4"/>
<circle cx="60.88" cy="398.04" r="0.30" fill="#7f92d4"/>
<circle cx="92.55" cy="405.89" r="0.36" fill="#5a6fc0"/>
<circle cx="87.61" cy="406.87" r="0.36" fill="#8a9ad6"/>
<circle cx="94.04" cy="390.46" r="0.36" fill="#8a9ad6"/>
<circle cx="93.75" cy="381.48" r="0.36" fill="#6c80c8"/>
<circle cx="94.47" cy="423.81" r="0.36" fill="#5a6fc0"/>
<circle cx="89.85" cy="410.55" r="0.36" fill="#8a9ad6"/>
<circle cx="90.53" cy="395.54" r="0.36" fill="#8a9ad6"/>
<circle cx="89.60" cy="400.03" r="0.36" fill="#8a9ad6"/>
<circle cx="89.31" cy="393.71" r="0.36" fill="#5a6fc0"/>
<circle cx="90.69" cy="384.83" r="0.36" fill="#6c80c8"/>
<circle cx="86.17" cy="392.90" r="0.36" fill="#8a9ad6"/>
<circle cx="91.51" cy="400.41" r="0.36" fill="#8a9ad6"/>
<circle cx="90.05" cy="405.89" r="0.36" fill="#6c80c8"/>
<circle cx="85.01" cy="404.02" r="0.36" fill="#6c80c8"/>
<circle cx="88.43" cy="388.37" r="0.36" fill="#8a9ad6"/>
<circle cx="91.45" cy="413.60" r="0.36" fill="#5a6fc0"/>
<circle cx="90.12" cy="411.01" r="0.36" fill="#8a9ad6"/>
<circle cx="89.95" cy="422.80" r="0.36" fill="#6c80c8"/>
<circle cx="88.19" cy="426.02" r="0.36" fill="#6c80c8"/>
<circle cx="89.12" cy="430.24" r="0.36" fill="#8a9ad6"/>
<circle cx="89.61" cy="415.61" r="0.36" fill="#6c80c8"/>
<circle cx="89.53" cy="411.71" r="0.36" fill="#8a9ad6"/>
<circle cx="91.00" cy="403.79" r="0.36" fill="#6c80c8"/>
<circle cx="91.83" cy="393.64" r="0.36" fill="#5a6fc0"/>
<circle cx="90.40" cy="390.57" r="0.36" fill="#5a6fc0"/>
<circle cx="91.09" cy="417.77" r="0.36" fill="#6c80c8"/>
<circle cx="88.55" cy="408.46" r="0.36" fill="#5a6fc0"/>
<circle cx="91.99" cy="407.32" r="0.36" fill="#8a9ad6"/>
<circle cx="92.68" cy="387.28" r="0.36" fill="#8a9ad6"/>
<circle cx="88.63" cy="409.76" r="0.36" fill="#6c80c8"/>
<circle cx="91.34" cy="380.24" r="0.36" fill="#6c80c8"/>
<circle cx="91.76" cy="412.13" r="0.36" fill="#8a9ad6"/>
<circle cx="87.99" cy="411.81" r="0.36" fill="#8a9ad6"/>
<circle cx="92.29" cy="398.10" r="0.36" fill="#5a6fc0"/>
<circle cx="88.60" cy="398.08" r="0.36" fill="#6c80c8"/>
<circle cx="89.09" cy="402.76" r="0.36" fill="#6c80c8"/>
<circle cx="89.39" cy="399.36" r="0.36" fill="#5a6fc0"/>
<circle cx="90.88" cy="389.81" r="0.36" fill="#5a6fc0"/>
<circle cx="89.91" cy="423.52" r="0.36" fill="#6c80c8"/>
<circle cx="89.73" cy="392.31" r="0.36" fill="#5a6fc0"/>
<circle cx="94.93" cy="399.91" r="0.36" fill="#6c80c8"/>
<circle cx="94.12" cy="397.53" r="0.36" fill="#6c80c8"/>
<circle cx="90.18" cy="403.78" r="0.36" fill="#5a6fc0"/>
<circle cx="89.60" cy="392.91" r="0.36" fill="#6c80c8"/>
<circle cx="92.53" cy="403.62" r="0.36" fill="#8a9ad6"/>
<circle cx="90.41" cy="424.19" r="0.36" fill="#6c80c8"/>
<circle cx="89.20" cy="390.18" r="0.36" fill="#6c80c8"/>
<circle cx="92.39" cy="411.36" r="0.36" fill="#6c80c8"/>
<circle cx="92.33" cy="408.20" r="0.36" fill="#6c80c8"/>
<circle cx="87.97" cy="416.15" r="0.36" fill="#8a9ad6"/>
<circle cx="89.42" cy="405.02" r="0.36" fill="#6c80c8"/>
<circle cx="91.61" cy="393.82" r="0.36" fill="#8a9ad6"/>
<circle cx="93.34" cy="386.11" r="0.36" fill="#8a9ad6"/>
<circle cx="91.48" cy="410.41" r="0.36" fill="#6c80c8"/>
<circle cx="91.85" cy="388.89" r="0.36" fill="#8a9ad6"/>
<circle cx="88.68" cy="409.92" r="0.36" fill="#6c80c8"/>
<circle cx="90.14" cy="423.45" r="0.36" fill="#8a9ad6"/>
<circle cx="90.16" cy="411.45" r="0.36" fill="#8a9ad6"/>
<circle cx="88.37" cy="408.67" r="0.36" fill="#5a6fc0"/>
<circle cx="90.40" cy="406.32" r="0.36" fill="#5a6fc0"/>
<circle cx="89.71" cy="400.70" r="0.36" fill="#8a9ad6"/>
<circle cx="86.44" cy="407.74" r="0.36" fill="#5a6fc0"/>
<circle cx="88.76" cy="390.06" r="0.36" fill="#8a9ad6"/>
<circle cx="93.60" cy="401.15" r="0.36" fill="#5a6fc0"/>
<circle cx="90.87" cy="401.15" r="0.36" fill="#6c80c8"/>
<circle cx="89.43" cy="420.91" r="0.36" fill="#8a9ad6"/>
<circle cx="88.72" cy="390.43" r="0.36" fill="#5a6fc0"/>
<circle cx="90.67" cy="413.01" r="0.36" fill="#8a9ad6"/>
<circle cx="90.60" cy="390.42" r="0.36" fill="#8a9ad6"/>
<circle cx="88.67" cy="418.55" r="0.36" fill="#6c80c8"/>
<circle cx="91.23" cy="395.46" r="0.36" fill="#5a6fc0"/>
<circle cx="90.14" cy="419.14" r="0.36" fill="#6c80c8"/>
<circle cx="91.35" cy="396.99" r="0.36" fill="#6c80c8"/>
<circle cx="90.27" cy="392.27" r="0.36" fill="#5a6fc0"/>
<circle cx="87.24" cy="393.83" r="0.36" fill="#8a9ad6"/>
<circle cx="88.33" cy="413.28" r="0.36" fill="#8a9ad6"/>
<circle cx="89.89" cy="394.26" r="0.36" fill="#5a6fc0"/>
<circle cx="89.03" cy="400.02" r="0.36" fill="#8a9ad6"/>
<circle cx="89.48" cy="393.78" r="0.36" fill="#6c80c8"/>
<circle cx="91.33" cy="403.52" r="0.36" fill="#8a9ad6"/>
<circle cx="88.91" cy="419.80" r="0.36" fill="#6c80c8"/>
<circle cx="89.92" cy="418.07" r="0.36" fill="#8a9ad6"/>
<circle cx="91.92" cy="401.16" r="0.36" fill="#8a9ad6"/>
<circle cx="90.90" cy="391.63" r="0.36" fill="#5a6fc0"/>
<circle cx="89.46" cy="423.32" r="0.36" fill="#5a6fc0"/>
<circle cx="89.91" cy="399.53" r="0.36" fill="#6c80c8"/>
<circle cx="88.04" cy="407.33" r="0.36" fill="#5a6fc0"/>
<circle cx="86.03" cy="392.48" r="0.36" fill="#5a6fc0"/>
<circle cx="89.73" cy="405.47" r="0.36" fill="#6c80c8"/>
<circle cx="89.39" cy="420.04" r="0.36" fill="#8a9ad6"/>
<circle cx="89.43" cy="409.81" r="0.36" fill="#8a9ad6"/>
<circle cx="90.04" cy="414.25" r="0.36" fill="#8a9ad6"/>
<circle cx="87.94" cy="402.83" r="0.36" fill="#5a6fc0"/>
<circle cx="89.71" cy="398.79" r="0.36" fill="#5a6fc0"/>
<circle cx="87.77" cy="389.12" r="0.36" fill="#8a9ad6"/>
<circle cx="90.30" cy="410.89" r="0.36" fill="#6c80c8"/>
<circle cx="92.59" cy="395.65" r="0.36" fill="#6c80c8"/>
<circle cx="90.20" cy="395.40" r="0.36" fill="#5a6fc0"/>
<circle cx="92.65" cy="409.14" r="0.36" fill="#8a9ad6"/>
<circle cx="91.88" cy="384.22" r="0.36" fill="#6c80c8"/>
<circle cx="89.02" cy="396.64" r="0.36" fill="#5a6fc0"/>
<circle cx="88.27" cy="423.29" r="0.36" fill="#6c80c8"/>
<circle cx="91.97" cy="389.90" r="0.36" fill="#6c80c8"/>
<circle cx="87.05" cy="411.19" r="0.36" fill="#8a9ad6"/>
<circle cx="89.86" cy="416.80" r="0.36" fill="#5a6fc0"/>
<circle cx="90.52" cy="411.70" r="0.36" fill="#8a9ad6"/>
<circle cx="89.14" cy="418.39" r="0.36" fill="#5a6fc0"/>
<circle cx="91.24" cy="381.69" r="0.36" fill="#6c80c8"/>
<circle cx="92.28" cy="382.41" r="0.36" fill="#8a9ad6"/>
<circle cx="90.49" cy="391.59" r="0.36" fill="#8a9ad6"/>
<circle cx="89.94" cy="396.61" r="0.36" fill="#5a6fc0"/>
<circle cx="91.25" cy="398.33" r="0.36" fill="#5a6fc0"/>
<circle cx="92.36" cy="408.65" r="0.36" fill="#8a9ad6"/>
<circle cx="93.10" cy="408.95" r="0.36" fill="#6c80c8"/>
<circle cx="90.60" cy="387.48" r="0.36" fill="#8a9ad6"/>
<circle cx="91.96" cy="405.49" r="0.36" fill="#8a9ad6"/>
<circle cx="86.99" cy="429.37" r="0.36" fill="#8a9ad6"/>
<circle cx="88.46" cy="401.74" r="0.36" fill="#6c80c8"/>
<circle cx="86.69" cy="415.91" r="0.36" fill="#8a9ad6"/>
<circle cx="90.98" cy="411.86" r="0.36" fill="#8a9ad6"/>
<circle cx="91.94" cy="417.57" r="0.36" fill="#6c80c8"/>
<circle cx="88.76" cy="405.85" r="0.36" fill="#8a9ad6"/>
<circle cx="91.73" cy="405.07" r="0.36" fill="#6c80c8"/>
<circle cx="90.31" cy="413.14" r="0.36" fill="#5a6fc0"/>
<circle cx="92.10" cy="404.98" r="0.36" fill="#5a6fc0"/>
<circle cx="89.04" cy="399.24" r="0.36" fill="#6c80c8"/>
<circle cx="90.75" cy="408.22" r="0.36" fill="#8a9ad6"/>
<circle cx="88.66" cy="403.30" r="0.36" fill="#8a9ad6"/>
<circle cx="90.93" cy="392.65" r="0.36" fill="#8a9ad6"/>
<circle cx="88.34" cy="403.97" r="0.36" fill="#5a6fc0"/>
<circle cx="89.33" cy="410.58" r="0.36" fill="#5a6fc0"/>
<circle cx="87.99" cy="401.55" r="0.36" fill="#6c80c8"/>
<circle cx="89.95" cy="413.00" r="0.36" fill="#5a6fc0"/>
<circle cx="93.62" cy="407.90" r="0.36" fill="#8a9ad6"/>
<circle cx="88.08" cy="407.63" r="0.36" fill="#5a6fc0"/>
<circle cx="92.75" cy="388.63" r="0.36" fill="#8a9ad6"/>
<circle cx="88.52" cy="406.45" r="0.36" fill="#5a6fc0"/>
<circle cx="92.19" cy="410.99" r="0.36" fill="#6c80c8"/>
<circle cx="94.58" cy="380.85" r="0.36" fill="#6c80c8"/>
<circle cx="91.58" cy="407.73" r="0.36" fill="#5a6fc0"/>
<circle cx="88.10" cy="400.43" r="0.36" fill="#5a6fc0"/>
<circle cx="91.82" cy="406.20" r="0.36" fill="#5a6fc0"/>
<circle cx="91.05" cy="403.74" r="0.36" fill="#6c80c8"/>
<circle cx="91.37" cy="404.52" r="0.36" fill="#5a6fc0"/>
<circle cx="89.61" cy="386.11" r="0.36" fill="#5a6fc0"/>
<circle cx="86.14" cy="394.05" r="0.36" fill="#5a6fc0"/>
<circle cx="88.29" cy="396.47" r="0.36" fill="#6c80c8"/>
<circle cx="89.28" cy="400.64" r="0.36" fill="#5a6fc0"/>
<circle cx="90.25" cy="395.81" r="0.36" fill="#5a6fc0"/>
<circle cx="90.73" cy="415.71" r="0.36" fill="#8a9ad6"/>
<circle cx="92.50" cy="373.25" r="0.36" fill="#8a9ad6"/>
<circle cx="90.08" cy="402.86" r="0.36" fill="#8a9ad6"/>
<circle cx="89.57" cy="397.64" r="0.36" fill="#6c80c8"/>
<circle cx="90.37" cy="413.49" r="0.36" fill="#6c80c8"/>
<circle cx="92.65" cy="400.31" r="0.36" fill="#6c80c8"/>
<circle cx="91.50" cy="402.97" r="0.36" fill="#6c80c8"/>
<circle cx="91.50" cy="387.77" r="0.36" fill="#6c80c8"/>
<circle cx="90.77" cy="405.02" r="0.36" fill="#8a9ad6"/>
<circle cx="91.11" cy="409.71" r="0.36" fill="#6c80c8"/>
<circle cx="90.06" cy="381.10" r="0.36" fill="#8a9ad6"/>
<circle cx="91.92" cy="401.48" r="0.36" fill="#5a6fc0"/>
<circle cx="92.84" cy="393.47" r="0.36" fill="#5a6fc0"/>
<circle cx="88.57" cy="392.59" r="0.36" fill="#8a9ad6"/>
<circle cx="92.65" cy="407.84" r="0.36" fill="#5a6fc0"/>
<circle cx="92.31" cy="392.91" r="0.36" fill="#5a6fc0"/>
<circle cx="90.03" cy="397.13" r="0.36" fill="#5a6fc0"/>
<circle cx="90.01" cy="401.57" r="0.36" fill="#8a9ad6"/>
<circle cx="89.53" cy="428.17" r="0.36" fill="#8a9ad6"/>
<circle cx="91.55" cy="408.17" r="0.36" fill="#8a9ad6"/>
<circle cx="90.43" cy="413.07" r="0.36" fill="#8a9ad6"/>
<circle cx="88.68" cy="374.75" r="0.36" fill="#8a9ad6"/>
<circle cx="88.60" cy="390.28" r="0.36" fill="#8a9ad6"/>
<circle cx="90.20" cy="405.19" r="0.36" fill="#5a6fc0"/>
<circle cx="88.43" cy="404.54" r="0.36" fill="#8a9ad6"/>
<circle cx="90.28" cy="409.48" r="0.36" fill="#5a6fc0"/>
<circle cx="92.12" cy="402.86" r="0.36" fill="#5a6fc0"/>
<circle cx="86.81" cy="420.86" r="0.36" fill="#8a9ad6"/>
<circle cx="91.33" cy="400.46" r="0.36" fill="#8a9ad6"/>
<circle cx="93.08" cy="405.15" r="0.36" fill="#8a9ad6"/>
<circle cx="89.01" cy="400.77" r="0.36" fill="#6c80c8"/>
<circle cx="89.74" cy="404.32" r="0.36" fill="#8a9ad6"/>
<circle cx="90.63" cy="401.84" r="0.36" fill="#6c80c8"/>
<circle cx="89.29" cy="409.25" r="0.36" fill="#5a6fc0"/>
<circle cx="88.00" cy="391.57" r="0.36" fill="#5a6fc0"/>
<circle cx="90.19" cy="400.47" r="0.36" fill="#6c80c8"/>
<circle cx="90.98" cy="409.24" r="0.36" fill="#6c80c8"/>
<circle cx="91.42" cy="399.04" r="0.36" fill="#8a9ad6"/>
<circle cx="89.71" cy="407.18" r="0.36" fill="#6c80c8"/>
<circle cx="91.42" cy="411.71" r="0.36" fill="#6c80c8"/>
<circle cx="89.15" cy="399.63" r="0.36" fill="#6c80c8"/>
<circle cx="90.64" cy="409.00" r="0.36" fill="#6c80c8"/>
<circle cx="92.37" cy="409.97" r="0.36" fill="#6c80c8"/>
<circle cx="91.45" cy="415.88" r="0.36" fill="#5a6fc0"/>
<circle cx="88.74" cy="409.76" r="0.36" fill="#8a9ad6"/>
<circle cx="88.42" cy="403.46" r="0.36" fill="#5a6fc0"/>
<circle cx="93.69" cy="407.50" r="0.36" fill="#6c80c8"/>
<circle cx="87.34" cy="413.04" r="0.36" fill="#5a6fc0"/>
<circle cx="89.92" cy="412.75" r="0.36" fill="#8a9ad6"/>
<circle cx="91.56" cy="411.98" r="0.36" fill="#8a9ad6"/>
<circle cx="93.48" cy="387.04" r="0.36" fill="#6c80c8"/>
<circle cx="90.76" cy="402.27" r="0.36" fill="#5a6fc0"/>
<circle cx="89.89" cy="411.88" r="0.36" fill="#6c80c8"/>
<circle cx="88.95" cy="380.23" r="0.36" fill="#6c80c8"/>
<circle cx="87.66" cy="388.13" r="0.36" fill="#5a6fc0"/>
<circle cx="90.39" cy="398.65" r="0.36" fill="#6c80c8"/>
<circle cx="90.07" cy="381.99" r="0.36" fill="#5a6fc0"/>
<circle cx="87.90" cy="395.09" r="0.36" fill="#8a9ad6"/>
<circle cx="92.30" cy="395.37" r="0.36" fill="#5a6fc0"/>
<circle cx="93.93" cy="403.87" r="0.36" fill="#8a9ad6"/>
<circle cx="90.00" cy="418.22" r="0.36" fill="#5a6fc0"/>
<circle cx="88.29" cy="412.06" r="0.36" fill="#6c80c8"/>
<circle cx="90.77" cy="388.17" r="0.36" fill="#5a6fc0"/>
<circle cx="89.24" cy="397.55" r="0.36" fill="#5a6fc0"/>
<circle cx="92.11" cy="400.97" r="0.36" fill="#5a6fc0"/>
<circle cx="86.75" cy="411.03" r="0.36" fill="#6c80c8"/>
<circle cx="90.16" cy="414.46" r="0.36" fill="#8a9ad6"/>
<circle cx="88.43" cy="395.53" r="0.36" fill="#5a6fc0"/>
<circle cx="91.07" cy="417.31" r="0.36" fill="#5a6fc0"/>
<circle cx="90.20" cy="398.59" r="0.36" fill="#8a9ad6"/>
<circle cx="91.99" cy="404.12" r="0.36" fill="#5a6fc0"/>
<circle cx="88.08" cy="406.52" r="0.36" fill="#6c80c8"/>
<circle cx="93.06" cy="410.96" r="0.36" fill="#6c80c8"/>
<circle cx="90.68" cy="397.47" r="0.36" fill="#5a6fc0"/>
<circle cx="93.06" cy="383.83" r="0.36" fill="#5a6fc0"/>
<circle cx="90.02" cy="418.04" r="0.36" fill="#6c80c8"/>
<circle cx="89.10" cy="420.71" r="0.36" fill="#5a6fc0"/>
<circle cx="87.74" cy="400.35" r="0.36" fill="#8a9ad6"/>
<circle cx="91.55" cy="402.46" r="0.36" fill="#8a9ad6"/>
<circle cx="87.95" cy="394.25" r="0.36" fill="#5a6fc0"/>
<circle cx="89.26" cy="407.60" r="0.36" fill="#8a9ad6"/>
<circle cx="91.27" cy="419.47" r="0.36" fill="#5a6fc0"/>
<circle cx="90.95" cy="403.24" r="0.36" fill="#6c80c8"/>
<circle cx="91.25" cy="401.55" r="0.36" fill="#8a9ad6"/>
<circle cx="91.60" cy="389.10" r="0.36" fill="#8a9ad6"/>
<circle cx="86.82" cy="409.76" r="0.36" fill="#6c80c8"/>
<circle cx="92.87" cy="409.61" r="0.36" fill="#5a6fc0"/>
<circle cx="90.36" cy="406.68" r="0.36" fill="#6c80c8"/>
<circle cx="90.98" cy="398.81" r="0.36" fill="#5a6fc0"/>
<circle cx="92.09" cy="414.78" r="0.36" fill="#5a6fc0"/>
<circle cx="96.74" cy="382.44" r="0.25" fill="#aab6e4"/>
<circle cx="85.99" cy="382.40" r="0.25" fill="#aab6e4"/>
<circle cx="77.05" cy="389.88" r="0.25" fill="#aab6e4"/>
<circle cx="69.63" cy="373.51" r="0.25" fill="#aab6e4"/>
<circle cx="81.58" cy="381.15" r="0.25" fill="#aab6e4"/>
<circle cx="77.76" cy="380.01" r="0.25" fill="#aab6e4"/>
<circle cx="76.97" cy="377.92" r="0.25" fill="#aab6e4"/>
<circle cx="77.66" cy="395.86" r="0.25" fill="#aab6e4"/>
<circle cx="79.28" cy="397.48" r="0.25" fill="#aab6e4"/>
<circle cx="66.27" cy="379.45" r="0.25" fill="#aab6e4"/>
<circle cx="81.56" cy="382.06" r="0.25" fill="#aab6e4"/>
<circle cx="74.61" cy="374.71" r="0.25" fill="#aab6e4"/>
<circle cx="98.36" cy="392.41" r="0.25" fill="#aab6e4"/>
<circle cx="62.95" cy="389.04" r="0.25" fill="#aab6e4"/>
<circle cx="76.80" cy="379.83" r="0.25" fill="#aab6e4"/>
<circle cx="98.43" cy="391.19" r="0.25" fill="#aab6e4"/>
<circle cx="97.18" cy="391.10" r="0.25" fill="#aab6e4"/>
<circle cx="94.19" cy="374.26" r="0.25" fill="#aab6e4"/>
<circle cx="64.71" cy="391.64" r="0.25" fill="#aab6e4"/>
<circle cx="81.34" cy="398.94" r="0.25" fill="#aab6e4"/>
<circle cx="98.13" cy="384.43" r="0.25" fill="#aab6e4"/>
<circle cx="82.75" cy="374.75" r="0.25" fill="#aab6e4"/>
<circle cx="69.21" cy="376.15" r="0.25" fill="#aab6e4"/>
<circle cx="85.99" cy="380.70" r="0.25" fill="#aab6e4"/>
<circle cx="75.35" cy="397.53" r="0.25" fill="#aab6e4"/>
<circle cx="89.14" cy="372.09" r="0.25" fill="#aab6e4"/>
<circle cx="66.75" cy="375.98" r="0.25" fill="#aab6e4"/>
<circle cx="66.49" cy="375.17" r="0.25" fill="#aab6e4"/>
<circle cx="95.08" cy="392.54" r="0.25" fill="#aab6e4"/>
<circle cx="82.66" cy="376.33" r="0.25" fill="#aab6e4"/>
<circle cx="73.31" cy="377.13" r="0.25" fill="#aab6e4"/>
<circle cx="99.24" cy="379.88" r="0.25" fill="#aab6e4"/>
<circle cx="61.94" cy="391.74" r="0.25" fill="#aab6e4"/>
<circle cx="76.99" cy="374.10" r="0.25" fill="#aab6e4"/>
<circle cx="82.11" cy="399.32" r="0.25" fill="#aab6e4"/>
<circle cx="73.29" cy="383.25" r="0.25" fill="#aab6e4"/>
<circle cx="96.82" cy="393.38" r="0.25" fill="#aab6e4"/>
<circle cx="93.14" cy="397.51" r="0.25" fill="#aab6e4"/>
<circle cx="67.14" cy="385.85" r="0.25" fill="#aab6e4"/>
<circle cx="72.27" cy="383.70" r="0.25" fill="#aab6e4"/>
<g filter="url(#rough)">
<ellipse cx="54.50" cy="401.00" rx="10.50" ry="24.00" fill="url(#gHaze)"/>
<ellipse cx="54.50" cy="390.00" rx="9.20" ry="9.60" fill="url(#gBlue2)" opacity="0.62"/>
<ellipse cx="54.50" cy="412.00" rx="9.60" ry="13.50" fill="url(#gBlue2)" opacity="0.62"/>
<ellipse cx="54.50" cy="390.00" rx="5.00" ry="5.80" fill="url(#gBlue)" opacity="0.7"/>
<ellipse cx="54.50" cy="412.00" rx="5.20" ry="8.20" fill="url(#gBlue)" opacity="0.7"/>
<ellipse cx="54.50" cy="389.80" rx="2.70" ry="3.20" fill="url(#gGreenCore)"/>
<ellipse cx="54.50" cy="411.60" rx="2.90" ry="4.60" fill="url(#gGreenCore)"/>
</g>
<ellipse cx="90.30" cy="401.00" rx="2.60" ry="12.00" fill="url(#gHaze)"/>
</g>
<path d="M45.40 357.40H121.40V432.10" fill="none" stroke="#c6c6c6" stroke-width="0.7"/>
<line x1="45.40" y1="432.10" x2="121.40" y2="432.10" stroke="#a4a4a4" stroke-width="0.7"/>
<line x1="45.40" y1="357.40" x2="45.40" y2="432.10" stroke="#8a8a8a" stroke-width="0.7"/>
<line x1="43.80" y1="364.30" x2="45.70" y2="364.30" stroke="#222" stroke-width="0.8"/>
<text x="0.00" y="2.11" font-size="5.9" text-anchor="end" fill="#2a2a2a" transform="translate(37.80 364.30) scale(0.92 1)" stroke="#2a2a2a" stroke-width="0.1">10</text>
<text x="38.30" y="363.50" font-size="3.9" fill="#2a2a2a" stroke="#2a2a2a" stroke-width="0.1">5</text>
<line x1="54.00" y1="431.90" x2="54.00" y2="433.60" stroke="#555" stroke-width="0.6"/>
<text x="0.00" y="2.11" font-size="5.9" text-anchor="end" fill="#2a2a2a" transform="translate(54.90 440.60) scale(0.92 1)" stroke="#2a2a2a" stroke-width="0.1">10</text>
<text x="55.40" y="439.80" font-size="3.9" fill="#2a2a2a" stroke="#2a2a2a" stroke-width="0.1">1</text>
<line x1="43.80" y1="379.30" x2="45.70" y2="379.30" stroke="#222" stroke-width="0.8"/>
<text x="0.00" y="2.11" font-size="5.9" text-anchor="end" fill="#2a2a2a" transform="translate(37.80 379.30) scale(0.92 1)" stroke="#2a2a2a" stroke-width="0.1">10</text>
<text x="38.30" y="378.50" font-size="3.9" fill="#2a2a2a" stroke="#2a2a2a" stroke-width="0.1">4</text>
<line x1="69.00" y1="431.90" x2="69.00" y2="433.60" stroke="#555" stroke-width="0.6"/>
<text x="0.00" y="2.11" font-size="5.9" text-anchor="end" fill="#2a2a2a" transform="translate(69.90 440.60) scale(0.92 1)" stroke="#2a2a2a" stroke-width="0.1">10</text>
<text x="70.40" y="439.80" font-size="3.9" fill="#2a2a2a" stroke="#2a2a2a" stroke-width="0.1">2</text>
<line x1="43.80" y1="394.30" x2="45.70" y2="394.30" stroke="#222" stroke-width="0.8"/>
<text x="0.00" y="2.11" font-size="5.9" text-anchor="end" fill="#2a2a2a" transform="translate(37.80 394.30) scale(0.92 1)" stroke="#2a2a2a" stroke-width="0.1">10</text>
<text x="38.30" y="393.50" font-size="3.9" fill="#2a2a2a" stroke="#2a2a2a" stroke-width="0.1">3</text>
<line x1="84.00" y1="431.90" x2="84.00" y2="433.60" stroke="#555" stroke-width="0.6"/>
<text x="0.00" y="2.11" font-size="5.9" text-anchor="end" fill="#2a2a2a" transform="translate(84.90 440.60) scale(0.92 1)" stroke="#2a2a2a" stroke-width="0.1">10</text>
<text x="85.40" y="439.80" font-size="3.9" fill="#2a2a2a" stroke="#2a2a2a" stroke-width="0.1">3</text>
<line x1="43.80" y1="409.30" x2="45.70" y2="409.30" stroke="#222" stroke-width="0.8"/>
<text x="0.00" y="2.11" font-size="5.9" text-anchor="end" fill="#2a2a2a" transform="translate(37.80 409.30) scale(0.92 1)" stroke="#2a2a2a" stroke-width="0.1">10</text>
<text x="38.30" y="408.50" font-size="3.9" fill="#2a2a2a" stroke="#2a2a2a" stroke-width="0.1">2</text>
<line x1="99.00" y1="431.90" x2="99.00" y2="433.60" stroke="#555" stroke-width="0.6"/>
<text x="0.00" y="2.11" font-size="5.9" text-anchor="end" fill="#2a2a2a" transform="translate(99.90 440.60) scale(0.92 1)" stroke="#2a2a2a" stroke-width="0.1">10</text>
<text x="100.40" y="439.80" font-size="3.9" fill="#2a2a2a" stroke="#2a2a2a" stroke-width="0.1">4</text>
<line x1="43.80" y1="424.30" x2="45.70" y2="424.30" stroke="#222" stroke-width="0.8"/>
<text x="0.00" y="2.11" font-size="5.9" text-anchor="end" fill="#2a2a2a" transform="translate(37.80 424.30) scale(0.92 1)" stroke="#2a2a2a" stroke-width="0.1">10</text>
<text x="38.30" y="423.50" font-size="3.9" fill="#2a2a2a" stroke="#2a2a2a" stroke-width="0.1">1</text>
<line x1="114.00" y1="431.90" x2="114.00" y2="433.60" stroke="#555" stroke-width="0.6"/>
<text x="0.00" y="2.11" font-size="5.9" text-anchor="end" fill="#2a2a2a" transform="translate(114.90 440.60) scale(0.92 1)" stroke="#2a2a2a" stroke-width="0.1">10</text>
<text x="115.40" y="439.80" font-size="3.9" fill="#2a2a2a" stroke="#2a2a2a" stroke-width="0.1">5</text>
<line x1="44.70" y1="374.78" x2="45.40" y2="374.78" stroke="#777" stroke-width="0.35"/>
<line x1="44.70" y1="372.14" x2="45.40" y2="372.14" stroke="#777" stroke-width="0.35"/>
<line x1="44.70" y1="368.82" x2="45.40" y2="368.82" stroke="#777" stroke-width="0.35"/>
<line x1="49.48" y1="432.10" x2="49.48" y2="432.90" stroke="#888" stroke-width="0.35"/>
<line x1="44.70" y1="366.62" x2="45.40" y2="366.62" stroke="#777" stroke-width="0.35"/>
<line x1="51.68" y1="432.10" x2="51.68" y2="432.90" stroke="#888" stroke-width="0.35"/>
<line x1="44.70" y1="389.78" x2="45.40" y2="389.78" stroke="#777" stroke-width="0.35"/>
<line x1="58.52" y1="432.10" x2="58.52" y2="432.90" stroke="#888" stroke-width="0.35"/>
<line x1="44.70" y1="387.14" x2="45.40" y2="387.14" stroke="#777" stroke-width="0.35"/>
<line x1="61.16" y1="432.10" x2="61.16" y2="432.90" stroke="#888" stroke-width="0.35"/>
<line x1="44.70" y1="383.82" x2="45.40" y2="383.82" stroke="#777" stroke-width="0.35"/>
<line x1="64.48" y1="432.10" x2="64.48" y2="432.90" stroke="#888" stroke-width="0.35"/>
<line x1="44.70" y1="381.62" x2="45.40" y2="381.62" stroke="#777" stroke-width="0.35"/>
<line x1="66.68" y1="432.10" x2="66.68" y2="432.90" stroke="#888" stroke-width="0.35"/>
<line x1="44.70" y1="404.78" x2="45.40" y2="404.78" stroke="#777" stroke-width="0.35"/>
<line x1="73.52" y1="432.10" x2="73.52" y2="432.90" stroke="#888" stroke-width="0.35"/>
<line x1="44.70" y1="402.14" x2="45.40" y2="402.14" stroke="#777" stroke-width="0.35"/>
<line x1="76.16" y1="432.10" x2="76.16" y2="432.90" stroke="#888" stroke-width="0.35"/>
<line x1="44.70" y1="398.82" x2="45.40" y2="398.82" stroke="#777" stroke-width="0.35"/>
<line x1="79.48" y1="432.10" x2="79.48" y2="432.90" stroke="#888" stroke-width="0.35"/>
<line x1="44.70" y1="396.62" x2="45.40" y2="396.62" stroke="#777" stroke-width="0.35"/>
<line x1="81.68" y1="432.10" x2="81.68" y2="432.90" stroke="#888" stroke-width="0.35"/>
<line x1="44.70" y1="419.78" x2="45.40" y2="419.78" stroke="#777" stroke-width="0.35"/>
<line x1="88.52" y1="432.10" x2="88.52" y2="432.90" stroke="#888" stroke-width="0.35"/>
<line x1="44.70" y1="417.14" x2="45.40" y2="417.14" stroke="#777" stroke-width="0.35"/>
<line x1="91.16" y1="432.10" x2="91.16" y2="432.90" stroke="#888" stroke-width="0.35"/>
<line x1="44.70" y1="413.82" x2="45.40" y2="413.82" stroke="#777" stroke-width="0.35"/>
<line x1="94.48" y1="432.10" x2="94.48" y2="432.90" stroke="#888" stroke-width="0.35"/>
<line x1="44.70" y1="411.62" x2="45.40" y2="411.62" stroke="#777" stroke-width="0.35"/>
<line x1="96.68" y1="432.10" x2="96.68" y2="432.90" stroke="#888" stroke-width="0.35"/>
<line x1="103.52" y1="432.10" x2="103.52" y2="432.90" stroke="#888" stroke-width="0.35"/>
<line x1="106.16" y1="432.10" x2="106.16" y2="432.90" stroke="#888" stroke-width="0.35"/>
<line x1="44.70" y1="428.82" x2="45.40" y2="428.82" stroke="#777" stroke-width="0.35"/>
<line x1="109.48" y1="432.10" x2="109.48" y2="432.90" stroke="#888" stroke-width="0.35"/>
<line x1="44.70" y1="426.62" x2="45.40" y2="426.62" stroke="#777" stroke-width="0.35"/>
<line x1="111.68" y1="432.10" x2="111.68" y2="432.90" stroke="#888" stroke-width="0.35"/>
<rect x="77.60" y="361.80" width="25.40" height="34.40" fill="none" stroke="#4f9d4a" stroke-width="1.05"/>
<text x="89.80" y="368.24" font-size="5.7" text-anchor="middle" fill="#55a84e" stroke="#55a84e" stroke-width="0.1">MyP</text>
<rect x="83.30" y="403.80" width="19.70" height="28.20" fill="none" stroke="#cf2a3a" stroke-width="1.15"/>
<path d="M22.60 427.50V451.40H52.50" fill="none" stroke="#000" stroke-width="1.15"/>
<path d="M22.60 424.20l-2.4 5.4h4.8Z" fill="#000"/>
<path d="M55.80 451.40l-5.4 -2.4v4.8Z" fill="#000"/>
<text x="0.00" y="3.54" font-size="9.9" text-anchor="middle" font-weight="bold" fill="#111" transform="translate(22.00 402.50) rotate(-90) scale(0.545 1)">CD38-APC</text>
<text x="0.00" y="3.54" font-size="9.9" font-weight="bold" fill="#111" transform="translate(61.20 450.90) scale(0.545 1)">CD34-PE</text>
<circle cx="99.20" cy="423.80" r="1.30" fill="#8e0b20"/>
<line x1="104.00" y1="423.70" x2="135.60" y2="423.70" stroke="#dc5a70" stroke-width="0.75" stroke-dasharray="2.9 2.3"/>
<path d="M139.6 423.7l-4.2 -1.6v3.2Z" fill="#c8203a"/>
<g clip-path="url(#cp3)">
<circle cx="174.52" cy="398.54" r="0.30" fill="#7d8fd0"/>
<circle cx="187.06" cy="407.32" r="0.30" fill="#7d8fd0"/>
<circle cx="188.46" cy="402.72" r="0.30" fill="#7d8fd0"/>
<circle cx="183.19" cy="404.14" r="0.30" fill="#7d8fd0"/>
<circle cx="176.94" cy="406.94" r="0.30" fill="#7d8fd0"/>
<circle cx="174.09" cy="403.69" r="0.30" fill="#7d8fd0"/>
<circle cx="184.83" cy="406.37" r="0.30" fill="#7d8fd0"/>
<circle cx="178.74" cy="420.23" r="0.30" fill="#7d8fd0"/>
<circle cx="181.32" cy="402.19" r="0.30" fill="#7d8fd0"/>
<circle cx="181.88" cy="402.60" r="0.30" fill="#7d8fd0"/>
<circle cx="178.88" cy="403.72" r="0.30" fill="#7d8fd0"/>
<circle cx="192.14" cy="406.15" r="0.30" fill="#7d8fd0"/>
<circle cx="181.97" cy="410.38" r="0.30" fill="#7d8fd0"/>
<circle cx="192.09" cy="404.55" r="0.30" fill="#7d8fd0"/>
<circle cx="177.57" cy="422.09" r="0.30" fill="#7d8fd0"/>
<circle cx="172.97" cy="403.61" r="0.30" fill="#7d8fd0"/>
<circle cx="184.67" cy="420.84" r="0.30" fill="#7d8fd0"/>
<circle cx="184.64" cy="402.61" r="0.30" fill="#7d8fd0"/>
<circle cx="178.87" cy="409.00" r="0.30" fill="#7d8fd0"/>
<circle cx="182.23" cy="407.89" r="0.30" fill="#7d8fd0"/>
<circle cx="178.63" cy="414.38" r="0.30" fill="#7d8fd0"/>
<circle cx="189.28" cy="406.21" r="0.30" fill="#7d8fd0"/>
<circle cx="178.51" cy="410.77" r="0.30" fill="#7d8fd0"/>
<circle cx="183.63" cy="399.24" r="0.30" fill="#7d8fd0"/>
<circle cx="178.47" cy="412.82" r="0.30" fill="#7d8fd0"/>
<circle cx="180.47" cy="403.86" r="0.30" fill="#7d8fd0"/>
<circle cx="182.17" cy="405.78" r="0.30" fill="#7d8fd0"/>
<circle cx="180.99" cy="393.45" r="0.30" fill="#7d8fd0"/>
<circle cx="190.62" cy="407.30" r="0.30" fill="#7d8fd0"/>
<circle cx="176.18" cy="412.37" r="0.30" fill="#7d8fd0"/>
<circle cx="182.70" cy="406.11" r="0.30" fill="#7d8fd0"/>
<circle cx="186.76" cy="420.70" r="0.30" fill="#7d8fd0"/>
<circle cx="184.04" cy="416.30" r="0.30" fill="#7d8fd0"/>
<circle cx="192.87" cy="399.36" r="0.30" fill="#7d8fd0"/>
<circle cx="178.12" cy="411.05" r="0.30" fill="#7d8fd0"/>
<circle cx="171.61" cy="404.26" r="0.30" fill="#7d8fd0"/>
<circle cx="188.11" cy="412.78" r="0.30" fill="#7d8fd0"/>
<circle cx="184.19" cy="393.68" r="0.30" fill="#7d8fd0"/>
<circle cx="193.93" cy="409.58" r="0.30" fill="#7d8fd0"/>
<circle cx="185.22" cy="409.22" r="0.30" fill="#7d8fd0"/>
<circle cx="171.56" cy="396.67" r="0.30" fill="#7d8fd0"/>
<circle cx="174.31" cy="418.47" r="0.30" fill="#7d8fd0"/>
<circle cx="176.43" cy="404.43" r="0.30" fill="#7d8fd0"/>
<circle cx="179.60" cy="409.71" r="0.30" fill="#7d8fd0"/>
<circle cx="183.75" cy="407.74" r="0.30" fill="#7d8fd0"/>
<circle cx="181.92" cy="407.74" r="0.30" fill="#7d8fd0"/>
<circle cx="187.77" cy="405.33" r="0.30" fill="#7d8fd0"/>
<circle cx="177.64" cy="408.67" r="0.30" fill="#7d8fd0"/>
<circle cx="172.45" cy="399.23" r="0.30" fill="#7d8fd0"/>
<circle cx="175.47" cy="407.87" r="0.30" fill="#7d8fd0"/>
<circle cx="192.50" cy="410.96" r="0.30" fill="#7d8fd0"/>
<circle cx="187.28" cy="407.55" r="0.30" fill="#7d8fd0"/>
<circle cx="182.53" cy="403.08" r="0.30" fill="#7d8fd0"/>
<circle cx="174.39" cy="397.63" r="0.30" fill="#7d8fd0"/>
<circle cx="185.60" cy="410.31" r="0.30" fill="#7d8fd0"/>
<circle cx="187.28" cy="416.11" r="0.30" fill="#7d8fd0"/>
<circle cx="179.32" cy="412.86" r="0.30" fill="#7d8fd0"/>
<circle cx="191.76" cy="405.94" r="0.30" fill="#7d8fd0"/>
<circle cx="186.98" cy="404.93" r="0.30" fill="#7d8fd0"/>
<circle cx="172.13" cy="406.78" r="0.30" fill="#7d8fd0"/>
<circle cx="176.48" cy="406.71" r="0.30" fill="#7d8fd0"/>
<circle cx="178.45" cy="408.08" r="0.30" fill="#7d8fd0"/>
<circle cx="169.25" cy="419.55" r="0.30" fill="#7d8fd0"/>
<circle cx="188.48" cy="403.72" r="0.30" fill="#7d8fd0"/>
<circle cx="176.00" cy="406.03" r="0.30" fill="#7d8fd0"/>
<circle cx="184.72" cy="408.75" r="0.30" fill="#7d8fd0"/>
<circle cx="183.21" cy="393.20" r="0.30" fill="#7d8fd0"/>
<circle cx="174.78" cy="414.73" r="0.30" fill="#7d8fd0"/>
<circle cx="182.32" cy="396.11" r="0.30" fill="#7d8fd0"/>
<circle cx="176.22" cy="396.59" r="0.30" fill="#7d8fd0"/>
<circle cx="175.38" cy="413.68" r="0.30" fill="#7d8fd0"/>
<circle cx="179.78" cy="413.36" r="0.30" fill="#7d8fd0"/>
<circle cx="182.04" cy="396.12" r="0.30" fill="#7d8fd0"/>
<circle cx="177.39" cy="421.09" r="0.30" fill="#7d8fd0"/>
<circle cx="176.73" cy="399.08" r="0.30" fill="#7d8fd0"/>
<circle cx="187.90" cy="406.59" r="0.30" fill="#7d8fd0"/>
<circle cx="180.96" cy="415.70" r="0.30" fill="#7d8fd0"/>
<circle cx="171.14" cy="408.76" r="0.30" fill="#7d8fd0"/>
<circle cx="175.09" cy="396.71" r="0.30" fill="#7d8fd0"/>
<circle cx="176.44" cy="413.63" r="0.30" fill="#7d8fd0"/>
<circle cx="180.21" cy="393.84" r="0.30" fill="#7d8fd0"/>
<circle cx="174.78" cy="416.12" r="0.30" fill="#7d8fd0"/>
<circle cx="186.75" cy="398.76" r="0.30" fill="#7d8fd0"/>
<circle cx="194.62" cy="403.57" r="0.30" fill="#7d8fd0"/>
<circle cx="174.29" cy="405.09" r="0.30" fill="#7d8fd0"/>
<circle cx="186.26" cy="416.70" r="0.30" fill="#7d8fd0"/>
<circle cx="186.79" cy="403.16" r="0.30" fill="#7d8fd0"/>
<circle cx="177.84" cy="396.33" r="0.30" fill="#7d8fd0"/>
<circle cx="180.58" cy="402.04" r="0.30" fill="#7d8fd0"/>
<circle cx="182.38" cy="397.58" r="0.30" fill="#7d8fd0"/>
<circle cx="178.09" cy="400.14" r="0.30" fill="#7d8fd0"/>
<circle cx="174.23" cy="398.13" r="0.30" fill="#7d8fd0"/>
<circle cx="175.27" cy="398.14" r="0.30" fill="#7d8fd0"/>
<circle cx="184.20" cy="406.66" r="0.30" fill="#7d8fd0"/>
<circle cx="173.57" cy="409.41" r="0.30" fill="#7d8fd0"/>
<circle cx="182.62" cy="415.71" r="0.30" fill="#7d8fd0"/>
<circle cx="179.91" cy="404.61" r="0.30" fill="#7d8fd0"/>
<circle cx="177.12" cy="406.83" r="0.30" fill="#7d8fd0"/>
<circle cx="183.78" cy="407.16" r="0.30" fill="#7d8fd0"/>
<circle cx="179.57" cy="409.75" r="0.30" fill="#7d8fd0"/>
<circle cx="181.52" cy="407.64" r="0.30" fill="#7d8fd0"/>
<circle cx="175.75" cy="407.37" r="0.30" fill="#7d8fd0"/>
<circle cx="175.39" cy="400.39" r="0.30" fill="#7d8fd0"/>
<circle cx="181.91" cy="420.01" r="0.30" fill="#7d8fd0"/>
<circle cx="186.61" cy="406.03" r="0.30" fill="#7d8fd0"/>
<circle cx="179.99" cy="412.57" r="0.30" fill="#7d8fd0"/>
<circle cx="188.78" cy="414.11" r="0.30" fill="#7d8fd0"/>
<circle cx="179.95" cy="407.25" r="0.30" fill="#7d8fd0"/>
<circle cx="179.14" cy="404.10" r="0.30" fill="#7d8fd0"/>
<circle cx="176.19" cy="404.34" r="0.30" fill="#7d8fd0"/>
<circle cx="168.89" cy="398.03" r="0.30" fill="#7d8fd0"/>
<circle cx="183.39" cy="399.84" r="0.30" fill="#7d8fd0"/>
<circle cx="184.04" cy="397.40" r="0.30" fill="#7d8fd0"/>
<circle cx="178.92" cy="408.63" r="0.30" fill="#7d8fd0"/>
<circle cx="175.16" cy="401.25" r="0.30" fill="#7d8fd0"/>
<circle cx="194.91" cy="401.47" r="0.30" fill="#7d8fd0"/>
<circle cx="177.03" cy="402.19" r="0.30" fill="#7d8fd0"/>
<circle cx="181.19" cy="405.82" r="0.30" fill="#7d8fd0"/>
<circle cx="186.53" cy="411.27" r="0.30" fill="#7d8fd0"/>
<circle cx="178.73" cy="403.63" r="0.30" fill="#7d8fd0"/>
<circle cx="173.04" cy="396.05" r="0.30" fill="#7d8fd0"/>
<circle cx="176.84" cy="410.86" r="0.30" fill="#7d8fd0"/>
<circle cx="181.68" cy="411.34" r="0.30" fill="#7d8fd0"/>
<circle cx="186.30" cy="404.91" r="0.30" fill="#7d8fd0"/>
<circle cx="192.81" cy="402.52" r="0.30" fill="#7d8fd0"/>
<circle cx="177.48" cy="403.14" r="0.30" fill="#7d8fd0"/>
<circle cx="187.40" cy="405.09" r="0.30" fill="#7d8fd0"/>
<circle cx="176.84" cy="408.89" r="0.30" fill="#7d8fd0"/>
<circle cx="187.37" cy="405.25" r="0.30" fill="#7d8fd0"/>
<circle cx="179.58" cy="413.21" r="0.30" fill="#7d8fd0"/>
<circle cx="186.53" cy="412.28" r="0.30" fill="#7d8fd0"/>
<circle cx="176.70" cy="407.88" r="0.30" fill="#7d8fd0"/>
<circle cx="183.04" cy="394.07" r="0.30" fill="#7d8fd0"/>
<circle cx="187.76" cy="406.66" r="0.30" fill="#7d8fd0"/>
<circle cx="179.08" cy="421.04" r="0.30" fill="#7d8fd0"/>
<circle cx="181.82" cy="401.22" r="0.30" fill="#7d8fd0"/>
<circle cx="180.65" cy="409.75" r="0.30" fill="#7d8fd0"/>
<circle cx="185.57" cy="405.62" r="0.30" fill="#7d8fd0"/>
<circle cx="176.14" cy="401.37" r="0.30" fill="#7d8fd0"/>
<circle cx="176.41" cy="399.01" r="0.30" fill="#7d8fd0"/>
<circle cx="180.89" cy="402.74" r="0.30" fill="#7d8fd0"/>
<circle cx="181.30" cy="400.51" r="0.30" fill="#7d8fd0"/>
<circle cx="176.13" cy="404.77" r="0.30" fill="#7d8fd0"/>
<circle cx="179.04" cy="413.64" r="0.30" fill="#7d8fd0"/>
<circle cx="175.92" cy="407.37" r="0.30" fill="#7d8fd0"/>
<circle cx="180.81" cy="376.99" r="0.28" fill="#93a3dc"/>
<circle cx="184.34" cy="383.78" r="0.28" fill="#93a3dc"/>
<circle cx="171.36" cy="385.76" r="0.28" fill="#93a3dc"/>
<circle cx="185.31" cy="379.34" r="0.28" fill="#93a3dc"/>
<circle cx="188.78" cy="383.71" r="0.28" fill="#93a3dc"/>
<circle cx="175.71" cy="385.58" r="0.28" fill="#93a3dc"/>
<circle cx="179.35" cy="376.85" r="0.28" fill="#93a3dc"/>
<circle cx="171.15" cy="384.13" r="0.28" fill="#93a3dc"/>
<circle cx="177.62" cy="385.96" r="0.28" fill="#93a3dc"/>
<circle cx="182.78" cy="380.61" r="0.28" fill="#93a3dc"/>
<circle cx="178.56" cy="391.11" r="0.28" fill="#93a3dc"/>
<circle cx="188.83" cy="386.45" r="0.28" fill="#93a3dc"/>
<circle cx="179.37" cy="378.49" r="0.28" fill="#93a3dc"/>
<circle cx="179.22" cy="390.64" r="0.28" fill="#93a3dc"/>
<circle cx="183.11" cy="381.67" r="0.28" fill="#93a3dc"/>
<circle cx="175.37" cy="383.77" r="0.28" fill="#93a3dc"/>
<circle cx="176.97" cy="383.06" r="0.28" fill="#93a3dc"/>
<circle cx="184.40" cy="387.91" r="0.28" fill="#93a3dc"/>
<circle cx="181.64" cy="381.43" r="0.28" fill="#93a3dc"/>
<circle cx="182.04" cy="391.26" r="0.28" fill="#93a3dc"/>
<circle cx="182.72" cy="376.58" r="0.28" fill="#93a3dc"/>
<circle cx="188.11" cy="384.15" r="0.28" fill="#93a3dc"/>
<circle cx="196.95" cy="380.85" r="0.28" fill="#93a3dc"/>
<circle cx="180.57" cy="381.64" r="0.28" fill="#93a3dc"/>
<circle cx="182.73" cy="380.35" r="0.28" fill="#93a3dc"/>
<circle cx="174.24" cy="374.20" r="0.28" fill="#93a3dc"/>
<circle cx="180.43" cy="380.65" r="0.28" fill="#93a3dc"/>
<circle cx="178.34" cy="392.71" r="0.28" fill="#93a3dc"/>
<circle cx="184.64" cy="387.99" r="0.28" fill="#93a3dc"/>
<circle cx="178.71" cy="384.37" r="0.28" fill="#93a3dc"/>
<circle cx="180.03" cy="382.07" r="0.28" fill="#93a3dc"/>
<circle cx="184.42" cy="385.76" r="0.28" fill="#93a3dc"/>
<circle cx="182.39" cy="383.68" r="0.28" fill="#93a3dc"/>
<circle cx="174.40" cy="379.62" r="0.28" fill="#93a3dc"/>
<circle cx="182.75" cy="381.33" r="0.28" fill="#93a3dc"/>
<circle cx="177.44" cy="384.63" r="0.28" fill="#93a3dc"/>
<circle cx="176.78" cy="379.93" r="0.28" fill="#93a3dc"/>
<circle cx="185.04" cy="381.36" r="0.28" fill="#93a3dc"/>
<circle cx="187.53" cy="385.39" r="0.28" fill="#93a3dc"/>
<circle cx="184.70" cy="388.17" r="0.28" fill="#93a3dc"/>
<circle cx="217.20" cy="425.13" r="0.25" fill="#b7c1e8"/>
<circle cx="218.87" cy="415.87" r="0.25" fill="#b7c1e8"/>
<circle cx="208.95" cy="413.65" r="0.25" fill="#b7c1e8"/>
<circle cx="208.64" cy="420.02" r="0.25" fill="#b7c1e8"/>
<circle cx="217.58" cy="400.28" r="0.25" fill="#b7c1e8"/>
<circle cx="207.97" cy="407.88" r="0.25" fill="#b7c1e8"/>
<circle cx="225.05" cy="401.74" r="0.25" fill="#b7c1e8"/>
<circle cx="224.25" cy="416.96" r="0.25" fill="#b7c1e8"/>
<circle cx="202.90" cy="417.37" r="0.25" fill="#b7c1e8"/>
<circle cx="203.10" cy="399.99" r="0.25" fill="#b7c1e8"/>
<circle cx="220.20" cy="403.63" r="0.25" fill="#b7c1e8"/>
<circle cx="229.82" cy="411.37" r="0.25" fill="#b7c1e8"/>
<circle cx="210.99" cy="421.49" r="0.25" fill="#b7c1e8"/>
<circle cx="201.00" cy="419.20" r="0.25" fill="#b7c1e8"/>
<circle cx="201.82" cy="400.83" r="0.25" fill="#b7c1e8"/>
<circle cx="232.37" cy="417.80" r="0.25" fill="#b7c1e8"/>
<circle cx="207.58" cy="399.71" r="0.25" fill="#b7c1e8"/>
<circle cx="233.07" cy="417.28" r="0.25" fill="#b7c1e8"/>
<circle cx="227.90" cy="400.47" r="0.25" fill="#b7c1e8"/>
<circle cx="221.24" cy="407.34" r="0.25" fill="#b7c1e8"/>
<circle cx="207.99" cy="406.66" r="0.25" fill="#b7c1e8"/>
<circle cx="220.87" cy="407.16" r="0.25" fill="#b7c1e8"/>
<circle cx="213.12" cy="400.37" r="0.25" fill="#b7c1e8"/>
<circle cx="228.26" cy="416.73" r="0.25" fill="#b7c1e8"/>
<circle cx="227.35" cy="409.87" r="0.25" fill="#b7c1e8"/>
<circle cx="228.95" cy="412.56" r="0.25" fill="#b7c1e8"/>
</g>
<path d="M164.80 357.40H241.60V432.30" fill="none" stroke="#c6c6c6" stroke-width="0.7"/>
<line x1="164.80" y1="432.30" x2="241.60" y2="432.30" stroke="#a4a4a4" stroke-width="0.7"/>
<line x1="164.80" y1="357.40" x2="164.80" y2="432.30" stroke="#8a8a8a" stroke-width="0.7"/>
<line x1="163.20" y1="364.30" x2="165.10" y2="364.30" stroke="#222" stroke-width="0.8"/>
<text x="0.00" y="2.11" font-size="5.9" text-anchor="end" fill="#2a2a2a" transform="translate(157.20 364.30) scale(0.92 1)" stroke="#2a2a2a" stroke-width="0.1">10</text>
<text x="157.70" y="363.50" font-size="3.9" fill="#2a2a2a" stroke="#2a2a2a" stroke-width="0.1">5</text>
<line x1="173.30" y1="432.10" x2="173.30" y2="433.80" stroke="#555" stroke-width="0.6"/>
<text x="0.00" y="2.11" font-size="5.9" text-anchor="end" fill="#2a2a2a" transform="translate(174.20 440.80) scale(0.92 1)" stroke="#2a2a2a" stroke-width="0.1">10</text>
<text x="174.70" y="440.00" font-size="3.9" fill="#2a2a2a" stroke="#2a2a2a" stroke-width="0.1">1</text>
<line x1="163.20" y1="379.30" x2="165.10" y2="379.30" stroke="#222" stroke-width="0.8"/>
<text x="0.00" y="2.11" font-size="5.9" text-anchor="end" fill="#2a2a2a" transform="translate(157.20 379.30) scale(0.92 1)" stroke="#2a2a2a" stroke-width="0.1">10</text>
<text x="157.70" y="378.50" font-size="3.9" fill="#2a2a2a" stroke="#2a2a2a" stroke-width="0.1">4</text>
<line x1="188.30" y1="432.10" x2="188.30" y2="433.80" stroke="#555" stroke-width="0.6"/>
<text x="0.00" y="2.11" font-size="5.9" text-anchor="end" fill="#2a2a2a" transform="translate(189.20 440.80) scale(0.92 1)" stroke="#2a2a2a" stroke-width="0.1">10</text>
<text x="189.70" y="440.00" font-size="3.9" fill="#2a2a2a" stroke="#2a2a2a" stroke-width="0.1">2</text>
<line x1="163.20" y1="394.30" x2="165.10" y2="394.30" stroke="#222" stroke-width="0.8"/>
<text x="0.00" y="2.11" font-size="5.9" text-anchor="end" fill="#2a2a2a" transform="translate(157.20 394.30) scale(0.92 1)" stroke="#2a2a2a" stroke-width="0.1">10</text>
<text x="157.70" y="393.50" font-size="3.9" fill="#2a2a2a" stroke="#2a2a2a" stroke-width="0.1">3</text>
<line x1="203.30" y1="432.10" x2="203.30" y2="433.80" stroke="#555" stroke-width="0.6"/>
<text x="0.00" y="2.11" font-size="5.9" text-anchor="end" fill="#2a2a2a" transform="translate(204.20 440.80) scale(0.92 1)" stroke="#2a2a2a" stroke-width="0.1">10</text>
<text x="204.70" y="440.00" font-size="3.9" fill="#2a2a2a" stroke="#2a2a2a" stroke-width="0.1">3</text>
<line x1="163.20" y1="409.30" x2="165.10" y2="409.30" stroke="#222" stroke-width="0.8"/>
<text x="0.00" y="2.11" font-size="5.9" text-anchor="end" fill="#2a2a2a" transform="translate(157.20 409.30) scale(0.92 1)" stroke="#2a2a2a" stroke-width="0.1">10</text>
<text x="157.70" y="408.50" font-size="3.9" fill="#2a2a2a" stroke="#2a2a2a" stroke-width="0.1">2</text>
<line x1="218.30" y1="432.10" x2="218.30" y2="433.80" stroke="#555" stroke-width="0.6"/>
<text x="0.00" y="2.11" font-size="5.9" text-anchor="end" fill="#2a2a2a" transform="translate(219.20 440.80) scale(0.92 1)" stroke="#2a2a2a" stroke-width="0.1">10</text>
<text x="219.70" y="440.00" font-size="3.9" fill="#2a2a2a" stroke="#2a2a2a" stroke-width="0.1">4</text>
<line x1="163.20" y1="424.30" x2="165.10" y2="424.30" stroke="#222" stroke-width="0.8"/>
<text x="0.00" y="2.11" font-size="5.9" text-anchor="end" fill="#2a2a2a" transform="translate(157.20 424.30) scale(0.92 1)" stroke="#2a2a2a" stroke-width="0.1">10</text>
<text x="157.70" y="423.50" font-size="3.9" fill="#2a2a2a" stroke="#2a2a2a" stroke-width="0.1">1</text>
<line x1="233.30" y1="432.10" x2="233.30" y2="433.80" stroke="#555" stroke-width="0.6"/>
<text x="0.00" y="2.11" font-size="5.9" text-anchor="end" fill="#2a2a2a" transform="translate(234.20 440.80) scale(0.92 1)" stroke="#2a2a2a" stroke-width="0.1">10</text>
<text x="234.70" y="440.00" font-size="3.9" fill="#2a2a2a" stroke="#2a2a2a" stroke-width="0.1">5</text>
<line x1="164.10" y1="374.78" x2="164.80" y2="374.78" stroke="#777" stroke-width="0.35"/>
<line x1="164.10" y1="372.14" x2="164.80" y2="372.14" stroke="#777" stroke-width="0.35"/>
<line x1="164.10" y1="368.82" x2="164.80" y2="368.82" stroke="#777" stroke-width="0.35"/>
<line x1="168.78" y1="432.30" x2="168.78" y2="433.10" stroke="#888" stroke-width="0.35"/>
<line x1="164.10" y1="366.62" x2="164.80" y2="366.62" stroke="#777" stroke-width="0.35"/>
<line x1="170.98" y1="432.30" x2="170.98" y2="433.10" stroke="#888" stroke-width="0.35"/>
<line x1="164.10" y1="389.78" x2="164.80" y2="389.78" stroke="#777" stroke-width="0.35"/>
<line x1="177.82" y1="432.30" x2="177.82" y2="433.10" stroke="#888" stroke-width="0.35"/>
<line x1="164.10" y1="387.14" x2="164.80" y2="387.14" stroke="#777" stroke-width="0.35"/>
<line x1="180.46" y1="432.30" x2="180.46" y2="433.10" stroke="#888" stroke-width="0.35"/>
<line x1="164.10" y1="383.82" x2="164.80" y2="383.82" stroke="#777" stroke-width="0.35"/>
<line x1="183.78" y1="432.30" x2="183.78" y2="433.10" stroke="#888" stroke-width="0.35"/>
<line x1="164.10" y1="381.62" x2="164.80" y2="381.62" stroke="#777" stroke-width="0.35"/>
<line x1="185.98" y1="432.30" x2="185.98" y2="433.10" stroke="#888" stroke-width="0.35"/>
<line x1="164.10" y1="404.78" x2="164.80" y2="404.78" stroke="#777" stroke-width="0.35"/>
<line x1="192.82" y1="432.30" x2="192.82" y2="433.10" stroke="#888" stroke-width="0.35"/>
<line x1="164.10" y1="402.14" x2="164.80" y2="402.14" stroke="#777" stroke-width="0.35"/>
<line x1="195.46" y1="432.30" x2="195.46" y2="433.10" stroke="#888" stroke-width="0.35"/>
<line x1="164.10" y1="398.82" x2="164.80" y2="398.82" stroke="#777" stroke-width="0.35"/>
<line x1="198.78" y1="432.30" x2="198.78" y2="433.10" stroke="#888" stroke-width="0.35"/>
<line x1="164.10" y1="396.62" x2="164.80" y2="396.62" stroke="#777" stroke-width="0.35"/>
<line x1="200.98" y1="432.30" x2="200.98" y2="433.10" stroke="#888" stroke-width="0.35"/>
<line x1="164.10" y1="419.78" x2="164.80" y2="419.78" stroke="#777" stroke-width="0.35"/>
<line x1="207.82" y1="432.30" x2="207.82" y2="433.10" stroke="#888" stroke-width="0.35"/>
<line x1="164.10" y1="417.14" x2="164.80" y2="417.14" stroke="#777" stroke-width="0.35"/>
<line x1="210.46" y1="432.30" x2="210.46" y2="433.10" stroke="#888" stroke-width="0.35"/>
<line x1="164.10" y1="413.82" x2="164.80" y2="413.82" stroke="#777" stroke-width="0.35"/>
<line x1="213.78" y1="432.30" x2="213.78" y2="433.10" stroke="#888" stroke-width="0.35"/>
<line x1="164.10" y1="411.62" x2="164.80" y2="411.62" stroke="#777" stroke-width="0.35"/>
<line x1="215.98" y1="432.30" x2="215.98" y2="433.10" stroke="#888" stroke-width="0.35"/>
<line x1="222.82" y1="432.30" x2="222.82" y2="433.10" stroke="#888" stroke-width="0.35"/>
<line x1="225.46" y1="432.30" x2="225.46" y2="433.10" stroke="#888" stroke-width="0.35"/>
<line x1="164.10" y1="428.82" x2="164.80" y2="428.82" stroke="#777" stroke-width="0.35"/>
<line x1="228.78" y1="432.30" x2="228.78" y2="433.10" stroke="#888" stroke-width="0.35"/>
<line x1="164.10" y1="426.62" x2="164.80" y2="426.62" stroke="#777" stroke-width="0.35"/>
<line x1="230.98" y1="432.30" x2="230.98" y2="433.10" stroke="#888" stroke-width="0.35"/>
<rect x="167.60" y="358.90" width="29.80" height="32.90" fill="none" stroke="#e79a3c" stroke-width="1.05"/>
<text x="182.40" y="365.31" font-size="5.9" text-anchor="middle" fill="#e89c45" stroke="#e89c45" stroke-width="0.1">HSC</text>
<rect x="167.60" y="394.60" width="28.20" height="35.40" fill="none" stroke="#6d6e70" stroke-width="1.05"/>
<text x="169.20" y="428.31" font-size="5.9" fill="#222" stroke="#222" stroke-width="0.1">MPP</text>
<rect x="198.80" y="394.90" width="36.60" height="35.10" fill="none" stroke="#cf1f7c" stroke-width="1.05"/>
<text x="233.80" y="426.01" font-size="5.9" text-anchor="end" fill="#d1307f" stroke="#d1307f" stroke-width="0.1">MLP</text>
<path d="M143.30 427.50V451.20H172.80" fill="none" stroke="#000" stroke-width="1.15"/>
<path d="M143.30 424.20l-2.4 5.4h4.8Z" fill="#000"/>
<path d="M176.10 451.20l-5.4 -2.4v4.8Z" fill="#000"/>
<text x="0.00" y="3.54" font-size="9.9" text-anchor="middle" font-weight="bold" fill="#111" transform="translate(142.70 402.50) rotate(-90) scale(0.545 1)">CD90-PEcy7</text>
<text x="0.00" y="3.54" font-size="9.9" font-weight="bold" fill="#111" transform="translate(181.20 450.70) scale(0.545 1)">CD45RA-BV421</text>
<line x1="100.30" y1="365.20" x2="175.00" y2="319.50" stroke="#a6192e" stroke-width="1.15"/>
<path d="M178.1 317.5l-5.2 0.8l2.2 3.6Z" fill="#a6192e"/>
<line x1="193.80" y1="360.80" x2="193.80" y2="332.00" stroke="#a6192e" stroke-width="1.15"/>
<path d="M193.80 328.0l-2.1 5.2h4.2Z" fill="#a6192e"/>
<line x1="221.60" y1="397.20" x2="221.60" y2="332.00" stroke="#a6192e" stroke-width="1.15"/>
<path d="M221.60 328.0l-2.1 5.2h4.2Z" fill="#a6192e"/>
<line x1="201.90" y1="279.40" x2="201.90" y2="266.00" stroke="#a6192e" stroke-width="1.15"/>
<path d="M201.9 261.6l-2.1 5.2h4.2Z" fill="#a6192e"/>
<text x="202.20" y="256.78" font-size="6.1" text-anchor="middle" fill="#231f20" stroke="#231f20" stroke-width="0.1">Sequence colonies</text>
<g id="plate">
<path d="M182.4 294.6L218.4 286.2L228.4 304.6L193.4 318.2Z" fill="#f2f2f2" stroke="#c9c9c9" stroke-width="0.5"/>
<path d="M182.2 294.4L193.2 318.4L194.6 319.4L183.6 294.2Z" fill="#858585"/>
<path d="M193.4 318.2L228.4 304.6L228.5 306.2L193.9 319.6Z" fill="#d5d5d5"/>
<rect x="186.00" y="294.20" width="11.60" height="8.80" rx="4.20" ry="3.57" fill="#dcdcdc" transform="rotate(-12 191.80 298.60)"/>
<rect x="185.90" y="293.40" width="11.60" height="8.80" rx="4.20" ry="3.57" fill="#ffffff" transform="rotate(-12 191.70 297.80)"/>
<rect x="197.90" y="291.60" width="11.60" height="8.80" rx="4.20" ry="3.57" fill="#dcdcdc" transform="rotate(-12 203.70 296.00)"/>
<rect x="197.80" y="290.80" width="11.60" height="8.80" rx="4.20" ry="3.57" fill="#ffffff" transform="rotate(-12 203.60 295.20)"/>
<rect x="209.20" y="289.00" width="11.60" height="8.80" rx="4.20" ry="3.57" fill="#dcdcdc" transform="rotate(-12 215.00 293.40)"/>
<rect x="209.10" y="288.20" width="11.60" height="8.80" rx="4.20" ry="3.57" fill="#ffffff" transform="rotate(-12 214.90 292.60)"/>
<rect x="192.20" y="305.00" width="11.60" height="8.80" rx="4.20" ry="3.57" fill="#dcdcdc" transform="rotate(-12 198.00 309.40)"/>
<rect x="192.10" y="304.20" width="11.60" height="8.80" rx="4.20" ry="3.57" fill="#ffffff" transform="rotate(-12 197.90 308.60)"/>
<rect x="203.70" y="301.30" width="11.60" height="8.80" rx="4.20" ry="3.57" fill="#dcdcdc" transform="rotate(-12 209.50 305.70)"/>
<rect x="203.60" y="300.50" width="11.60" height="8.80" rx="4.20" ry="3.57" fill="#ffffff" transform="rotate(-12 209.40 304.90)"/>
<rect x="215.10" y="298.40" width="11.60" height="8.80" rx="4.20" ry="3.57" fill="#dcdcdc" transform="rotate(-12 220.90 302.80)"/>
<rect x="215.00" y="297.60" width="11.60" height="8.80" rx="4.20" ry="3.57" fill="#ffffff" transform="rotate(-12 220.80 302.00)"/>
<rect x="185.80" y="292.00" width="11.20" height="8.40" rx="4.00" ry="3.40" fill="#cf5a1c" transform="rotate(-12 191.40 296.20)"/>
<rect x="185.80" y="291.50" width="11.20" height="8.20" rx="4.00" ry="3.40" fill="#eb6f2a" transform="rotate(-12 191.40 295.60)"/>
<ellipse cx="190.60" cy="294.80" rx="3.40" ry="2.20" fill="#f0864a" transform="rotate(-12 190.60 294.80)" opacity="0.55"/>
<rect x="197.70" y="289.40" width="11.20" height="8.40" rx="4.00" ry="3.40" fill="#cf5a1c" transform="rotate(-12 203.30 293.60)"/>
<rect x="197.70" y="288.90" width="11.20" height="8.20" rx="4.00" ry="3.40" fill="#eb6f2a" transform="rotate(-12 203.30 293.00)"/>
<ellipse cx="202.50" cy="292.20" rx="3.40" ry="2.20" fill="#f0864a" transform="rotate(-12 202.50 292.20)" opacity="0.55"/>
<rect x="209.00" y="286.80" width="11.20" height="8.40" rx="4.00" ry="3.40" fill="#cf5a1c" transform="rotate(-12 214.60 291.00)"/>
<rect x="209.00" y="286.30" width="11.20" height="8.20" rx="4.00" ry="3.40" fill="#eb6f2a" transform="rotate(-12 214.60 290.40)"/>
<ellipse cx="213.80" cy="289.60" rx="3.40" ry="2.20" fill="#f0864a" transform="rotate(-12 213.80 289.60)" opacity="0.55"/>
<rect x="192.00" y="302.80" width="11.20" height="8.40" rx="4.00" ry="3.40" fill="#cf5a1c" transform="rotate(-12 197.60 307.00)"/>
<rect x="192.00" y="302.30" width="11.20" height="8.20" rx="4.00" ry="3.40" fill="#eb6f2a" transform="rotate(-12 197.60 306.40)"/>
<ellipse cx="196.80" cy="305.60" rx="3.40" ry="2.20" fill="#f0864a" transform="rotate(-12 196.80 305.60)" opacity="0.55"/>
<rect x="203.50" y="299.10" width="11.20" height="8.40" rx="4.00" ry="3.40" fill="#cf5a1c" transform="rotate(-12 209.10 303.30)"/>
<rect x="203.50" y="298.60" width="11.20" height="8.20" rx="4.00" ry="3.40" fill="#eb6f2a" transform="rotate(-12 209.10 302.70)"/>
<ellipse cx="208.30" cy="301.90" rx="3.40" ry="2.20" fill="#f0864a" transform="rotate(-12 208.30 301.90)" opacity="0.55"/>
<rect x="214.90" y="296.20" width="11.20" height="8.40" rx="4.00" ry="3.40" fill="#cf5a1c" transform="rotate(-12 220.50 300.40)"/>
<rect x="214.90" y="295.70" width="11.20" height="8.20" rx="4.00" ry="3.40" fill="#eb6f2a" transform="rotate(-12 220.50 299.80)"/>
<ellipse cx="219.70" cy="299.00" rx="3.40" ry="2.20" fill="#f0864a" transform="rotate(-12 219.70 299.00)" opacity="0.55"/>
</g>
</g>
<g id="panelC">
<text x="0.00" y="4.30" font-size="12" font-weight="bold" fill="#000" transform="translate(255.80 237.20) scale(0.9 1)">C</text>
<rect x="348.60" y="265.10" width="21.00" height="10.82" fill="#a9c8ee"/>
<rect x="369.60" y="265.10" width="21.20" height="10.82" fill="#a9c8ee"/>
<rect x="390.80" y="265.10" width="21.70" height="10.82" fill="#a9c8ee"/>
<rect x="412.50" y="265.10" width="49.30" height="10.82" fill="#fdb913"/>
<rect x="348.60" y="275.92" width="21.00" height="10.82" fill="#a9c8ee"/>
<rect x="369.60" y="275.92" width="21.20" height="10.82" fill="#a9c8ee"/>
<rect x="390.80" y="275.92" width="21.70" height="10.82" fill="#a9c8ee"/>
<rect x="412.50" y="275.92" width="49.30" height="10.82" fill="#fdb913"/>
<rect x="348.60" y="286.74" width="21.00" height="10.82" fill="#a9c8ee"/>
<rect x="369.60" y="286.74" width="21.20" height="10.82" fill="#a9c8ee"/>
<rect x="390.80" y="286.74" width="21.70" height="10.82" fill="#a9c8ee"/>
<rect x="412.50" y="286.74" width="49.30" height="10.82" fill="#fdb913"/>
<rect x="348.60" y="297.55" width="21.00" height="10.82" fill="#a9c8ee"/>
<rect x="369.60" y="297.55" width="21.20" height="10.82" fill="#a9c8ee"/>
<rect x="390.80" y="297.55" width="21.70" height="10.82" fill="#a9c8ee"/>
<rect x="412.50" y="297.55" width="49.30" height="10.82" fill="#fdb913"/>
<rect x="348.60" y="308.37" width="21.00" height="10.82" fill="#a9c8ee"/>
<rect x="369.60" y="308.37" width="21.20" height="10.82" fill="#a9c8ee"/>
<rect x="390.80" y="308.37" width="21.70" height="10.82" fill="#a9c8ee"/>
<rect x="412.50" y="308.37" width="49.30" height="10.82" fill="#fdb913"/>
<rect x="348.60" y="319.19" width="21.00" height="10.82" fill="#a9c8ee"/>
<rect x="369.60" y="319.19" width="21.20" height="10.82" fill="#a9c8ee"/>
<rect x="390.80" y="319.19" width="21.70" height="10.82" fill="#a9c8ee"/>
<rect x="412.50" y="319.19" width="49.30" height="10.82" fill="#fdb913"/>
<rect x="348.60" y="330.01" width="21.00" height="10.82" fill="#fdb913"/>
<rect x="369.60" y="330.01" width="21.20" height="10.82" fill="#fdb913"/>
<rect x="390.80" y="330.01" width="21.70" height="10.82" fill="#fdb913"/>
<rect x="412.50" y="330.01" width="49.30" height="10.82" fill="#fdb913"/>
<rect x="348.60" y="340.82" width="21.00" height="10.82" fill="#a9c8ee"/>
<rect x="369.60" y="340.82" width="21.20" height="10.82" fill="#a9c8ee"/>
<rect x="390.80" y="340.82" width="21.70" height="10.82" fill="#a9c8ee"/>
<rect x="412.50" y="340.82" width="49.30" height="10.82" fill="#fdb913"/>
<rect x="348.60" y="351.64" width="21.00" height="10.82" fill="#fdb913"/>
<rect x="369.60" y="351.64" width="21.20" height="10.82" fill="#fdb913"/>
<rect x="390.80" y="351.64" width="21.70" height="10.82" fill="#a9c8ee"/>
<rect x="412.50" y="351.64" width="49.30" height="10.82" fill="#fdb913"/>
<rect x="348.60" y="362.46" width="21.00" height="10.82" fill="#a9c8ee"/>
<rect x="369.60" y="362.46" width="21.20" height="10.82" fill="#a9c8ee"/>
<rect x="390.80" y="362.46" width="21.70" height="10.82" fill="#a9c8ee"/>
<rect x="412.50" y="362.46" width="49.30" height="10.82" fill="#fdb913"/>
<rect x="348.60" y="373.28" width="21.00" height="10.82" fill="#a9c8ee"/>
<rect x="369.60" y="373.28" width="21.20" height="10.82" fill="#fdb913"/>
<rect x="390.80" y="373.28" width="21.70" height="10.82" fill="#a9c8ee"/>
<rect x="412.50" y="373.28" width="49.30" height="10.82" fill="#fdb913"/>
<rect x="348.60" y="384.09" width="21.00" height="10.82" fill="#a9c8ee"/>
<rect x="369.60" y="384.09" width="21.20" height="10.82" fill="#a9c8ee"/>
<rect x="390.80" y="384.09" width="21.70" height="10.82" fill="#a9c8ee"/>
<rect x="412.50" y="384.09" width="49.30" height="10.82" fill="#fdb913"/>
<rect x="348.60" y="394.91" width="21.00" height="10.82" fill="#fdb913"/>
<rect x="369.60" y="394.91" width="21.20" height="10.82" fill="#fdb913"/>
<rect x="390.80" y="394.91" width="21.70" height="10.82" fill="#a9c8ee"/>
<rect x="412.50" y="394.91" width="49.30" height="10.82" fill="#fdb913"/>
<rect x="348.60" y="405.73" width="21.00" height="10.82" fill="#fdb913"/>
<rect x="369.60" y="405.73" width="21.20" height="10.82" fill="#fdb913"/>
<rect x="390.80" y="405.73" width="21.70" height="10.82" fill="#a9c8ee"/>
<rect x="412.50" y="405.73" width="49.30" height="10.82" fill="#fdb913"/>
<rect x="348.60" y="416.55" width="21.00" height="10.82" fill="#a9c8ee"/>
<rect x="369.60" y="416.55" width="21.20" height="10.82" fill="#a9c8ee"/>
<rect x="390.80" y="416.55" width="21.70" height="10.82" fill="#a9c8ee"/>
<rect x="412.50" y="416.55" width="49.30" height="10.82" fill="#fdb913"/>
<rect x="348.60" y="427.36" width="21.00" height="10.82" fill="#a9c8ee"/>
<rect x="369.60" y="427.36" width="21.20" height="10.82" fill="#a9c8ee"/>
<rect x="390.80" y="427.36" width="21.70" height="10.82" fill="#a9c8ee"/>
<rect x="412.50" y="427.36" width="49.30" height="10.82" fill="#fdb913"/>
<rect x="348.60" y="438.18" width="21.00" height="10.82" fill="#a9c8ee"/>
<rect x="369.60" y="438.18" width="21.20" height="10.82" fill="#a9c8ee"/>
<rect x="390.80" y="438.18" width="21.70" height="10.82" fill="#a9c8ee"/>
<rect x="412.50" y="438.18" width="49.30" height="10.82" fill="#fdb913"/>
<path d="M266.30 247.80H461.80V449.00H266.30ZM299.30 247.80V449.00M348.60 247.80V449.00M369.60 247.80V449.00M390.80 247.80V449.00M412.50 247.80V449.00M266.30 265.10H461.80M299.30 275.92H461.80M299.30 286.74H461.80M299.30 297.55H461.80M266.30 308.37H461.80M299.30 319.19H461.80M266.30 330.01H461.80M299.30 340.82H461.80M266.30 351.64H461.80M299.30 362.46H461.80M299.30 373.28H461.80M299.30 384.09H461.80M266.30 394.91H461.80M299.30 405.73H461.80M299.30 416.55H461.80M299.30 427.36H461.80M299.30 438.18H461.80" fill="none" stroke="#231f20" stroke-width="1.05"/>
<text x="282.80" y="258.93" font-size="6.1" text-anchor="middle" fill="#231f20" stroke="#231f20" stroke-width="0.1">UPN</text>
<text x="324.25" y="258.93" font-size="6.1" text-anchor="middle" fill="#231f20" stroke="#231f20" stroke-width="0.1">Mutation</text>
<text x="359.10" y="258.93" font-size="6.1" text-anchor="middle" fill="#f0a04b" stroke="#f0a04b" stroke-width="0.1">HSC</text>
<text x="380.20" y="258.93" font-size="6.1" text-anchor="middle" fill="#a3369a" stroke="#a3369a" stroke-width="0.1">MLP</text>
<text x="401.65" y="258.93" font-size="6.1" text-anchor="middle" fill="#55b04a" stroke="#55b04a" stroke-width="0.1">MyP</text>
<text x="437.15" y="258.93" font-size="6.1" text-anchor="middle" fill="#231f20" stroke="#231f20" stroke-width="0.1">T-ALL (VAF)</text>
<text x="282.80" y="289.43" font-size="6.7" text-anchor="middle" fill="#231f20" stroke="#231f20" stroke-width="0.1">99-452</text>
<text x="282.80" y="321.89" font-size="6.7" text-anchor="middle" fill="#231f20" stroke="#231f20" stroke-width="0.1">01-670</text>
<text x="282.80" y="343.52" font-size="6.7" text-anchor="middle" fill="#231f20" stroke="#231f20" stroke-width="0.1">1229314</text>
<text x="282.80" y="375.98" font-size="6.7" text-anchor="middle" fill="#231f20" stroke="#231f20" stroke-width="0.1">04-315</text>
<text x="282.80" y="424.65" font-size="6.7" text-anchor="middle" fill="#231f20" stroke="#231f20" stroke-width="0.1">15-1671</text>
<text x="304.0" y="273.30" font-size="6.4" font-style="italic" fill="#231f20">FBXW7<tspan font-size="4.3" font-style="normal" dy="-2.6">R441Q</tspan></text>
<text x="437.15" y="273.03" font-size="6.2" text-anchor="middle" fill="#231f20" stroke="#231f20" stroke-width="0.1">49.1%</text>
<text x="304.0" y="284.12" font-size="6.4" font-style="italic" fill="#231f20">RUNX1<tspan font-size="4.3" font-style="normal" dy="-2.6">L56S</tspan></text>
<text x="437.15" y="283.85" font-size="6.2" text-anchor="middle" fill="#231f20" stroke="#231f20" stroke-width="0.1">46.2%</text>
<text x="304.0" y="294.94" font-size="6.4" font-style="italic" fill="#231f20">NOTCH1<tspan font-size="4.3" font-style="normal" dy="-2.6">L1678P</tspan></text>
<text x="437.15" y="294.66" font-size="6.2" text-anchor="middle" fill="#231f20" stroke="#231f20" stroke-width="0.1">46.1%</text>
<text x="304.0" y="305.75" font-size="6.4" font-style="italic" fill="#231f20">CBLC<tspan font-size="4.3" font-style="normal" dy="-2.6">P435S</tspan></text>
<text x="437.15" y="305.48" font-size="6.2" text-anchor="middle" fill="#231f20" stroke="#231f20" stroke-width="0.1">34.0%</text>
<text x="304.0" y="316.57" font-size="6.4" font-style="italic" fill="#231f20">NOTCH1<tspan font-size="4.3" font-style="normal" dy="-2.6">E2515X</tspan></text>
<text x="437.15" y="316.30" font-size="6.2" text-anchor="middle" fill="#231f20" stroke="#231f20" stroke-width="0.1">56.8%</text>
<text x="304.0" y="327.39" font-size="6.4" font-style="italic" fill="#231f20">NOTCH1<tspan font-size="4.3" font-style="normal" dy="-2.6">S1592T</tspan></text>
<text x="437.15" y="327.12" font-size="6.2" text-anchor="middle" fill="#231f20" stroke="#231f20" stroke-width="0.1">50.1%</text>
<text x="304.0" y="338.21" font-size="6.4" font-style="italic" fill="#231f20">ETV6<tspan font-size="4.3" font-style="normal" dy="-2.6"> L201P</tspan></text>
<text x="437.15" y="337.93" font-size="6.2" text-anchor="middle" fill="#231f20" stroke="#231f20" stroke-width="0.1">47.6%</text>
<text x="304.0" y="349.02" font-size="6.4" font-style="italic" fill="#231f20">NOTCH1<tspan font-size="4.3" font-style="normal" dy="-2.6">L1585P</tspan></text>
<text x="437.15" y="348.75" font-size="6.2" text-anchor="middle" fill="#231f20" stroke="#231f20" stroke-width="0.1">42.6%</text>
<text x="304.0" y="359.84" font-size="6.4" font-style="italic" fill="#231f20">DNMT3A<tspan font-size="4.3" font-style="normal" dy="-2.6">W860R</tspan></text>
<text x="437.15" y="359.57" font-size="6.2" text-anchor="middle" fill="#231f20" stroke="#231f20" stroke-width="0.1">96.3%</text>
<text x="304.0" y="370.66" font-size="6.4" font-style="italic" fill="#231f20">NRAS<tspan font-size="4.3" font-style="normal" dy="-2.6">G12D</tspan></text>
<text x="437.15" y="370.39" font-size="6.2" text-anchor="middle" fill="#231f20" stroke="#231f20" stroke-width="0.1">47.1%</text>
<text x="304.0" y="381.48" font-size="6.4" font-style="italic" fill="#231f20">IDH2<tspan font-size="4.3" font-style="normal" dy="-2.6">R140Q</tspan></text>
<text x="437.15" y="381.20" font-size="6.2" text-anchor="middle" fill="#231f20" stroke="#231f20" stroke-width="0.1">42.7%</text>
<text x="304.0" y="392.29" font-size="6.4" font-style="italic" fill="#231f20">NOTCH1<tspan font-size="4.3" font-style="normal" dy="-2.6">L1678P</tspan></text>
<text x="437.15" y="392.02" font-size="6.2" text-anchor="middle" fill="#231f20" stroke="#231f20" stroke-width="0.1">31.9%</text>
<text x="304.0" y="403.11" font-size="6.4" font-style="italic" fill="#231f20">TET2<tspan font-size="4.3" font-style="normal" dy="-2.6">Q548X</tspan></text>
<text x="437.15" y="402.84" font-size="6.2" text-anchor="middle" fill="#231f20" stroke="#231f20" stroke-width="0.1">50.1%</text>
<text x="304.0" y="413.93" font-size="6.4" font-style="italic" fill="#231f20">DNMT3A<tspan font-size="4.3" font-style="normal" dy="-2.6">E733fs</tspan></text>
<text x="437.15" y="413.66" font-size="6.2" text-anchor="middle" fill="#231f20" stroke="#231f20" stroke-width="0.1">49.4%</text>
<text x="304.0" y="424.75" font-size="6.4" font-style="italic" fill="#231f20">ETV6<tspan font-size="4.3" font-style="normal" dy="-2.6">A377V</tspan></text>
<text x="437.15" y="424.48" font-size="6.2" text-anchor="middle" fill="#231f20" stroke="#231f20" stroke-width="0.1">47.5%</text>
<text x="304.0" y="435.56" font-size="6.4" font-style="italic" fill="#231f20">NOTCH1<tspan font-size="4.3" font-style="normal" dy="-2.6">P1581fs</tspan></text>
<text x="437.15" y="435.29" font-size="6.2" text-anchor="middle" fill="#231f20" stroke="#231f20" stroke-width="0.1">46.9%</text>
<text x="304.0" y="446.38" font-size="6.4" font-style="italic" fill="#231f20">KRAS<tspan font-size="4.3" font-style="normal" dy="-2.6">G61R</tspan></text>
<text x="437.15" y="446.11" font-size="6.2" text-anchor="middle" fill="#231f20" stroke="#231f20" stroke-width="0.1">20.1%</text>
<rect x="289.30" y="455.00" width="15.70" height="7.00" fill="#fdb913" stroke="#231f20" stroke-width="0.7"/>
<text x="308.00" y="460.72" font-size="6.2" fill="#231f20" stroke="#231f20" stroke-width="0.1">Mutation detected</text>
<rect x="360.60" y="455.00" width="15.60" height="7.00" fill="#a9c8ee" stroke="#231f20" stroke-width="0.7"/>
<text x="378.90" y="460.72" font-size="6.2" fill="#231f20" stroke="#231f20" stroke-width="0.1">Mutation not detected</text>
</g>
<g id="panelD">
<text x="0.00" y="4.30" font-size="12" font-weight="bold" fill="#000" transform="translate(7.00 483.00) scale(0.9 1)">D</text>
<path d="M73.00 502.00L135.00 501.25M73.00 502.00L139.50 550.75M135.00 501.25L205.75 559.50M139.50 550.75L205.75 559.50M73.00 502.00L25.50 591.75M135.00 501.25L80.00 611.40M139.50 550.75L98.85 631.70M205.75 559.50L160.00 656.20M25.50 591.75L80.00 611.40M25.50 591.75L98.85 631.70M80.00 611.40L160.00 656.20M98.85 631.70L160.00 656.20" fill="none" stroke="#1a1a1a" stroke-width="1.1" stroke-linecap="round"/>
<path d="M98.85 631.70l-2.0 4.6M108.50 636.50l-2.0 4.6M119.60 641.00l-2.0 4.6M131.20 645.60l-2.0 4.6M142.70 650.00l-2.0 4.6M154.60 654.80l-2.0 4.6M153.15 515.75h4.2M173.15 532.50h4.2M190.65 548.00h4.2M203.60 565.60l4.2 1.2M195.00 584.40l4.2 1.2M186.30 603.40l4.2 1.2M177.80 622.40l4.2 1.2M169.20 641.60l4.2 1.2" fill="none" stroke="#1a1a1a" stroke-width="0.9"/>
<text x="91.40" y="645.63" font-size="6.5" text-anchor="middle" fill="#333" stroke="#333" stroke-width="0.1">−1000</text>
<text x="105.00" y="649.13" font-size="6.5" text-anchor="middle" fill="#333" stroke="#333" stroke-width="0.1">0</text>
<text x="115.20" y="653.93" font-size="6.5" text-anchor="middle" fill="#333" stroke="#333" stroke-width="0.1">1000</text>
<text x="126.30" y="658.73" font-size="6.5" text-anchor="middle" fill="#333" stroke="#333" stroke-width="0.1">2000</text>
<text x="137.80" y="663.93" font-size="6.5" text-anchor="middle" fill="#333" stroke="#333" stroke-width="0.1">3000</text>
<text x="149.90" y="669.73" font-size="6.5" text-anchor="middle" fill="#333" stroke="#333" stroke-width="0.1">4000</text>
<text x="161.20" y="518.13" font-size="6.5" fill="#333" stroke="#333" stroke-width="0.1">−1000</text>
<text x="181.00" y="534.93" font-size="6.5" fill="#333" stroke="#333" stroke-width="0.1">0</text>
<text x="200.00" y="550.53" font-size="6.5" fill="#333" stroke="#333" stroke-width="0.1">1000</text>
<text x="212.20" y="570.63" font-size="6.5" fill="#333" stroke="#333" stroke-width="0.1">3000</text>
<text x="203.80" y="589.23" font-size="6.5" fill="#333" stroke="#333" stroke-width="0.1">2000</text>
<text x="195.30" y="608.33" font-size="6.5" fill="#333" stroke="#333" stroke-width="0.1">1000</text>
<text x="186.70" y="627.83" font-size="6.5" fill="#333" stroke="#333" stroke-width="0.1">0</text>
<text x="177.40" y="647.83" font-size="6.5" fill="#333" stroke="#333" stroke-width="0.1">−1000</text>
<text x="0.00" y="3.37" font-size="9.4" text-anchor="middle" fill="#111" transform="translate(120.60 669.40) scale(0.56 1)" stroke="#111" stroke-width="0.28">PC1</text>
<text x="0.00" y="3.37" font-size="9.4" text-anchor="middle" fill="#111" transform="translate(197.60 527.20) scale(0.56 1)" stroke="#111" stroke-width="0.28">PC2</text>
<text x="0.00" y="3.37" font-size="9.4" text-anchor="middle" fill="#111" transform="translate(214.60 617.70) scale(0.56 1)" stroke="#111" stroke-width="0.28">PC3</text>
<circle cx="25.00" cy="523.80" r="3.00" fill="#2d9fd4" stroke="#1b6288" stroke-width="0.7"/>
<text x="31.30" y="526.23" font-size="6.5" fill="#333" stroke="#333" stroke-width="0.1">wildtype</text>
<circle cx="25.00" cy="535.80" r="3.00" fill="#fbb615" stroke="#7a5c0c" stroke-width="0.7"/>
<text x="31.30" y="538.23" font-size="6.5" fill="#333" stroke="#333" stroke-width="0.1">mutant</text>
<circle cx="78.00" cy="502.00" r="3.00" fill="#fbb615" stroke="#7a5c0c" stroke-width="0.7"/>
<text x="80.00" y="497.53" font-size="6.5" fill="#333" stroke="#333" stroke-width="0.1">K424</text>
<circle cx="72.50" cy="583.30" r="3.00" fill="#2d9fd4" stroke="#1b6288" stroke-width="0.7"/>
<text x="72.30" y="577.73" font-size="6.5" text-anchor="middle" fill="#333" stroke="#333" stroke-width="0.1">1224099</text>
<circle cx="37.50" cy="590.50" r="3.00" fill="#2d9fd4" stroke="#1b6288" stroke-width="0.7"/>
<text x="30.80" y="586.73" font-size="6.5" fill="#333" stroke="#333" stroke-width="0.1">99-452</text>
<circle cx="31.20" cy="594.40" r="3.00" fill="#fbb615" stroke="#7a5c0c" stroke-width="0.7"/>
<text x="17.80" y="604.03" font-size="6.5" fill="#333" stroke="#333" stroke-width="0.1">04-315</text>
<circle cx="109.50" cy="599.30" r="3.00" fill="#2d9fd4" stroke="#1b6288" stroke-width="0.7"/>
<text x="108.40" y="607.93" font-size="6.5" text-anchor="end" fill="#333" stroke="#333" stroke-width="0.1">01-670</text>
<circle cx="115.80" cy="594.50" r="3.00" fill="#2d9fd4" stroke="#1b6288" stroke-width="0.7"/>
<text x="118.20" y="601.63" font-size="6.5" fill="#333" stroke="#333" stroke-width="0.1">08-1417</text>
<circle cx="113.80" cy="611.20" r="3.00" fill="#2d9fd4" stroke="#1b6288" stroke-width="0.7"/>
<text x="106.40" y="620.53" font-size="6.5" fill="#333" stroke="#333" stroke-width="0.1">1315818</text>
<circle cx="152.50" cy="603.00" r="3.00" fill="#2d9fd4" stroke="#1b6288" stroke-width="0.7"/>
<text x="152.80" y="594.93" font-size="6.5" text-anchor="middle" fill="#333" stroke="#333" stroke-width="0.1">1229314</text>
</g>
<g id="panelE">
<text x="0.00" y="4.30" font-size="12" font-weight="bold" fill="#000" transform="translate(242.60 482.90) scale(0.86 1)">E</text>
<defs><linearGradient id="cbar" x1="0" y1="0" x2="0" y2="1"><stop offset="0" stop-color="#2c3a9c"/><stop offset="0.12" stop-color="#3f4dab"/><stop offset="0.3" stop-color="#8f97d3"/><stop offset="0.45" stop-color="#eeeef8"/><stop offset="0.55" stop-color="#fdf0f0"/><stop offset="0.72" stop-color="#f29a9a"/><stop offset="0.9" stop-color="#e63240"/><stop offset="1" stop-color="#e0101f"/></linearGradient></defs>
<rect x="262.90" y="502.40" width="4.30" height="67.20" fill="url(#cbar)"/>
<text x="270.60" y="504.55" font-size="6" fill="#333" stroke="#333" stroke-width="0.1">1</text>
<text x="270.60" y="517.95" font-size="6" fill="#333" stroke="#333" stroke-width="0.1">0.8</text>
<text x="270.60" y="531.45" font-size="6" fill="#333" stroke="#333" stroke-width="0.1">0.6</text>
<text x="270.60" y="544.75" font-size="6" fill="#333" stroke="#333" stroke-width="0.1">0.4</text>
<text x="270.60" y="558.05" font-size="6" fill="#333" stroke="#333" stroke-width="0.1">0.2</text>
<text x="270.60" y="571.45" font-size="6" fill="#333" stroke="#333" stroke-width="0.1">0</text>
<text x="0.00" y="2.26" font-size="6.3" text-anchor="middle" fill="#444" transform="translate(255.40 536.40) rotate(-90)" stroke="#444" stroke-width="0.1">Average DNA Methylation Level</text>
<g shape-rendering="crispEdges">
<rect x="319.30" y="518.70" width="168.50" height="122.30" fill="#4c57b2"/>
<rect x="319.30" y="518.70" width="1.25" height="15.34" fill="#f0ecf5"/>
<rect x="320.50" y="518.70" width="1.25" height="15.34" fill="#f48f86"/>
<rect x="321.71" y="518.70" width="2.46" height="15.34" fill="#f8c6c2"/>
<rect x="324.11" y="518.70" width="3.66" height="15.34" fill="#f0554e"/>
<rect x="327.73" y="518.70" width="1.25" height="15.34" fill="#e8262c"/>
<rect x="328.93" y="518.70" width="2.46" height="15.34" fill="#f0ecf5"/>
<rect x="331.34" y="518.70" width="3.66" height="15.34" fill="#f48f86"/>
<rect x="334.95" y="518.70" width="1.25" height="15.34" fill="#f8c6c2"/>
<rect x="336.15" y="518.70" width="1.25" height="15.34" fill="#f0ecf5"/>
<rect x="339.76" y="518.70" width="1.25" height="15.34" fill="#f48f86"/>
<rect x="340.96" y="518.70" width="1.25" height="15.34" fill="#f0554e"/>
<rect x="342.17" y="518.70" width="2.46" height="15.34" fill="#f48f86"/>
<rect x="344.57" y="518.70" width="1.25" height="15.34" fill="#cfcdec"/>
<rect x="345.78" y="518.70" width="1.25" height="15.34" fill="#f8c6c2"/>
<rect x="346.98" y="518.70" width="1.25" height="15.34" fill="#9298d6"/>
<rect x="348.19" y="518.70" width="1.25" height="15.34" fill="#f8c6c2"/>
<rect x="349.39" y="518.70" width="1.25" height="15.34" fill="#9298d6"/>
<rect x="351.80" y="518.70" width="1.25" height="15.34" fill="#cfcdec"/>
<rect x="353.00" y="518.70" width="1.25" height="15.34" fill="#f8c6c2"/>
<rect x="356.61" y="518.70" width="2.46" height="15.34" fill="#9298d6"/>
<rect x="361.43" y="518.70" width="2.46" height="15.34" fill="#9298d6"/>
<rect x="367.44" y="518.70" width="1.25" height="15.34" fill="#9298d6"/>
<rect x="375.87" y="518.70" width="3.66" height="15.34" fill="#f0ecf5"/>
<rect x="379.48" y="518.70" width="1.25" height="15.34" fill="#9298d6"/>
<rect x="380.68" y="518.70" width="1.25" height="15.34" fill="#f0ecf5"/>
<rect x="381.89" y="518.70" width="1.25" height="15.34" fill="#f8c6c2"/>
<rect x="383.09" y="518.70" width="1.25" height="15.34" fill="#f0ecf5"/>
<rect x="386.70" y="518.70" width="2.46" height="15.34" fill="#9298d6"/>
<rect x="391.51" y="518.70" width="2.46" height="15.34" fill="#9298d6"/>
<rect x="397.53" y="518.70" width="2.46" height="15.34" fill="#f48f86"/>
<rect x="399.94" y="518.70" width="1.25" height="15.34" fill="#f8c6c2"/>
<rect x="401.14" y="518.70" width="1.25" height="15.34" fill="#f0ecf5"/>
<rect x="407.16" y="518.70" width="1.25" height="15.34" fill="#9298d6"/>
<rect x="410.77" y="518.70" width="2.46" height="15.34" fill="#9298d6"/>
<rect x="414.38" y="518.70" width="1.25" height="15.34" fill="#9298d6"/>
<rect x="415.59" y="518.70" width="1.25" height="15.34" fill="#f0ecf5"/>
<rect x="416.79" y="518.70" width="2.46" height="15.34" fill="#f8c6c2"/>
<rect x="419.20" y="518.70" width="1.25" height="15.34" fill="#9298d6"/>
<rect x="421.60" y="518.70" width="3.66" height="15.34" fill="#9298d6"/>
<rect x="425.21" y="518.70" width="1.25" height="15.34" fill="#cfcdec"/>
<rect x="427.62" y="518.70" width="2.46" height="15.34" fill="#9298d6"/>
<rect x="431.23" y="518.70" width="1.25" height="15.34" fill="#9298d6"/>
<rect x="432.44" y="518.70" width="1.25" height="15.34" fill="#cfcdec"/>
<rect x="434.84" y="518.70" width="1.25" height="15.34" fill="#9298d6"/>
<rect x="438.45" y="518.70" width="1.25" height="15.34" fill="#cfcdec"/>
<rect x="446.88" y="518.70" width="2.46" height="15.34" fill="#f8c6c2"/>
<rect x="449.29" y="518.70" width="3.66" height="15.34" fill="#f0ecf5"/>
<rect x="452.90" y="518.70" width="2.46" height="15.34" fill="#9298d6"/>
<rect x="460.12" y="518.70" width="1.25" height="15.34" fill="#f0ecf5"/>
<rect x="461.32" y="518.70" width="1.25" height="15.34" fill="#cfcdec"/>
<rect x="462.52" y="518.70" width="3.66" height="15.34" fill="#f48f86"/>
<rect x="466.14" y="518.70" width="1.25" height="15.34" fill="#e8262c"/>
<rect x="467.34" y="518.70" width="2.46" height="15.34" fill="#f0554e"/>
<rect x="469.75" y="518.70" width="2.46" height="15.34" fill="#f48f86"/>
<rect x="472.15" y="518.70" width="1.25" height="15.34" fill="#f8c6c2"/>
<rect x="473.36" y="518.70" width="1.25" height="15.34" fill="#f0ecf5"/>
<rect x="474.56" y="518.70" width="1.25" height="15.34" fill="#f8c6c2"/>
<rect x="476.97" y="518.70" width="1.25" height="15.34" fill="#9298d6"/>
<rect x="478.17" y="518.70" width="1.25" height="15.34" fill="#f48f86"/>
<rect x="479.38" y="518.70" width="1.25" height="15.34" fill="#f0554e"/>
<rect x="480.58" y="518.70" width="1.25" height="15.34" fill="#f8c6c2"/>
<rect x="481.78" y="518.70" width="1.25" height="15.34" fill="#f48f86"/>
<rect x="482.99" y="518.70" width="1.25" height="15.34" fill="#f0554e"/>
<rect x="484.19" y="518.70" width="1.25" height="15.34" fill="#e8262c"/>
<rect x="485.39" y="518.70" width="2.46" height="15.34" fill="#f0554e"/>
<rect x="319.30" y="533.99" width="1.25" height="15.34" fill="#f48f86"/>
<rect x="320.50" y="533.99" width="1.25" height="15.34" fill="#f0554e"/>
<rect x="321.71" y="533.99" width="1.25" height="15.34" fill="#f48f86"/>
<rect x="322.91" y="533.99" width="1.25" height="15.34" fill="#f0554e"/>
<rect x="324.11" y="533.99" width="3.66" height="15.34" fill="#e8262c"/>
<rect x="327.73" y="533.99" width="1.25" height="15.34" fill="#f0554e"/>
<rect x="328.93" y="533.99" width="2.46" height="15.34" fill="#f48f86"/>
<rect x="331.34" y="533.99" width="3.66" height="15.34" fill="#f0554e"/>
<rect x="334.95" y="533.99" width="1.25" height="15.34" fill="#f48f86"/>
<rect x="336.15" y="533.99" width="1.25" height="15.34" fill="#f8c6c2"/>
<rect x="337.35" y="533.99" width="1.25" height="15.34" fill="#e8262c"/>
<rect x="338.56" y="533.99" width="3.66" height="15.34" fill="#cfcdec"/>
<rect x="342.17" y="533.99" width="2.46" height="15.34" fill="#f0554e"/>
<rect x="344.57" y="533.99" width="1.25" height="15.34" fill="#9298d6"/>
<rect x="346.98" y="533.99" width="2.46" height="15.34" fill="#9298d6"/>
<rect x="350.59" y="533.99" width="1.25" height="15.34" fill="#cfcdec"/>
<rect x="353.00" y="533.99" width="1.25" height="15.34" fill="#f8c6c2"/>
<rect x="354.20" y="533.99" width="1.25" height="15.34" fill="#9298d6"/>
<rect x="360.22" y="533.99" width="1.25" height="15.34" fill="#9298d6"/>
<rect x="362.63" y="533.99" width="1.25" height="15.34" fill="#9298d6"/>
<rect x="367.44" y="533.99" width="1.25" height="15.34" fill="#9298d6"/>
<rect x="369.85" y="533.99" width="1.25" height="15.34" fill="#9298d6"/>
<rect x="375.87" y="533.99" width="2.46" height="15.34" fill="#f0ecf5"/>
<rect x="379.48" y="533.99" width="2.46" height="15.34" fill="#cfcdec"/>
<rect x="381.89" y="533.99" width="1.25" height="15.34" fill="#f0ecf5"/>
<rect x="383.09" y="533.99" width="1.25" height="15.34" fill="#9298d6"/>
<rect x="391.51" y="533.99" width="1.25" height="15.34" fill="#9298d6"/>
<rect x="397.53" y="533.99" width="2.46" height="15.34" fill="#f48f86"/>
<rect x="405.96" y="533.99" width="1.25" height="15.34" fill="#9298d6"/>
<rect x="413.18" y="533.99" width="2.46" height="15.34" fill="#9298d6"/>
<rect x="415.59" y="533.99" width="2.46" height="15.34" fill="#cfcdec"/>
<rect x="417.99" y="533.99" width="1.25" height="15.34" fill="#f0ecf5"/>
<rect x="419.20" y="533.99" width="1.25" height="15.34" fill="#9298d6"/>
<rect x="421.60" y="533.99" width="1.25" height="15.34" fill="#9298d6"/>
<rect x="424.01" y="533.99" width="1.25" height="15.34" fill="#9298d6"/>
<rect x="430.03" y="533.99" width="1.25" height="15.34" fill="#cfcdec"/>
<rect x="431.23" y="533.99" width="1.25" height="15.34" fill="#9298d6"/>
<rect x="432.44" y="533.99" width="1.25" height="15.34" fill="#cfcdec"/>
<rect x="436.05" y="533.99" width="1.25" height="15.34" fill="#9298d6"/>
<rect x="443.27" y="533.99" width="1.25" height="15.34" fill="#cfcdec"/>
<rect x="444.47" y="533.99" width="1.25" height="15.34" fill="#f8c6c2"/>
<rect x="445.68" y="533.99" width="1.25" height="15.34" fill="#cfcdec"/>
<rect x="446.88" y="533.99" width="1.25" height="15.34" fill="#f0ecf5"/>
<rect x="448.08" y="533.99" width="1.25" height="15.34" fill="#9298d6"/>
<rect x="450.49" y="533.99" width="1.25" height="15.34" fill="#cfcdec"/>
<rect x="452.90" y="533.99" width="1.25" height="15.34" fill="#9298d6"/>
<rect x="460.12" y="533.99" width="1.25" height="15.34" fill="#f48f86"/>
<rect x="461.32" y="533.99" width="1.25" height="15.34" fill="#f8c6c2"/>
<rect x="462.52" y="533.99" width="1.25" height="15.34" fill="#cfcdec"/>
<rect x="463.73" y="533.99" width="2.46" height="15.34" fill="#9298d6"/>
<rect x="466.14" y="533.99" width="1.25" height="15.34" fill="#e8262c"/>
<rect x="467.34" y="533.99" width="2.46" height="15.34" fill="#f48f86"/>
<rect x="469.75" y="533.99" width="1.25" height="15.34" fill="#f8c6c2"/>
<rect x="470.95" y="533.99" width="1.25" height="15.34" fill="#f48f86"/>
<rect x="472.15" y="533.99" width="2.46" height="15.34" fill="#cfcdec"/>
<rect x="474.56" y="533.99" width="1.25" height="15.34" fill="#9298d6"/>
<rect x="479.38" y="533.99" width="1.25" height="15.34" fill="#f0554e"/>
<rect x="480.58" y="533.99" width="2.46" height="15.34" fill="#f48f86"/>
<rect x="482.99" y="533.99" width="1.25" height="15.34" fill="#e8262c"/>
<rect x="484.19" y="533.99" width="1.25" height="15.34" fill="#f0554e"/>
<rect x="485.39" y="533.99" width="1.25" height="15.34" fill="#e8262c"/>
<rect x="486.60" y="533.99" width="1.25" height="15.34" fill="#f0554e"/>
<rect x="319.30" y="549.28" width="8.48" height="15.34" fill="#e8262c"/>
<rect x="327.73" y="549.28" width="1.25" height="15.34" fill="#f0554e"/>
<rect x="328.93" y="549.28" width="3.66" height="15.34" fill="#f48f86"/>
<rect x="332.54" y="549.28" width="3.66" height="15.34" fill="#f0554e"/>
<rect x="336.15" y="549.28" width="1.25" height="15.34" fill="#f48f86"/>
<rect x="337.35" y="549.28" width="1.25" height="15.34" fill="#f0554e"/>
<rect x="338.56" y="549.28" width="4.86" height="15.34" fill="#e8262c"/>
<rect x="343.37" y="549.28" width="1.25" height="15.34" fill="#f48f86"/>
<rect x="344.57" y="549.28" width="1.25" height="15.34" fill="#f0ecf5"/>
<rect x="350.59" y="549.28" width="1.25" height="15.34" fill="#cfcdec"/>
<rect x="353.00" y="549.28" width="1.25" height="15.34" fill="#f0ecf5"/>
<rect x="354.20" y="549.28" width="1.25" height="15.34" fill="#9298d6"/>
<rect x="367.44" y="549.28" width="1.25" height="15.34" fill="#9298d6"/>
<rect x="373.46" y="549.28" width="1.25" height="15.34" fill="#9298d6"/>
<rect x="379.48" y="549.28" width="1.25" height="15.34" fill="#f0ecf5"/>
<rect x="380.68" y="549.28" width="2.46" height="15.34" fill="#cfcdec"/>
<rect x="383.09" y="549.28" width="1.25" height="15.34" fill="#9298d6"/>
<rect x="384.29" y="549.28" width="1.25" height="15.34" fill="#cfcdec"/>
<rect x="391.51" y="549.28" width="1.25" height="15.34" fill="#9298d6"/>
<rect x="393.92" y="549.28" width="1.25" height="15.34" fill="#9298d6"/>
<rect x="397.53" y="549.28" width="1.25" height="15.34" fill="#9298d6"/>
<rect x="401.14" y="549.28" width="1.25" height="15.34" fill="#9298d6"/>
<rect x="407.16" y="549.28" width="1.25" height="15.34" fill="#9298d6"/>
<rect x="410.77" y="549.28" width="1.25" height="15.34" fill="#9298d6"/>
<rect x="413.18" y="549.28" width="1.25" height="15.34" fill="#9298d6"/>
<rect x="416.79" y="549.28" width="2.46" height="15.34" fill="#9298d6"/>
<rect x="419.20" y="549.28" width="1.25" height="15.34" fill="#f0ecf5"/>
<rect x="424.01" y="549.28" width="6.07" height="15.34" fill="#9298d6"/>
<rect x="446.88" y="549.28" width="2.46" height="15.34" fill="#9298d6"/>
<rect x="452.90" y="549.28" width="1.25" height="15.34" fill="#9298d6"/>
<rect x="456.51" y="549.28" width="1.25" height="15.34" fill="#cfcdec"/>
<rect x="460.12" y="549.28" width="1.25" height="15.34" fill="#9298d6"/>
<rect x="462.52" y="549.28" width="3.66" height="15.34" fill="#f8c6c2"/>
<rect x="466.14" y="549.28" width="1.25" height="15.34" fill="#f48f86"/>
<rect x="467.34" y="549.28" width="1.25" height="15.34" fill="#f8c6c2"/>
<rect x="468.54" y="549.28" width="1.25" height="15.34" fill="#f48f86"/>
<rect x="469.75" y="549.28" width="1.25" height="15.34" fill="#f8c6c2"/>
<rect x="470.95" y="549.28" width="2.46" height="15.34" fill="#9298d6"/>
<rect x="473.36" y="549.28" width="2.46" height="15.34" fill="#f0ecf5"/>
<rect x="476.97" y="549.28" width="2.46" height="15.34" fill="#9298d6"/>
<rect x="480.58" y="549.28" width="1.25" height="15.34" fill="#f0554e"/>
<rect x="481.78" y="549.28" width="1.25" height="15.34" fill="#f48f86"/>
<rect x="482.99" y="549.28" width="1.25" height="15.34" fill="#f0554e"/>
<rect x="484.19" y="549.28" width="3.66" height="15.34" fill="#e8262c"/>
<rect x="319.30" y="564.56" width="1.25" height="15.34" fill="#f48f86"/>
<rect x="320.50" y="564.56" width="1.25" height="15.34" fill="#f0554e"/>
<rect x="321.71" y="564.56" width="3.66" height="15.34" fill="#f48f86"/>
<rect x="325.32" y="564.56" width="2.46" height="15.34" fill="#f0554e"/>
<rect x="327.73" y="564.56" width="1.25" height="15.34" fill="#e8262c"/>
<rect x="328.93" y="564.56" width="1.25" height="15.34" fill="#f0554e"/>
<rect x="330.13" y="564.56" width="1.25" height="15.34" fill="#f48f86"/>
<rect x="331.34" y="564.56" width="2.46" height="15.34" fill="#f0554e"/>
<rect x="333.74" y="564.56" width="1.25" height="15.34" fill="#e8262c"/>
<rect x="334.95" y="564.56" width="1.25" height="15.34" fill="#f8c6c2"/>
<rect x="336.15" y="564.56" width="1.25" height="15.34" fill="#f0ecf5"/>
<rect x="337.35" y="564.56" width="1.25" height="15.34" fill="#e8262c"/>
<rect x="338.56" y="564.56" width="3.66" height="15.34" fill="#f0554e"/>
<rect x="342.17" y="564.56" width="1.25" height="15.34" fill="#f48f86"/>
<rect x="343.37" y="564.56" width="1.25" height="15.34" fill="#f0554e"/>
<rect x="344.57" y="564.56" width="1.25" height="15.34" fill="#f8c6c2"/>
<rect x="345.78" y="564.56" width="2.46" height="15.34" fill="#f48f86"/>
<rect x="348.19" y="564.56" width="1.25" height="15.34" fill="#e8262c"/>
<rect x="349.39" y="564.56" width="2.46" height="15.34" fill="#f0554e"/>
<rect x="351.80" y="564.56" width="1.25" height="15.34" fill="#f0ecf5"/>
<rect x="353.00" y="564.56" width="1.25" height="15.34" fill="#e8262c"/>
<rect x="354.20" y="564.56" width="1.25" height="15.34" fill="#9298d6"/>
<rect x="356.61" y="564.56" width="1.25" height="15.34" fill="#9298d6"/>
<rect x="362.63" y="564.56" width="2.46" height="15.34" fill="#cfcdec"/>
<rect x="367.44" y="564.56" width="1.25" height="15.34" fill="#9298d6"/>
<rect x="373.46" y="564.56" width="1.25" height="15.34" fill="#9298d6"/>
<rect x="377.07" y="564.56" width="1.25" height="15.34" fill="#9298d6"/>
<rect x="379.48" y="564.56" width="1.25" height="15.34" fill="#9298d6"/>
<rect x="380.68" y="564.56" width="1.25" height="15.34" fill="#f0ecf5"/>
<rect x="381.89" y="564.56" width="1.25" height="15.34" fill="#f8c6c2"/>
<rect x="396.33" y="564.56" width="2.46" height="15.34" fill="#9298d6"/>
<rect x="413.18" y="564.56" width="2.46" height="15.34" fill="#9298d6"/>
<rect x="416.79" y="564.56" width="1.25" height="15.34" fill="#9298d6"/>
<rect x="417.99" y="564.56" width="2.46" height="15.34" fill="#f8c6c2"/>
<rect x="422.81" y="564.56" width="2.46" height="15.34" fill="#cfcdec"/>
<rect x="426.42" y="564.56" width="2.46" height="15.34" fill="#f8c6c2"/>
<rect x="428.82" y="564.56" width="1.25" height="15.34" fill="#f48f86"/>
<rect x="431.23" y="564.56" width="1.25" height="15.34" fill="#cfcdec"/>
<rect x="432.44" y="564.56" width="1.25" height="15.34" fill="#f0ecf5"/>
<rect x="433.64" y="564.56" width="1.25" height="15.34" fill="#9298d6"/>
<rect x="443.27" y="564.56" width="1.25" height="15.34" fill="#9298d6"/>
<rect x="452.90" y="564.56" width="6.07" height="15.34" fill="#9298d6"/>
<rect x="460.12" y="564.56" width="1.25" height="15.34" fill="#cfcdec"/>
<rect x="461.32" y="564.56" width="1.25" height="15.34" fill="#9298d6"/>
<rect x="467.34" y="564.56" width="2.46" height="15.34" fill="#9298d6"/>
<rect x="469.75" y="564.56" width="1.25" height="15.34" fill="#f48f86"/>
<rect x="470.95" y="564.56" width="1.25" height="15.34" fill="#f8c6c2"/>
<rect x="472.15" y="564.56" width="1.25" height="15.34" fill="#f48f86"/>
<rect x="473.36" y="564.56" width="2.46" height="15.34" fill="#f8c6c2"/>
<rect x="475.76" y="564.56" width="1.25" height="15.34" fill="#f0554e"/>
<rect x="476.97" y="564.56" width="1.25" height="15.34" fill="#f8c6c2"/>
<rect x="478.17" y="564.56" width="1.25" height="15.34" fill="#f0554e"/>
<rect x="479.38" y="564.56" width="1.25" height="15.34" fill="#f8c6c2"/>
<rect x="480.58" y="564.56" width="1.25" height="15.34" fill="#f0ecf5"/>
<rect x="481.78" y="564.56" width="1.25" height="15.34" fill="#f48f86"/>
<rect x="482.99" y="564.56" width="1.25" height="15.34" fill="#f0554e"/>
<rect x="484.19" y="564.56" width="3.66" height="15.34" fill="#e8262c"/>
<rect x="319.30" y="579.85" width="1.25" height="15.34" fill="#f0554e"/>
<rect x="320.50" y="579.85" width="3.66" height="15.34" fill="#f48f86"/>
<rect x="325.32" y="579.85" width="1.25" height="15.34" fill="#9298d6"/>
<rect x="327.73" y="579.85" width="1.25" height="15.34" fill="#f48f86"/>
<rect x="328.93" y="579.85" width="1.25" height="15.34" fill="#f8c6c2"/>
<rect x="331.34" y="579.85" width="1.25" height="15.34" fill="#9298d6"/>
<rect x="332.54" y="579.85" width="1.25" height="15.34" fill="#f0ecf5"/>
<rect x="333.74" y="579.85" width="2.46" height="15.34" fill="#f8c6c2"/>
<rect x="339.76" y="579.85" width="1.25" height="15.34" fill="#9298d6"/>
<rect x="342.17" y="579.85" width="2.46" height="15.34" fill="#f0554e"/>
<rect x="344.57" y="579.85" width="1.25" height="15.34" fill="#f48f86"/>
<rect x="345.78" y="579.85" width="1.25" height="15.34" fill="#f8c6c2"/>
<rect x="346.98" y="579.85" width="3.66" height="15.34" fill="#9298d6"/>
<rect x="350.59" y="579.85" width="2.46" height="15.34" fill="#cfcdec"/>
<rect x="356.61" y="579.85" width="1.25" height="15.34" fill="#9298d6"/>
<rect x="361.43" y="579.85" width="1.25" height="15.34" fill="#9298d6"/>
<rect x="363.83" y="579.85" width="2.46" height="15.34" fill="#9298d6"/>
<rect x="368.65" y="579.85" width="1.25" height="15.34" fill="#9298d6"/>
<rect x="375.87" y="579.85" width="1.25" height="15.34" fill="#f0554e"/>
<rect x="377.07" y="579.85" width="1.25" height="15.34" fill="#e8262c"/>
<rect x="378.27" y="579.85" width="1.25" height="15.34" fill="#f0554e"/>
<rect x="379.48" y="579.85" width="1.25" height="15.34" fill="#e8262c"/>
<rect x="380.68" y="579.85" width="2.46" height="15.34" fill="#f0554e"/>
<rect x="383.09" y="579.85" width="3.66" height="15.34" fill="#f48f86"/>
<rect x="386.70" y="579.85" width="1.25" height="15.34" fill="#f0554e"/>
<rect x="387.90" y="579.85" width="1.25" height="15.34" fill="#f48f86"/>
<rect x="389.11" y="579.85" width="2.46" height="15.34" fill="#f8c6c2"/>
<rect x="391.51" y="579.85" width="1.25" height="15.34" fill="#f48f86"/>
<rect x="392.72" y="579.85" width="3.66" height="15.34" fill="#f8c6c2"/>
<rect x="396.33" y="579.85" width="2.46" height="15.34" fill="#f48f86"/>
<rect x="398.74" y="579.85" width="1.25" height="15.34" fill="#f8c6c2"/>
<rect x="399.94" y="579.85" width="3.66" height="15.34" fill="#f48f86"/>
<rect x="403.55" y="579.85" width="1.25" height="15.34" fill="#f8c6c2"/>
<rect x="410.77" y="579.85" width="1.25" height="15.34" fill="#9298d6"/>
<rect x="411.98" y="579.85" width="2.46" height="15.34" fill="#f8c6c2"/>
<rect x="414.38" y="579.85" width="1.25" height="15.34" fill="#9298d6"/>
<rect x="417.99" y="579.85" width="2.46" height="15.34" fill="#f0ecf5"/>
<rect x="420.40" y="579.85" width="2.46" height="15.34" fill="#9298d6"/>
<rect x="422.81" y="579.85" width="1.25" height="15.34" fill="#cfcdec"/>
<rect x="424.01" y="579.85" width="1.25" height="15.34" fill="#f48f86"/>
<rect x="425.21" y="579.85" width="1.25" height="15.34" fill="#f0ecf5"/>
<rect x="426.42" y="579.85" width="4.86" height="15.34" fill="#9298d6"/>
<rect x="432.44" y="579.85" width="2.46" height="15.34" fill="#cfcdec"/>
<rect x="434.84" y="579.85" width="2.46" height="15.34" fill="#f0ecf5"/>
<rect x="438.45" y="579.85" width="1.25" height="15.34" fill="#9298d6"/>
<rect x="439.66" y="579.85" width="1.25" height="15.34" fill="#f0ecf5"/>
<rect x="440.86" y="579.85" width="1.25" height="15.34" fill="#cfcdec"/>
<rect x="443.27" y="579.85" width="1.25" height="15.34" fill="#f0ecf5"/>
<rect x="444.47" y="579.85" width="3.66" height="15.34" fill="#f8c6c2"/>
<rect x="448.08" y="579.85" width="1.25" height="15.34" fill="#f0ecf5"/>
<rect x="449.29" y="579.85" width="1.25" height="15.34" fill="#f8c6c2"/>
<rect x="450.49" y="579.85" width="1.25" height="15.34" fill="#f0ecf5"/>
<rect x="454.10" y="579.85" width="1.25" height="15.34" fill="#9298d6"/>
<rect x="456.51" y="579.85" width="3.66" height="15.34" fill="#9298d6"/>
<rect x="460.12" y="579.85" width="1.25" height="15.34" fill="#f8c6c2"/>
<rect x="461.32" y="579.85" width="1.25" height="15.34" fill="#f0554e"/>
<rect x="462.52" y="579.85" width="1.25" height="15.34" fill="#f48f86"/>
<rect x="463.73" y="579.85" width="2.46" height="15.34" fill="#e8262c"/>
<rect x="466.14" y="579.85" width="2.46" height="15.34" fill="#f0554e"/>
<rect x="468.54" y="579.85" width="1.25" height="15.34" fill="#e8262c"/>
<rect x="469.75" y="579.85" width="1.25" height="15.34" fill="#f8c6c2"/>
<rect x="470.95" y="579.85" width="1.25" height="15.34" fill="#f48f86"/>
<rect x="472.15" y="579.85" width="1.25" height="15.34" fill="#f8c6c2"/>
<rect x="473.36" y="579.85" width="1.25" height="15.34" fill="#cfcdec"/>
<rect x="474.56" y="579.85" width="1.25" height="15.34" fill="#f0ecf5"/>
<rect x="475.76" y="579.85" width="2.46" height="15.34" fill="#9298d6"/>
<rect x="478.17" y="579.85" width="1.25" height="15.34" fill="#f0ecf5"/>
<rect x="479.38" y="579.85" width="1.25" height="15.34" fill="#f48f86"/>
<rect x="480.58" y="579.85" width="3.66" height="15.34" fill="#f0554e"/>
<rect x="484.19" y="579.85" width="3.66" height="15.34" fill="#e8262c"/>
<rect x="319.30" y="595.14" width="3.66" height="15.34" fill="#9298d6"/>
<rect x="322.91" y="595.14" width="1.25" height="15.34" fill="#cfcdec"/>
<rect x="325.32" y="595.14" width="1.25" height="15.34" fill="#9298d6"/>
<rect x="327.73" y="595.14" width="2.46" height="15.34" fill="#cfcdec"/>
<rect x="330.13" y="595.14" width="1.25" height="15.34" fill="#f0ecf5"/>
<rect x="331.34" y="595.14" width="1.25" height="15.34" fill="#9298d6"/>
<rect x="336.15" y="595.14" width="1.25" height="15.34" fill="#9298d6"/>
<rect x="340.96" y="595.14" width="1.25" height="15.34" fill="#9298d6"/>
<rect x="342.17" y="595.14" width="1.25" height="15.34" fill="#f8c6c2"/>
<rect x="343.37" y="595.14" width="1.25" height="15.34" fill="#f0ecf5"/>
<rect x="354.20" y="595.14" width="3.66" height="15.34" fill="#f0ecf5"/>
<rect x="357.81" y="595.14" width="1.25" height="15.34" fill="#f8c6c2"/>
<rect x="359.02" y="595.14" width="2.46" height="15.34" fill="#cfcdec"/>
<rect x="361.43" y="595.14" width="3.66" height="15.34" fill="#f0ecf5"/>
<rect x="367.44" y="595.14" width="1.25" height="15.34" fill="#f8c6c2"/>
<rect x="368.65" y="595.14" width="1.25" height="15.34" fill="#cfcdec"/>
<rect x="369.85" y="595.14" width="1.25" height="15.34" fill="#9298d6"/>
<rect x="372.26" y="595.14" width="3.66" height="15.34" fill="#f0ecf5"/>
<rect x="375.87" y="595.14" width="1.25" height="15.34" fill="#e8262c"/>
<rect x="377.07" y="595.14" width="3.66" height="15.34" fill="#f0554e"/>
<rect x="380.68" y="595.14" width="1.25" height="15.34" fill="#e8262c"/>
<rect x="381.89" y="595.14" width="7.27" height="15.34" fill="#f0554e"/>
<rect x="389.11" y="595.14" width="2.46" height="15.34" fill="#e8262c"/>
<rect x="391.51" y="595.14" width="1.25" height="15.34" fill="#f0554e"/>
<rect x="392.72" y="595.14" width="3.66" height="15.34" fill="#f48f86"/>
<rect x="396.33" y="595.14" width="1.25" height="15.34" fill="#f0554e"/>
<rect x="397.53" y="595.14" width="3.66" height="15.34" fill="#f48f86"/>
<rect x="401.14" y="595.14" width="1.25" height="15.34" fill="#f8c6c2"/>
<rect x="402.35" y="595.14" width="1.25" height="15.34" fill="#9298d6"/>
<rect x="404.75" y="595.14" width="1.25" height="15.34" fill="#cfcdec"/>
<rect x="405.96" y="595.14" width="1.25" height="15.34" fill="#f0ecf5"/>
<rect x="407.16" y="595.14" width="2.46" height="15.34" fill="#f8c6c2"/>
<rect x="409.57" y="595.14" width="1.25" height="15.34" fill="#f0ecf5"/>
<rect x="410.77" y="595.14" width="3.66" height="15.34" fill="#cfcdec"/>
<rect x="414.38" y="595.14" width="2.46" height="15.34" fill="#f8c6c2"/>
<rect x="416.79" y="595.14" width="1.25" height="15.34" fill="#f0ecf5"/>
<rect x="417.99" y="595.14" width="1.25" height="15.34" fill="#f48f86"/>
<rect x="419.20" y="595.14" width="2.46" height="15.34" fill="#f0554e"/>
<rect x="421.60" y="595.14" width="1.25" height="15.34" fill="#f8c6c2"/>
<rect x="422.81" y="595.14" width="1.25" height="15.34" fill="#f0ecf5"/>
<rect x="424.01" y="595.14" width="1.25" height="15.34" fill="#f8c6c2"/>
<rect x="425.21" y="595.14" width="1.25" height="15.34" fill="#f48f86"/>
<rect x="426.42" y="595.14" width="2.46" height="15.34" fill="#f0554e"/>
<rect x="428.82" y="595.14" width="1.25" height="15.34" fill="#cfcdec"/>
<rect x="430.03" y="595.14" width="1.25" height="15.34" fill="#f0ecf5"/>
<rect x="431.23" y="595.14" width="1.25" height="15.34" fill="#f48f86"/>
<rect x="432.44" y="595.14" width="1.25" height="15.34" fill="#f8c6c2"/>
<rect x="433.64" y="595.14" width="1.25" height="15.34" fill="#f0ecf5"/>
<rect x="434.84" y="595.14" width="1.25" height="15.34" fill="#f8c6c2"/>
<rect x="436.05" y="595.14" width="1.25" height="15.34" fill="#f0ecf5"/>
<rect x="437.25" y="595.14" width="1.25" height="15.34" fill="#f8c6c2"/>
<rect x="438.45" y="595.14" width="1.25" height="15.34" fill="#f0554e"/>
<rect x="439.66" y="595.14" width="2.46" height="15.34" fill="#f0ecf5"/>
<rect x="442.06" y="595.14" width="1.25" height="15.34" fill="#cfcdec"/>
<rect x="443.27" y="595.14" width="1.25" height="15.34" fill="#f8c6c2"/>
<rect x="444.47" y="595.14" width="1.25" height="15.34" fill="#f48f86"/>
<rect x="445.68" y="595.14" width="1.25" height="15.34" fill="#cfcdec"/>
<rect x="446.88" y="595.14" width="3.66" height="15.34" fill="#f0ecf5"/>
<rect x="450.49" y="595.14" width="1.25" height="15.34" fill="#f48f86"/>
<rect x="451.69" y="595.14" width="1.25" height="15.34" fill="#f0554e"/>
<rect x="452.90" y="595.14" width="1.25" height="15.34" fill="#f48f86"/>
<rect x="454.10" y="595.14" width="1.25" height="15.34" fill="#f8c6c2"/>
<rect x="455.30" y="595.14" width="2.46" height="15.34" fill="#f0554e"/>
<rect x="457.71" y="595.14" width="1.25" height="15.34" fill="#f48f86"/>
<rect x="458.91" y="595.14" width="1.25" height="15.34" fill="#f0554e"/>
<rect x="460.12" y="595.14" width="1.25" height="15.34" fill="#f48f86"/>
<rect x="461.32" y="595.14" width="3.66" height="15.34" fill="#e8262c"/>
<rect x="464.93" y="595.14" width="1.25" height="15.34" fill="#f0554e"/>
<rect x="466.14" y="595.14" width="4.86" height="15.34" fill="#e8262c"/>
<rect x="470.95" y="595.14" width="1.25" height="15.34" fill="#f0554e"/>
<rect x="472.15" y="595.14" width="1.25" height="15.34" fill="#e8262c"/>
<rect x="473.36" y="595.14" width="2.46" height="15.34" fill="#f0554e"/>
<rect x="475.76" y="595.14" width="2.46" height="15.34" fill="#e8262c"/>
<rect x="478.17" y="595.14" width="1.25" height="15.34" fill="#f0554e"/>
<rect x="479.38" y="595.14" width="4.86" height="15.34" fill="#e8262c"/>
<rect x="484.19" y="595.14" width="2.46" height="15.34" fill="#f0ecf5"/>
<rect x="486.60" y="595.14" width="1.25" height="15.34" fill="#e8262c"/>
<rect x="319.30" y="610.42" width="1.25" height="15.34" fill="#f8c6c2"/>
<rect x="320.50" y="610.42" width="3.66" height="15.34" fill="#cfcdec"/>
<rect x="328.93" y="610.42" width="1.25" height="15.34" fill="#9298d6"/>
<rect x="331.34" y="610.42" width="1.25" height="15.34" fill="#9298d6"/>
<rect x="333.74" y="610.42" width="1.25" height="15.34" fill="#9298d6"/>
<rect x="339.76" y="610.42" width="1.25" height="15.34" fill="#9298d6"/>
<rect x="342.17" y="610.42" width="2.46" height="15.34" fill="#cfcdec"/>
<rect x="346.98" y="610.42" width="1.25" height="15.34" fill="#9298d6"/>
<rect x="350.59" y="610.42" width="1.25" height="15.34" fill="#9298d6"/>
<rect x="354.20" y="610.42" width="7.27" height="15.34" fill="#f0ecf5"/>
<rect x="361.43" y="610.42" width="1.25" height="15.34" fill="#f8c6c2"/>
<rect x="362.63" y="610.42" width="2.46" height="15.34" fill="#f0ecf5"/>
<rect x="365.04" y="610.42" width="1.25" height="15.34" fill="#cfcdec"/>
<rect x="366.24" y="610.42" width="1.25" height="15.34" fill="#f48f86"/>
<rect x="367.44" y="610.42" width="2.46" height="15.34" fill="#f8c6c2"/>
<rect x="369.85" y="610.42" width="1.25" height="15.34" fill="#cfcdec"/>
<rect x="371.05" y="610.42" width="1.25" height="15.34" fill="#9298d6"/>
<rect x="372.26" y="610.42" width="1.25" height="15.34" fill="#cfcdec"/>
<rect x="373.46" y="610.42" width="2.46" height="15.34" fill="#9298d6"/>
<rect x="375.87" y="610.42" width="2.46" height="15.34" fill="#e8262c"/>
<rect x="378.27" y="610.42" width="1.25" height="15.34" fill="#f0554e"/>
<rect x="379.48" y="610.42" width="2.46" height="15.34" fill="#e8262c"/>
<rect x="381.89" y="610.42" width="3.66" height="15.34" fill="#f0554e"/>
<rect x="385.50" y="610.42" width="1.25" height="15.34" fill="#e8262c"/>
<rect x="386.70" y="610.42" width="3.66" height="15.34" fill="#f0554e"/>
<rect x="390.31" y="610.42" width="2.46" height="15.34" fill="#e8262c"/>
<rect x="392.72" y="610.42" width="3.66" height="15.34" fill="#f48f86"/>
<rect x="396.33" y="610.42" width="1.25" height="15.34" fill="#f0554e"/>
<rect x="397.53" y="610.42" width="8.48" height="15.34" fill="#e8262c"/>
<rect x="405.96" y="610.42" width="1.25" height="15.34" fill="#f8c6c2"/>
<rect x="407.16" y="610.42" width="8.48" height="15.34" fill="#f48f86"/>
<rect x="415.59" y="610.42" width="6.07" height="15.34" fill="#e8262c"/>
<rect x="421.60" y="610.42" width="1.25" height="15.34" fill="#f0554e"/>
<rect x="422.81" y="610.42" width="1.25" height="15.34" fill="#f8c6c2"/>
<rect x="424.01" y="610.42" width="2.46" height="15.34" fill="#f48f86"/>
<rect x="426.42" y="610.42" width="1.25" height="15.34" fill="#f8c6c2"/>
<rect x="427.62" y="610.42" width="3.66" height="15.34" fill="#f48f86"/>
<rect x="431.23" y="610.42" width="1.25" height="15.34" fill="#e8262c"/>
<rect x="432.44" y="610.42" width="1.25" height="15.34" fill="#f48f86"/>
<rect x="433.64" y="610.42" width="3.66" height="15.34" fill="#f0ecf5"/>
<rect x="437.25" y="610.42" width="2.46" height="15.34" fill="#f8c6c2"/>
<rect x="439.66" y="610.42" width="3.66" height="15.34" fill="#cfcdec"/>
<rect x="443.27" y="610.42" width="2.46" height="15.34" fill="#f8c6c2"/>
<rect x="445.68" y="610.42" width="1.25" height="15.34" fill="#f0ecf5"/>
<rect x="446.88" y="610.42" width="4.86" height="15.34" fill="#f8c6c2"/>
<rect x="451.69" y="610.42" width="1.25" height="15.34" fill="#cfcdec"/>
<rect x="454.10" y="610.42" width="1.25" height="15.34" fill="#f0ecf5"/>
<rect x="455.30" y="610.42" width="1.25" height="15.34" fill="#f8c6c2"/>
<rect x="456.51" y="610.42" width="1.25" height="15.34" fill="#f0ecf5"/>
<rect x="457.71" y="610.42" width="2.46" height="15.34" fill="#9298d6"/>
<rect x="460.12" y="610.42" width="2.46" height="15.34" fill="#f8c6c2"/>
<rect x="462.52" y="610.42" width="1.25" height="15.34" fill="#e8262c"/>
<rect x="463.73" y="610.42" width="3.66" height="15.34" fill="#f0554e"/>
<rect x="467.34" y="610.42" width="2.46" height="15.34" fill="#e8262c"/>
<rect x="469.75" y="610.42" width="2.46" height="15.34" fill="#f0554e"/>
<rect x="472.15" y="610.42" width="1.25" height="15.34" fill="#e8262c"/>
<rect x="473.36" y="610.42" width="2.46" height="15.34" fill="#f0554e"/>
<rect x="475.76" y="610.42" width="1.25" height="15.34" fill="#e8262c"/>
<rect x="476.97" y="610.42" width="2.46" height="15.34" fill="#f0554e"/>
<rect x="479.38" y="610.42" width="1.25" height="15.34" fill="#e8262c"/>
<rect x="480.58" y="610.42" width="1.25" height="15.34" fill="#f0554e"/>
<rect x="481.78" y="610.42" width="1.25" height="15.34" fill="#e8262c"/>
<rect x="482.99" y="610.42" width="1.25" height="15.34" fill="#f0554e"/>
<rect x="484.19" y="610.42" width="1.25" height="15.34" fill="#f48f86"/>
<rect x="485.39" y="610.42" width="1.25" height="15.34" fill="#f8c6c2"/>
<rect x="486.60" y="610.42" width="1.25" height="15.34" fill="#e8262c"/>
<rect x="319.30" y="625.71" width="1.25" height="15.34" fill="#f8c6c2"/>
<rect x="320.50" y="625.71" width="1.25" height="15.34" fill="#9298d6"/>
<rect x="321.71" y="625.71" width="2.46" height="15.34" fill="#cfcdec"/>
<rect x="325.32" y="625.71" width="2.46" height="15.34" fill="#9298d6"/>
<rect x="328.93" y="625.71" width="1.25" height="15.34" fill="#9298d6"/>
<rect x="333.74" y="625.71" width="1.25" height="15.34" fill="#9298d6"/>
<rect x="342.17" y="625.71" width="1.25" height="15.34" fill="#cfcdec"/>
<rect x="343.37" y="625.71" width="1.25" height="15.34" fill="#9298d6"/>
<rect x="345.78" y="625.71" width="1.25" height="15.34" fill="#9298d6"/>
<rect x="354.20" y="625.71" width="6.07" height="15.34" fill="#9298d6"/>
<rect x="360.22" y="625.71" width="4.86" height="15.34" fill="#cfcdec"/>
<rect x="366.24" y="625.71" width="2.46" height="15.34" fill="#9298d6"/>
<rect x="373.46" y="625.71" width="1.25" height="15.34" fill="#9298d6"/>
<rect x="375.87" y="625.71" width="1.25" height="15.34" fill="#e8262c"/>
<rect x="377.07" y="625.71" width="4.86" height="15.34" fill="#f0554e"/>
<rect x="381.89" y="625.71" width="6.07" height="15.34" fill="#f48f86"/>
<rect x="387.90" y="625.71" width="4.86" height="15.34" fill="#e8262c"/>
<rect x="392.72" y="625.71" width="3.66" height="15.34" fill="#f8c6c2"/>
<rect x="396.33" y="625.71" width="1.25" height="15.34" fill="#f0554e"/>
<rect x="397.53" y="625.71" width="3.66" height="15.34" fill="#e8262c"/>
<rect x="401.14" y="625.71" width="2.46" height="15.34" fill="#f48f86"/>
<rect x="403.55" y="625.71" width="1.25" height="15.34" fill="#f8c6c2"/>
<rect x="404.75" y="625.71" width="1.25" height="15.34" fill="#e8262c"/>
<rect x="405.96" y="625.71" width="1.25" height="15.34" fill="#f8c6c2"/>
<rect x="407.16" y="625.71" width="1.25" height="15.34" fill="#f48f86"/>
<rect x="408.36" y="625.71" width="3.66" height="15.34" fill="#f8c6c2"/>
<rect x="411.98" y="625.71" width="2.46" height="15.34" fill="#f0554e"/>
<rect x="414.38" y="625.71" width="1.25" height="15.34" fill="#f48f86"/>
<rect x="415.59" y="625.71" width="1.25" height="15.34" fill="#f0554e"/>
<rect x="416.79" y="625.71" width="1.25" height="15.34" fill="#f48f86"/>
<rect x="417.99" y="625.71" width="3.66" height="15.34" fill="#f0554e"/>
<rect x="421.60" y="625.71" width="1.25" height="15.34" fill="#f8c6c2"/>
<rect x="422.81" y="625.71" width="1.25" height="15.34" fill="#cfcdec"/>
<rect x="424.01" y="625.71" width="1.25" height="15.34" fill="#f8c6c2"/>
<rect x="425.21" y="625.71" width="1.25" height="15.34" fill="#f0ecf5"/>
<rect x="426.42" y="625.71" width="4.86" height="15.34" fill="#f48f86"/>
<rect x="431.23" y="625.71" width="1.25" height="15.34" fill="#f0554e"/>
<rect x="432.44" y="625.71" width="1.25" height="15.34" fill="#f48f86"/>
<rect x="433.64" y="625.71" width="2.46" height="15.34" fill="#f0ecf5"/>
<rect x="436.05" y="625.71" width="1.25" height="15.34" fill="#cfcdec"/>
<rect x="437.25" y="625.71" width="1.25" height="15.34" fill="#f8c6c2"/>
<rect x="438.45" y="625.71" width="1.25" height="15.34" fill="#f48f86"/>
<rect x="439.66" y="625.71" width="1.25" height="15.34" fill="#f8c6c2"/>
<rect x="440.86" y="625.71" width="1.25" height="15.34" fill="#9298d6"/>
<rect x="442.06" y="625.71" width="1.25" height="15.34" fill="#cfcdec"/>
<rect x="443.27" y="625.71" width="1.25" height="15.34" fill="#f0ecf5"/>
<rect x="444.47" y="625.71" width="3.66" height="15.34" fill="#f8c6c2"/>
<rect x="448.08" y="625.71" width="1.25" height="15.34" fill="#f48f86"/>
<rect x="449.29" y="625.71" width="2.46" height="15.34" fill="#f8c6c2"/>
<rect x="451.69" y="625.71" width="1.25" height="15.34" fill="#cfcdec"/>
<rect x="452.90" y="625.71" width="1.25" height="15.34" fill="#9298d6"/>
<rect x="454.10" y="625.71" width="1.25" height="15.34" fill="#cfcdec"/>
<rect x="455.30" y="625.71" width="1.25" height="15.34" fill="#f8c6c2"/>
<rect x="456.51" y="625.71" width="3.66" height="15.34" fill="#9298d6"/>
<rect x="460.12" y="625.71" width="1.25" height="15.34" fill="#f8c6c2"/>
<rect x="461.32" y="625.71" width="1.25" height="15.34" fill="#f48f86"/>
<rect x="462.52" y="625.71" width="2.46" height="15.34" fill="#e8262c"/>
<rect x="464.93" y="625.71" width="1.25" height="15.34" fill="#f0554e"/>
<rect x="466.14" y="625.71" width="6.07" height="15.34" fill="#e8262c"/>
<rect x="472.15" y="625.71" width="2.46" height="15.34" fill="#f48f86"/>
<rect x="474.56" y="625.71" width="3.66" height="15.34" fill="#f0554e"/>
<rect x="478.17" y="625.71" width="1.25" height="15.34" fill="#f0ecf5"/>
<rect x="479.38" y="625.71" width="1.25" height="15.34" fill="#f48f86"/>
<rect x="480.58" y="625.71" width="3.66" height="15.34" fill="#e8262c"/>
<rect x="484.19" y="625.71" width="1.25" height="15.34" fill="#cfcdec"/>
<rect x="485.39" y="625.71" width="1.25" height="15.34" fill="#f0ecf5"/>
<rect x="486.60" y="625.71" width="1.25" height="15.34" fill="#e8262c"/>
</g>
<text x="316.30" y="529.11" font-size="6.6" text-anchor="end" fill="#333" stroke="#333" stroke-width="0.1">1315818</text>
<text x="316.30" y="544.39" font-size="6.6" text-anchor="end" fill="#333" stroke="#333" stroke-width="0.1">01-670</text>
<text x="316.30" y="559.68" font-size="6.6" text-anchor="end" fill="#333" stroke="#333" stroke-width="0.1">08-1417</text>
<text x="316.30" y="574.97" font-size="6.6" text-anchor="end" fill="#333" stroke="#333" stroke-width="0.1">1229314</text>
<text x="316.30" y="590.26" font-size="6.6" text-anchor="end" fill="#333" stroke="#333" stroke-width="0.1">1224099</text>
<text x="316.30" y="605.54" font-size="6.6" text-anchor="end" fill="#333" stroke="#333" stroke-width="0.1">K424</text>
<text x="316.30" y="620.83" font-size="6.6" text-anchor="end" fill="#333" stroke="#333" stroke-width="0.1">04-315</text>
<text x="316.30" y="636.12" font-size="6.6" text-anchor="end" fill="#333" stroke="#333" stroke-width="0.1">99-452</text>
<line x1="289.80" y1="595.60" x2="289.80" y2="625.40" stroke="#333" stroke-width="0.8"/>
<text transform="translate(284.0 611.4) rotate(-90)" x="0" y="2.1" font-size="6.3" text-anchor="middle" fill="#333" stroke="#333" stroke-width="0.15"><tspan font-style="italic">DNMT3A</tspan> mutant</text>
<path d="M319.30 519.00L319.30 510.24L320.10 510.24L320.50 509.04L321.30 509.04L321.40 508.42L322.20 508.42L322.10 506.92L322.90 506.92L323.00 506.83L323.80 506.83L324.20 507.56L325.00 507.56L325.40 506.80L326.20 506.80L326.00 508.57L326.80 508.57L327.20 507.42L328.00 507.42L327.90 506.47L328.70 506.47L328.60 506.05L329.40 506.05L329.80 507.75L330.60 507.75L331.00 505.90L331.80 505.90L331.90 506.07L332.70 506.07L332.60 505.18L333.40 505.18L333.80 505.95L334.60 505.95L334.50 505.47L335.30 505.47L335.40 506.67L336.20 506.67L336.60 504.68L337.40 504.68L337.00 507.82L337.80 507.82L337.70 508.38L338.50 508.38L338.90 507.39L339.70 507.39L339.80 507.64L340.60 507.64L340.50 507.02L341.30 507.02L341.40 506.29L342.20 506.29L342.10 507.80L342.90 507.80L342.80 507.29L343.60 507.29L344.00 505.70L344.80 505.70L345.20 504.80L346.00 504.80L345.90 506.48L346.70 506.48L346.80 505.23L347.60 505.23L347.00 506.56L347.80 506.56L347.70 505.40L348.50 505.40L348.60 507.16L349.40 507.16L349.50 507.15L350.30 507.15L350.40 506.51L351.20 506.51L351.30 508.57L352.10 508.57L352.00 509.15L352.80 509.15L353.20 507.92L354.00 507.92L354.10 510.54L354.90 510.54L354.80 509.69L355.60 509.69L356.00 510.35L356.80 510.35L356.00 512.06L356.80 512.06L357.20 511.00L358.00 511.00L357.90 512.50L358.70 512.50L358.60 511.50L359.40 511.50L359.50 511.94L360.30 511.94L360.70 510.41L361.50 510.41L361.40 512.09L362.20 512.09L362.10 510.15L362.90 510.15L362.80 510.33L363.60 510.33L363.70 511.51L364.50 511.51L364.40 510.23L365.20 510.23L365.60 509.37L366.40 509.37L366.50 509.28L367.30 509.28L367.20 509.04L368.00 509.04L368.40 510.89L369.20 510.89L369.30 509.66L370.10 509.66L370.20 509.09L371.00 509.09L370.90 510.06L371.70 510.06L371.60 509.31L372.40 509.31L372.50 508.40L373.30 508.40L373.40 509.79L374.20 509.79L374.00 512.49L374.80 512.49L374.90 510.98L375.70 510.98L375.60 511.37L376.40 511.37L376.30 511.30L377.10 511.30L377.20 510.58L378.00 510.58L377.90 509.70L378.70 509.70L379.10 510.03L379.90 510.03L379.80 510.95L380.60 510.95L381.00 510.12L381.80 510.12L382.20 510.00L383.00 510.00L382.90 508.94L383.70 508.94L383.80 509.00L384.60 509.00L384.70 509.26L385.50 509.26L385.60 509.34L386.40 509.34L386.50 509.56L387.30 509.56L387.70 508.72L388.50 508.72L388.40 508.19L389.20 508.19L389.10 508.91L389.90 508.91L389.80 507.52L390.60 507.52L390.50 508.90L391.30 508.90L391.40 507.90L392.20 507.90L392.00 511.07L392.80 511.07L393.20 510.78L394.00 510.78L393.90 511.18L394.70 511.18L394.60 510.41L395.40 510.41L395.30 511.03L396.10 511.03L396.20 509.11L397.00 509.11L396.90 508.73L397.70 508.73L398.10 509.69L398.90 509.69L399.00 508.88L399.80 508.88L399.90 508.94L400.70 508.94L400.60 508.25L401.40 508.25L401.30 509.02L402.10 509.02L402.20 508.73L403.00 508.73L403.40 507.63L404.20 507.63L404.10 507.32L404.90 507.32L405.00 506.88L405.80 506.88L405.70 507.15L406.50 507.15L406.40 508.12L407.20 508.12L407.10 508.18L407.90 508.18L408.30 508.82L409.10 508.82L409.50 508.84L410.30 508.84L410.70 508.17L411.50 508.17L411.90 509.55L412.70 509.55L412.80 509.41L413.60 509.41L414.00 507.92L414.80 507.92L414.90 508.21L415.70 508.21L416.10 509.08L416.90 509.08L417.30 510.09L418.10 510.09L418.50 510.32L419.30 510.32L419.70 508.98L420.50 508.98L420.90 510.06L421.70 510.06L422.10 509.52L422.90 509.52L423.00 512.50L423.80 512.50L424.20 511.36L425.00 511.36L424.90 512.22L425.70 512.22L425.80 511.37L426.60 511.37L426.70 512.39L427.50 512.39L427.40 511.04L428.20 511.04L428.60 510.44L429.40 510.44L429.50 510.93L430.30 510.93L430.20 510.40L431.00 510.40L431.40 510.67L432.20 510.67L432.60 510.26L433.40 510.26L433.50 511.05L434.30 511.05L434.20 510.95L435.00 510.95L435.10 510.77L435.90 510.77L436.00 509.13L436.80 509.13L436.90 508.90L437.70 508.90L437.80 508.54L438.60 508.54L438.70 509.26L439.50 509.26L439.60 509.42L440.40 509.42L440.80 509.48L441.60 509.48L441.70 509.10L442.50 509.10L442.60 507.72L443.40 507.72L443.30 507.43L444.10 507.43L444.00 509.11L444.80 509.11L445.20 508.95L446.00 508.95L446.40 508.80L447.20 508.80L447.60 509.68L448.40 509.68L448.50 508.17L449.30 508.17L449.40 509.46L450.20 509.46L450.30 508.25L451.10 508.25L451.50 507.81L452.30 507.81L452.20 509.58L453.00 509.58L452.90 509.20L453.70 509.20L453.80 508.25L454.60 508.25L454.50 508.56L455.30 508.56L455.20 508.58L456.00 508.58L456.40 507.57L457.20 507.57L457.60 507.93L458.40 507.93L458.30 507.34L459.10 507.34L459.00 507.92L459.80 507.92L459.70 507.93L460.50 507.93L460.00 508.59L460.80 508.59L461.20 509.34L462.00 509.34L461.90 507.53L462.70 507.53L462.80 508.31L463.60 508.31L463.50 507.32L464.30 507.32L464.70 508.62L465.50 508.62L465.90 507.31L466.70 507.31L467.10 507.75L467.90 507.75L468.00 507.37L468.80 507.37L468.90 507.21L469.70 507.21L470.00 507.18L470.80 507.18L470.70 506.40L471.50 506.40L471.90 507.39L472.70 507.39L472.60 505.92L473.40 505.92L473.30 508.06L474.10 508.06L474.50 506.20L475.30 506.20L475.70 507.57L476.50 507.57L476.40 507.34L477.20 507.34L477.10 507.64L477.90 507.64L478.00 507.07L478.80 507.07L478.70 506.50L479.50 506.50L479.90 508.48L480.70 508.48L480.80 508.47L481.60 508.47L481.70 507.02L482.50 507.02L482.60 508.71L483.40 508.71L483.80 507.45L484.60 507.45L484.70 508.12L485.50 508.12L485.40 508.68L486.20 508.68L486.30 508.56L487.10 508.56L487.50 509.03L487.80 509.03L488.00 519.00Z" fill="#000"/>
<path d="M324.37 507.81v2.29M324.84 511.03v1.77M320.26 509.43v2.02M324.13 510.47v0.99M324.45 508.73v1.83M322.49 508.76v1.41M329.20 509.80v1.35M332.77 507.10v1.01M327.18 509.42v1.92M328.40 510.20v0.99M326.87 509.51v1.92M333.03 510.30v1.06M335.81 508.28v1.51M333.41 507.72v1.69M327.28 508.24v1.22M326.90 510.03v1.70M343.15 510.39v1.96M341.94 510.57v2.18M344.76 506.92v1.92M339.46 508.78v2.25M342.30 507.58v2.36M341.01 507.80v2.31M344.64 510.94v1.43M343.02 508.62v2.03M343.32 510.42v2.30M351.79 508.91v1.21M355.48 511.02v2.06M353.42 509.58v1.44M348.16 509.40v1.17M351.82 509.12v1.44M348.55 511.03v1.53M352.14 511.52v1.90M349.19 510.81v2.29M365.39 510.64v1.67M363.71 511.27v2.06M369.27 510.51v1.28M363.81 511.63v1.63M365.64 511.31v0.95M370.49 510.49v2.10M369.02 510.38v2.39M363.19 512.19v1.90M366.39 511.03v2.40M368.98 510.21v1.62M380.80 510.59v1.65M382.35 511.20v1.84M384.67 510.31v2.20M387.27 510.77v1.28M387.79 509.63v2.29M377.88 510.99v2.24M379.74 511.06v1.12M388.63 510.94v1.92M379.53 511.74v1.21M382.96 510.49v1.23M386.17 510.97v1.87M380.76 511.69v1.11M386.34 510.76v1.08M403.07 509.28v0.93M401.20 509.81v1.57M398.51 509.37v1.46M400.13 509.88v1.45M396.66 510.26v1.85M397.98 510.56v1.24M401.97 511.45v1.86M397.96 511.26v1.78M399.50 511.45v1.64M394.48 510.63v1.39M396.44 511.44v0.97M408.67 511.04v1.84M419.90 511.37v1.07M414.59 511.39v1.51M418.43 511.34v1.95M414.66 511.47v1.26M415.69 511.48v1.21M415.30 509.62v1.68M416.78 511.74v1.35M410.91 508.92v1.44M418.84 511.74v1.65M420.65 510.23v1.77M408.60 508.64v1.02M421.90 510.33v1.98M414.52 511.26v1.41M416.79 510.16v1.48M419.12 511.71v1.33M430.00 511.12v2.03M436.74 510.83v1.25M430.98 510.85v1.54M437.32 510.33v1.61M434.63 511.22v1.20M433.39 511.46v1.40M441.77 510.31v1.20M440.87 510.66v1.90M436.51 510.84v2.00M434.07 511.26v1.32M435.39 510.17v1.94M451.70 510.83v2.24M457.19 511.18v1.92M456.08 509.72v2.35M457.69 510.88v2.40M449.41 510.78v2.36M447.01 510.82v1.84M448.59 511.08v2.09M453.69 509.64v2.08M457.58 509.02v2.14M459.18 510.09v1.95M452.21 509.12v1.88M450.96 509.99v1.34M446.44 510.86v1.11M444.56 511.60v1.58M467.37 511.16v1.86M461.50 510.20v1.34M464.51 509.21v1.52M464.03 509.22v1.07M463.64 509.36v2.15M469.31 510.25v1.84M463.31 509.41v2.17M461.72 510.64v2.30M463.67 509.57v2.13M475.18 508.39v0.91M476.22 510.70v1.42M474.08 511.16v2.10M473.41 509.06v1.73M484.77 508.93v1.83M473.34 508.34v1.05M486.10 510.64v1.28M474.14 509.77v2.09M484.86 509.25v1.99M474.60 510.07v1.36M477.78 508.27v2.39M471.91 507.43v2.28M478.24 508.94v2.08M473.64 508.91v2.37M485.29 508.78v1.03M482.51 509.91v2.26" fill="none" stroke="#fff" stroke-width="0.6" opacity="0.9"/>
<path d="M321.22 506.57V504.97H323.56V506.57M329.64 505.46V503.86H332.70V505.46M338.85 505.85V504.25H344.91V505.85M348.49 506.20V504.60H354.97V506.20M360.68 508.73V507.13H369.90V508.73M379.43 508.61V507.01H386.95V508.61M396.39 507.75V506.15H400.53V507.75M411.14 508.26V506.66H417.01V508.26M430.94 508.64V507.04H436.60V508.64M447.65 508.77V507.17H454.86V508.77M462.84 507.42V505.82H466.35V507.42M472.90 507.07V505.47H481.10V507.07" fill="none" stroke="#222" stroke-width="0.5"/>
<path d="M348.3 502.9V501.5H445.0V503.6M337.5 504.0V502.9H356.5V504.6M396.3 501.5V500.0H478.7V503.0M407.0 504.6V503.6H456.0V504.8M366.0 505.6V504.4H398.0V505.4M465.0 504.4V503.0H486.0V504.6" fill="none" stroke="#444" stroke-width="0.6"/>
<path d="M489.60 526.34H500.7V541.63H489.60M500.7 533.99H502.3V556.92H489.60M502.3 545.45H503.7V572.21H489.60M503.7 549.60H513.6V602.4H503.7M489.60 618.07H496.0V633.36H489.60M496.0 625.71H500.2V602.78H489.60M500.2 614.25H503.7V587.49H489.60" fill="none" stroke="#3a3a3a" stroke-width="0.6"/>
</g>
</svg>
</div>
</body>
</html>
